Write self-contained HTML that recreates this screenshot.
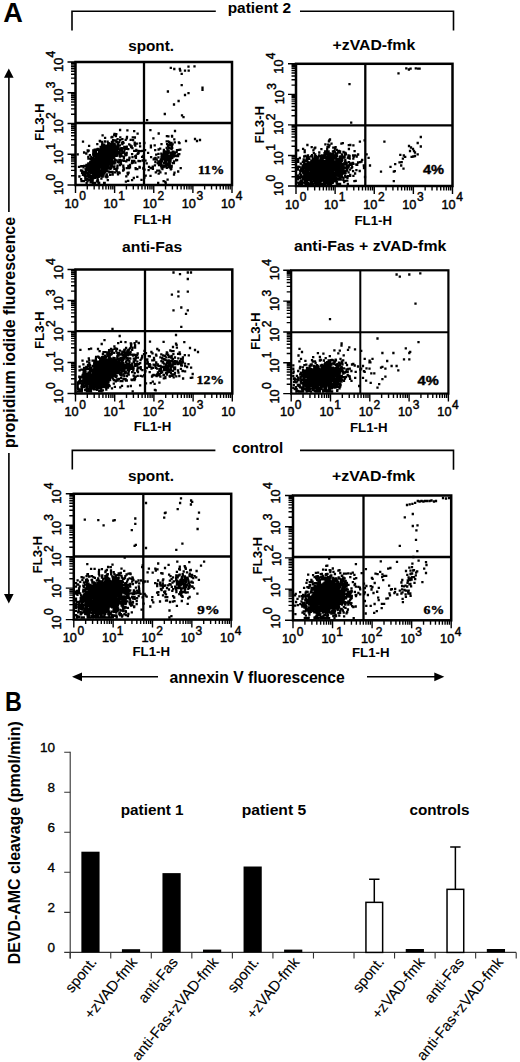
<!DOCTYPE html>
<html><head><meta charset="utf-8"><style>
html,body{margin:0;padding:0;background:#fff;}
svg{display:block;}
</style></head><body>
<svg width="520" height="1062" viewBox="0 0 520 1062">
<rect width="520" height="1062" fill="#fff"/>
<path d="M75.50 185.00v8 M75.50 185.00h-8 M87.28 185.00v4.5 M75.50 175.74h-4.5 M94.17 185.00v4.5 M75.50 170.33h-4.5 M99.06 185.00v4.5 M75.50 166.49h-4.5 M102.85 185.00v4.5 M75.50 163.51h-4.5 M105.95 185.00v4.5 M75.50 161.07h-4.5 M108.56 185.00v4.5 M75.50 159.01h-4.5 M110.83 185.00v4.5 M75.50 157.23h-4.5 M112.83 185.00v4.5 M75.50 155.66h-4.5 M114.62 185.00v8 M75.50 154.25h-8 M126.40 185.00v4.5 M75.50 144.99h-4.5 M133.29 185.00v4.5 M75.50 139.58h-4.5 M138.18 185.00v4.5 M75.50 135.74h-4.5 M141.97 185.00v4.5 M75.50 132.76h-4.5 M145.07 185.00v4.5 M75.50 130.32h-4.5 M147.69 185.00v4.5 M75.50 128.26h-4.5 M149.96 185.00v4.5 M75.50 126.48h-4.5 M151.96 185.00v4.5 M75.50 124.91h-4.5 M153.75 185.00v8 M75.50 123.50h-8 M165.53 185.00v4.5 M75.50 114.24h-4.5 M172.42 185.00v4.5 M75.50 108.83h-4.5 M177.31 185.00v4.5 M75.50 104.99h-4.5 M181.10 185.00v4.5 M75.50 102.01h-4.5 M184.20 185.00v4.5 M75.50 99.57h-4.5 M186.81 185.00v4.5 M75.50 97.51h-4.5 M189.08 185.00v4.5 M75.50 95.73h-4.5 M191.08 185.00v4.5 M75.50 94.16h-4.5 M192.88 185.00v8 M75.50 92.75h-8 M204.65 185.00v4.5 M75.50 83.49h-4.5 M211.54 185.00v4.5 M75.50 78.08h-4.5 M216.43 185.00v4.5 M75.50 74.24h-4.5 M220.22 185.00v4.5 M75.50 71.26h-4.5 M223.32 185.00v4.5 M75.50 68.82h-4.5 M225.94 185.00v4.5 M75.50 66.76h-4.5 M228.21 185.00v4.5 M75.50 64.98h-4.5 M230.21 185.00v4.5 M75.50 63.41h-4.5 M232.00 185.00v8 M75.50 62.00h-8" stroke="#000" stroke-width="1.4" fill="none"/>
<path d="M92.7 174.5h0M104.3 173.5h0M108.2 168.1h0M106.4 151.8h0M94.3 154.6h0M110.6 167.4h0M107.6 167.5h0M107.6 156.8h0M108.0 145.4h0M110.8 165.8h0M119.9 145.4h0M97.1 158.6h0M102.4 159.3h0M116.0 152.3h0M91.3 156.9h0M104.6 150.2h0M96.5 164.6h0M101.8 161.5h0M105.8 147.5h0M86.6 182.8h0M94.1 174.7h0M90.8 172.5h0M100.2 166.8h0M96.5 149.8h0M114.1 153.4h0M97.2 168.1h0M115.7 152.5h0M98.8 165.6h0M104.2 163.8h0M102.3 171.8h0M102.1 168.8h0M93.0 163.3h0M104.7 167.0h0M105.1 155.7h0M103.9 161.2h0M107.0 160.1h0M95.4 165.4h0M99.6 161.3h0M96.7 166.6h0M88.4 172.7h0M104.9 141.5h0M96.9 163.7h0M101.4 155.7h0M120.0 159.9h0M102.9 155.1h0M110.6 158.6h0M112.0 155.3h0M116.5 155.2h0M97.8 148.9h0M116.4 148.7h0M100.9 154.6h0M92.7 177.6h0M94.6 171.4h0M110.9 153.2h0M108.1 156.1h0M112.3 153.3h0M94.6 162.2h0M99.3 155.9h0M92.4 158.0h0M86.2 179.8h0M101.9 153.7h0M114.7 155.5h0M110.9 161.0h0M95.8 169.1h0M111.3 154.2h0M97.4 168.2h0M104.5 154.9h0M108.6 149.3h0M98.7 169.6h0M94.9 170.2h0M107.2 165.6h0M100.6 161.9h0M97.6 149.9h0M107.1 154.1h0M100.3 157.1h0M105.1 166.2h0M94.3 160.1h0M107.8 163.8h0M94.4 167.8h0M98.9 165.2h0M87.0 173.1h0M111.3 159.2h0M102.7 152.8h0M105.7 167.2h0M88.4 158.6h0M98.8 157.9h0M111.6 159.9h0M89.4 163.6h0M104.8 171.8h0M110.4 148.4h0M102.9 165.2h0M93.3 173.3h0M102.3 163.6h0M104.7 165.9h0M112.5 148.9h0M103.3 150.3h0M96.5 171.3h0M106.6 162.9h0M102.0 160.0h0M110.6 153.5h0M112.7 155.2h0M103.4 166.8h0M103.9 157.5h0M110.0 158.2h0M97.8 172.8h0M97.9 162.7h0M106.1 162.9h0M101.3 157.4h0M102.4 161.5h0M98.8 161.6h0M99.5 171.5h0M108.9 154.0h0M117.7 142.4h0M91.0 170.5h0M114.1 149.3h0M107.9 167.0h0M111.6 157.7h0M103.4 157.2h0M96.1 157.2h0M100.4 162.5h0M94.6 164.6h0M88.6 169.2h0M101.4 162.3h0M104.1 182.8h0M99.8 157.1h0M103.5 161.7h0M89.6 175.6h0M110.4 164.3h0M100.7 161.1h0M102.3 163.2h0M107.7 155.6h0M97.5 179.1h0M122.8 142.9h0M112.0 156.6h0M111.9 149.2h0M103.2 165.7h0M96.3 160.1h0M106.0 169.9h0M96.2 161.1h0M103.9 159.2h0M103.9 159.4h0M111.9 156.8h0M105.5 154.3h0M103.2 147.5h0M113.1 140.1h0M101.1 160.0h0M97.7 171.8h0M97.9 171.7h0M113.7 156.6h0M102.3 168.1h0M97.4 164.2h0M86.3 170.7h0M93.7 170.6h0M104.5 169.4h0M106.7 168.2h0M115.3 155.4h0M96.4 155.3h0M106.0 154.2h0M112.4 137.0h0M83.7 181.2h0M120.5 148.4h0M92.9 176.9h0M109.5 154.9h0M105.3 163.8h0M111.7 154.3h0M107.2 147.2h0M104.4 162.8h0M101.0 163.3h0M95.8 166.9h0M106.7 169.8h0M86.6 164.9h0M100.5 151.2h0M108.2 163.7h0M92.8 176.1h0M108.7 161.3h0M109.8 156.8h0M100.8 163.9h0M106.4 159.3h0M107.1 155.7h0M100.0 171.4h0M118.5 146.3h0M114.2 143.7h0M110.1 156.0h0M113.2 148.6h0M112.5 147.7h0M91.0 172.8h0M122.4 139.1h0M90.4 162.0h0M103.7 155.7h0M93.1 160.8h0M107.1 154.7h0M105.6 156.2h0M104.0 150.7h0M79.0 166.9h0M108.5 171.4h0M85.6 169.3h0M114.1 156.6h0M95.9 166.1h0M97.7 162.0h0M99.1 175.0h0M94.8 163.8h0M92.8 170.4h0M108.5 160.4h0M96.0 173.1h0M97.3 165.9h0M95.0 153.1h0M119.3 159.9h0M103.5 162.1h0M114.2 148.2h0M96.8 158.1h0M93.2 165.8h0M98.0 160.5h0M100.4 166.6h0M99.2 170.6h0M103.2 161.6h0M98.4 162.3h0M93.1 165.3h0M107.9 155.0h0M99.5 165.1h0M106.0 159.8h0M105.2 158.8h0M92.8 182.8h0M90.6 171.1h0M92.1 166.2h0M104.2 166.7h0M97.8 170.0h0M94.2 167.0h0M91.1 175.8h0M111.9 158.9h0M98.4 154.3h0M103.6 151.0h0M101.1 154.8h0M105.1 153.5h0M102.7 149.1h0M112.2 149.6h0M106.4 157.6h0M91.6 167.3h0M100.7 160.5h0M101.0 162.8h0M91.6 166.4h0M88.1 164.5h0M100.5 152.2h0M104.4 158.7h0M92.0 171.3h0M116.5 146.5h0M106.9 153.4h0M97.7 169.4h0M118.0 162.1h0M89.4 179.5h0M93.5 162.5h0M93.0 161.6h0M111.0 152.6h0M95.6 166.2h0M107.5 159.3h0M103.6 146.5h0M96.9 173.1h0M102.7 166.4h0M92.1 164.2h0M108.4 160.1h0M93.7 161.7h0M94.6 165.2h0M107.1 167.6h0M97.8 154.2h0M116.7 147.0h0M112.8 150.0h0M88.5 167.5h0M103.0 162.1h0M119.0 162.1h0M97.3 157.5h0M96.7 169.8h0M100.2 159.3h0M100.0 164.9h0M97.5 159.6h0M94.9 163.5h0M114.0 145.3h0M103.0 155.7h0M93.3 150.4h0M90.6 166.2h0M99.1 156.3h0M91.8 165.5h0M91.4 161.8h0M110.6 162.4h0M97.3 162.9h0M103.3 168.8h0M97.2 156.7h0M116.3 141.7h0M101.5 155.1h0M96.9 158.8h0M92.7 179.8h0M106.9 152.6h0M100.4 167.3h0M105.1 162.8h0M88.9 180.1h0M98.7 161.7h0M102.6 151.4h0M106.0 150.1h0M103.9 170.4h0M99.6 167.4h0M112.0 165.2h0M101.6 172.9h0M85.2 175.2h0M91.6 168.2h0M101.4 166.0h0M91.1 166.4h0M92.1 167.8h0M104.7 164.9h0M103.9 147.7h0M104.8 146.4h0M107.5 165.9h0M102.3 165.2h0M95.5 162.5h0M112.1 150.7h0M110.2 155.5h0M115.7 140.4h0M105.8 152.7h0M103.2 167.4h0M104.1 166.9h0M104.9 170.9h0M87.7 174.2h0M101.3 170.3h0M99.7 152.4h0M105.5 148.7h0M105.1 137.9h0M100.0 152.0h0M99.1 149.5h0M91.9 172.4h0M104.8 164.2h0M98.8 153.0h0M99.7 150.6h0M111.2 161.7h0M111.0 164.2h0M100.0 153.4h0M116.1 153.2h0M108.3 167.0h0M102.9 162.5h0M95.2 176.8h0M95.2 166.2h0M109.8 157.4h0M86.5 168.7h0M115.9 136.1h0M107.7 153.3h0M99.3 155.5h0M115.1 159.7h0M103.9 149.4h0M91.9 166.8h0M96.5 165.0h0M93.1 171.2h0M117.5 165.6h0M102.6 164.3h0M100.2 163.9h0M108.1 158.4h0M106.3 165.2h0M96.1 153.9h0M85.8 172.2h0M109.0 150.7h0M99.5 163.7h0M108.7 143.2h0M101.7 175.0h0M96.5 165.4h0M113.5 145.9h0M96.5 170.6h0M105.5 165.4h0M82.4 170.7h0M95.1 165.2h0M109.3 145.8h0M86.3 173.4h0M97.7 171.6h0M113.3 162.2h0M110.7 156.7h0M98.8 162.0h0M110.6 150.7h0M111.0 154.3h0M100.3 158.1h0M83.9 181.2h0M116.3 154.3h0M97.8 165.1h0M112.7 151.0h0M95.9 172.7h0M99.0 164.0h0M103.3 164.1h0M102.2 157.6h0M118.3 152.3h0M88.5 165.3h0M98.1 159.1h0M104.1 170.0h0M98.0 166.2h0M98.0 159.8h0M101.5 163.6h0M108.0 168.5h0M90.8 179.2h0M117.6 144.6h0M99.5 168.0h0M97.3 170.3h0M93.5 163.9h0M94.8 159.6h0M106.1 148.5h0M99.1 163.5h0M87.0 176.3h0M100.8 160.3h0M110.7 143.9h0M115.5 150.0h0M100.6 164.1h0M91.1 163.8h0M97.3 166.8h0M112.2 155.2h0M118.5 152.2h0M100.8 159.0h0M90.1 165.1h0M108.5 158.2h0M109.4 158.8h0M122.0 149.9h0M102.2 163.5h0M125.2 147.5h0M93.5 167.0h0M114.0 148.7h0M111.2 160.2h0M108.8 158.3h0M96.0 162.8h0M101.1 167.6h0M92.6 180.7h0M102.5 154.1h0M104.5 160.9h0M106.8 167.0h0M84.8 172.3h0M102.7 156.6h0M93.7 178.2h0M110.6 161.2h0M97.7 163.5h0M101.8 155.3h0M100.4 165.8h0M92.4 165.4h0M94.9 176.3h0M112.3 159.7h0M82.1 172.9h0M97.9 163.2h0M108.6 150.8h0M108.8 162.1h0M86.2 165.7h0M103.4 156.4h0M104.0 160.5h0M98.8 176.9h0M103.3 157.4h0M106.3 154.7h0M109.7 156.9h0M101.1 164.7h0M95.1 182.8h0M90.6 170.6h0M96.0 158.3h0M96.6 174.4h0M101.7 165.0h0M117.7 153.0h0M106.9 158.7h0M109.5 164.5h0M98.6 167.0h0M93.2 162.2h0M98.9 166.1h0M97.8 175.6h0M118.6 153.2h0M113.8 150.9h0M108.9 153.1h0M101.4 178.6h0M91.7 177.4h0M99.5 157.0h0M97.1 168.9h0M96.0 174.7h0M105.5 165.1h0M118.7 149.4h0M100.7 148.6h0M103.1 159.0h0M104.8 158.3h0M96.9 170.6h0M113.0 152.0h0M106.6 154.2h0M103.1 171.7h0M106.9 164.8h0M98.7 159.2h0M100.6 146.9h0M112.7 141.3h0M110.5 154.2h0M91.0 167.4h0M122.5 153.2h0M106.3 170.9h0M94.9 167.8h0M107.5 159.1h0M107.6 146.9h0M112.4 152.5h0M88.9 176.8h0M112.7 145.4h0M99.9 160.4h0M99.0 151.3h0M102.8 158.2h0M106.4 170.4h0M104.6 153.9h0M99.9 159.2h0M107.8 153.6h0M125.9 147.1h0M100.0 158.6h0M112.8 143.8h0M110.2 174.9h0M92.0 158.8h0M106.9 157.8h0M118.0 147.9h0M93.3 152.5h0M99.2 182.8h0M96.4 161.5h0M113.6 149.9h0M97.1 169.6h0M102.0 145.8h0M105.9 156.7h0M110.5 145.6h0M108.3 151.3h0M94.9 162.0h0M86.3 153.5h0M110.0 151.2h0M102.6 162.0h0M107.2 149.9h0M97.2 165.1h0M102.0 158.7h0M113.1 162.9h0M90.2 167.5h0M89.5 169.7h0M112.6 151.7h0M103.3 171.7h0M94.3 169.1h0M88.8 172.2h0M102.7 165.8h0M103.2 175.3h0M100.6 155.8h0M112.7 163.7h0M94.0 159.1h0M114.2 158.1h0M97.3 173.0h0M114.3 161.4h0M97.0 181.3h0M91.9 158.7h0M106.2 162.2h0M117.1 147.7h0M90.8 166.2h0M102.2 161.0h0M123.5 142.9h0M106.8 150.6h0M98.0 180.5h0M109.4 156.5h0M105.1 146.2h0M101.3 159.8h0M99.9 162.9h0M112.4 152.0h0M103.3 158.2h0M96.0 174.2h0M98.0 159.7h0M104.5 156.1h0M105.6 154.8h0M109.2 151.3h0M92.4 168.5h0M87.5 178.8h0M99.4 163.9h0M104.7 160.4h0M109.8 152.4h0M99.1 152.5h0M110.4 168.8h0M101.7 159.5h0M111.2 148.0h0M107.3 157.8h0M95.6 173.7h0M109.2 159.0h0M82.7 166.2h0M108.8 152.6h0M100.8 155.4h0M95.0 164.4h0M120.3 137.4h0M95.0 177.9h0M96.9 167.1h0M99.5 164.7h0M106.4 162.5h0M105.4 152.7h0M82.9 174.8h0M111.5 166.3h0M110.8 165.4h0M109.6 148.0h0M106.1 154.9h0M89.9 167.1h0M108.2 143.6h0M93.5 166.6h0M107.4 156.2h0M94.1 156.1h0M93.5 165.0h0M106.9 152.1h0M110.4 162.2h0M97.7 170.2h0M102.1 170.3h0M112.8 151.5h0M104.3 161.8h0M87.5 181.3h0M95.3 170.6h0M111.9 153.0h0M113.0 155.1h0M112.6 173.4h0M94.9 169.0h0M107.8 150.0h0M101.0 166.1h0M94.8 171.1h0M117.8 153.3h0M101.4 165.6h0M112.0 160.4h0M103.8 154.1h0M105.4 145.8h0M103.5 159.6h0M120.0 154.5h0M105.0 151.4h0M104.3 167.6h0M103.4 154.1h0M111.6 155.2h0M95.5 166.5h0M89.8 179.6h0M104.1 151.8h0M105.7 152.2h0M92.5 164.4h0M104.2 161.6h0M89.1 179.5h0M84.9 173.1h0M102.0 158.1h0M108.7 163.5h0M91.2 178.6h0M111.5 137.3h0M102.9 164.4h0M105.6 151.0h0M117.6 153.6h0M101.8 162.7h0M100.6 164.3h0M98.6 162.8h0M101.3 167.4h0M90.2 162.5h0M93.4 177.4h0M87.5 176.3h0M108.2 147.8h0M101.1 150.1h0M111.8 166.2h0M98.9 155.7h0M94.4 167.1h0M116.0 155.2h0M79.4 176.5h0M103.2 146.7h0M114.6 152.0h0M102.1 166.1h0M85.4 179.8h0M96.4 162.5h0M94.2 160.7h0M111.9 142.1h0M98.5 159.4h0M107.9 160.8h0M97.8 163.3h0M96.5 172.8h0M99.4 158.6h0M84.9 175.8h0M106.7 156.5h0M84.6 175.6h0M101.5 156.0h0M112.3 155.6h0M102.2 174.6h0M99.5 153.7h0M104.3 165.5h0M105.8 153.6h0M109.1 156.9h0M98.2 161.6h0M93.8 177.4h0M100.8 159.7h0M120.1 161.3h0M108.1 157.4h0M104.5 151.1h0M117.9 152.8h0M102.6 156.0h0M89.7 175.0h0M100.5 156.4h0M97.6 165.7h0M97.4 176.9h0M112.3 157.2h0M106.7 153.5h0M115.0 140.5h0M104.2 158.6h0M93.2 175.6h0M87.9 168.7h0M100.9 162.2h0M114.8 151.6h0M93.0 167.7h0M102.3 143.3h0M88.7 150.7h0M94.6 173.5h0M113.0 150.5h0M96.6 172.7h0M102.7 171.2h0M101.4 158.2h0M111.4 162.3h0M109.6 163.7h0M105.5 161.3h0M95.4 163.2h0M109.6 152.9h0M85.3 177.7h0M110.0 150.5h0M102.1 144.6h0M95.2 154.0h0M105.6 155.6h0M104.3 144.7h0M95.8 167.8h0M109.1 157.9h0M106.2 161.4h0M116.7 160.4h0M110.0 153.6h0M114.8 144.3h0M94.9 163.0h0M104.8 152.5h0M110.4 163.4h0M108.8 156.0h0M93.7 173.8h0M94.4 170.3h0M111.5 147.2h0M107.8 156.5h0M127.0 136.9h0M95.9 152.1h0M89.1 169.8h0M92.7 159.7h0M104.6 170.0h0M104.6 156.4h0M99.9 158.0h0M96.1 163.9h0M104.5 151.3h0M98.1 164.4h0M109.7 159.3h0M97.3 155.2h0M111.8 148.5h0M111.8 159.8h0M115.1 146.6h0M94.7 165.3h0M110.1 149.6h0M113.4 147.1h0M94.8 152.7h0M101.1 171.1h0M107.1 158.9h0M88.7 168.7h0M97.2 174.6h0M117.2 141.8h0M110.8 157.1h0M112.7 174.7h0M91.6 161.1h0M123.8 156.6h0M85.8 171.6h0M88.3 156.9h0M132.8 137.3h0M117.6 139.1h0M122.4 144.0h0M102.0 165.0h0M91.0 176.6h0M104.7 152.2h0M127.3 159.9h0M134.2 131.2h0M101.5 157.0h0M117.3 167.7h0M97.1 165.9h0M100.2 160.9h0M102.0 162.8h0M88.4 163.4h0M90.5 177.0h0M145.1 150.2h0M92.2 161.1h0M134.3 160.9h0M98.5 174.2h0M84.3 172.2h0M139.9 143.4h0M117.0 150.6h0M120.1 140.2h0M86.4 167.4h0M130.4 145.4h0M103.8 151.6h0M107.5 145.7h0M84.1 152.5h0M102.9 148.2h0M126.7 153.0h0M98.9 169.1h0M96.8 149.5h0M124.7 149.4h0M91.1 159.0h0M125.7 139.9h0M107.6 141.7h0M134.2 150.8h0M135.4 162.7h0M112.2 152.4h0M91.2 180.2h0M122.5 142.8h0M120.0 150.2h0M106.1 171.3h0M119.8 149.6h0M108.7 152.0h0M80.9 166.4h0M116.7 168.9h0M105.3 163.6h0M100.2 141.4h0M135.3 145.6h0M89.5 171.9h0M105.2 167.3h0M137.6 133.7h0M102.0 172.4h0M93.2 154.5h0M110.3 171.8h0M114.5 133.9h0M114.4 163.5h0M99.1 162.5h0M104.7 182.8h0M103.7 159.1h0M120.1 130.0h0M158.7 133.5h0M112.6 172.0h0M111.9 165.7h0M92.0 165.2h0M123.9 158.3h0M98.3 182.5h0M137.3 176.8h0M100.6 157.3h0M134.9 137.5h0M102.0 141.9h0M122.9 142.1h0M105.8 160.9h0M133.3 137.3h0M140.1 146.3h0M107.8 180.1h0M111.2 168.0h0M116.3 134.2h0M120.0 165.2h0M103.8 162.1h0M106.4 156.2h0M100.7 174.6h0M128.3 149.1h0M102.1 163.8h0M106.7 177.3h0M106.8 174.3h0M105.9 145.8h0M98.6 155.3h0M107.6 158.3h0M144.4 143.0h0M96.8 162.5h0M95.7 172.7h0M120.8 161.9h0M84.2 173.3h0M113.8 167.0h0M94.2 150.8h0M90.7 159.0h0M81.5 181.0h0M117.9 144.5h0M87.9 151.3h0M100.7 148.1h0M99.7 174.0h0M136.3 149.8h0M121.0 154.1h0M130.7 139.8h0M87.7 150.5h0M114.4 168.9h0M127.4 130.4h0M119.2 142.4h0M84.2 165.9h0M94.7 149.6h0M120.8 149.8h0M81.1 179.2h0M114.2 135.2h0M116.3 155.9h0M101.3 176.2h0M87.7 169.8h0M111.6 148.0h0M81.0 170.5h0M90.6 182.4h0M123.4 167.1h0M124.1 151.6h0M97.7 159.1h0M128.2 167.7h0M77.7 154.3h0M88.7 166.4h0M102.6 135.3h0M119.8 152.0h0M102.7 176.7h0M103.4 165.7h0M97.6 178.7h0M126.8 146.6h0M93.6 158.0h0M81.7 166.2h0M112.7 157.6h0M117.4 155.5h0M110.5 163.0h0M115.3 162.6h0M99.4 175.4h0M89.9 155.2h0M117.9 144.1h0M128.9 160.1h0M90.0 166.2h0M106.3 168.5h0M93.5 151.9h0M108.9 153.6h0M83.5 167.3h0M118.9 172.4h0M123.3 165.6h0M117.7 172.7h0M115.0 172.4h0M120.0 156.7h0M140.1 161.2h0M125.5 155.4h0M129.2 144.4h0M121.0 164.0h0M122.2 143.0h0M126.3 176.3h0M109.4 172.4h0M116.1 169.3h0M137.6 153.9h0M132.1 161.0h0M119.6 173.0h0M131.7 146.3h0M123.0 152.2h0M130.0 167.4h0M123.4 152.6h0M129.1 168.2h0M134.7 144.4h0M129.4 158.3h0M122.2 151.8h0M135.8 150.8h0M135.9 157.9h0M128.4 166.0h0M135.8 169.2h0M136.0 155.7h0M133.1 140.1h0M114.4 166.3h0M127.8 174.3h0M132.9 162.7h0M125.9 181.6h0M118.0 174.3h0M129.5 157.6h0M117.4 168.0h0M119.3 162.5h0M132.4 148.2h0M132.5 157.1h0M123.7 168.3h0M126.0 148.9h0M139.8 167.6h0M109.8 147.1h0M128.6 172.7h0M131.9 163.2h0M135.2 156.4h0M127.2 160.1h0M122.8 148.4h0M139.5 167.0h0M123.9 169.7h0M126.7 148.0h0M142.7 160.5h0M124.2 160.9h0M121.7 148.1h0M133.8 178.0h0M107.5 176.7h0M121.5 156.0h0M126.3 161.3h0M128.2 180.8h0M107.7 165.4h0M122.1 160.5h0M130.0 165.0h0M116.7 170.8h0M118.4 161.7h0M111.4 165.3h0M137.3 169.1h0M138.3 152.4h0M138.3 150.9h0M119.8 162.1h0M126.8 138.3h0M131.2 147.1h0M138.5 161.0h0M89.1 145.9h0M105.7 176.5h0M127.6 172.9h0M124.3 147.0h0M132.1 154.1h0M142.4 150.8h0M125.2 153.8h0M128.2 173.2h0M142.1 156.9h0M123.1 170.5h0M83.0 141.7h0M134.7 142.7h0M99.2 156.0h0M97.3 144.1h0M105.2 149.7h0M136.8 143.6h0M124.0 152.4h0M140.6 151.2h0M126.5 154.9h0M107.0 146.0h0M99.8 140.8h0M141.5 179.8h0M97.9 164.2h0M126.8 168.1h0M174.5 155.2h0M169.6 158.4h0M172.4 156.6h0M161.7 166.8h0M171.9 146.8h0M166.8 167.9h0M174.3 152.3h0M164.5 152.4h0M169.4 163.4h0M170.2 143.4h0M177.7 154.4h0M170.5 143.1h0M163.0 165.8h0M169.0 152.7h0M178.2 171.5h0M163.8 151.8h0M159.4 170.6h0M164.4 157.2h0M172.5 154.4h0M158.4 157.3h0M161.9 155.4h0M180.3 149.6h0M166.1 166.5h0M166.4 162.2h0M168.9 160.6h0M168.7 150.4h0M164.0 159.4h0M166.1 162.1h0M158.5 153.9h0M170.3 160.8h0M168.6 164.6h0M179.3 154.1h0M163.7 159.4h0M164.8 161.5h0M163.8 154.2h0M165.9 164.4h0M171.1 167.3h0M173.3 154.1h0M165.4 159.7h0M166.9 155.0h0M163.8 156.2h0M172.8 151.9h0M161.8 154.6h0M163.3 165.3h0M167.0 155.6h0M168.0 156.2h0M160.3 160.9h0M166.1 163.9h0M170.5 161.3h0M163.7 167.2h0M163.9 150.0h0M177.8 154.3h0M172.8 163.2h0M178.9 142.3h0M177.0 150.1h0M171.1 148.4h0M172.9 155.4h0M157.8 163.4h0M160.8 161.2h0M165.8 155.4h0M172.3 158.1h0M168.2 151.2h0M164.1 165.5h0M160.8 159.7h0M174.8 142.3h0M161.4 158.8h0M168.3 159.4h0M167.9 141.4h0M165.7 173.3h0M168.2 153.0h0M168.7 145.2h0M176.1 160.4h0M162.4 169.1h0M161.8 161.3h0M174.9 153.1h0M171.6 166.8h0M169.0 161.3h0M168.3 146.1h0M166.5 164.4h0M169.8 163.8h0M172.6 144.3h0M171.8 145.5h0M167.9 165.0h0M167.5 153.5h0M155.1 159.2h0M174.0 161.3h0M165.4 156.2h0M164.7 151.4h0M170.7 159.4h0M167.6 156.1h0M166.0 158.4h0M167.2 158.0h0M171.5 143.0h0M168.2 156.9h0M167.2 156.8h0M161.6 161.4h0M173.3 156.6h0M161.5 161.2h0M163.8 159.1h0M170.2 160.8h0M165.6 158.6h0M169.9 165.8h0M161.5 156.9h0M167.0 154.3h0M171.7 165.9h0M174.5 156.2h0M166.1 156.9h0M169.1 147.9h0M170.2 158.4h0M179.5 143.1h0M162.5 155.0h0M176.7 151.8h0M163.0 166.6h0M169.6 162.0h0M173.9 156.3h0M161.0 163.5h0M171.0 154.7h0M159.0 165.2h0M171.4 155.3h0M168.8 160.0h0M178.1 156.2h0M169.7 143.0h0M170.9 145.3h0M166.7 141.4h0M174.3 139.4h0M164.7 155.2h0M162.7 157.8h0M167.8 163.6h0M171.3 168.9h0M171.1 152.7h0M167.6 164.9h0M159.8 164.2h0M160.2 148.7h0M167.4 150.0h0M171.6 149.1h0M176.3 155.9h0M173.9 163.1h0M172.2 147.9h0M166.3 153.7h0M166.8 159.9h0M164.8 153.4h0M165.2 165.4h0M171.7 158.2h0M165.5 165.6h0M166.0 151.8h0M168.6 166.9h0M148.6 170.2h0M167.6 179.6h0M165.3 181.8h0M168.0 146.0h0M168.4 136.4h0M166.9 136.2h0M156.2 154.6h0M178.8 149.9h0M143.3 155.9h0M173.4 151.7h0M161.9 160.1h0M156.7 159.6h0M149.0 166.8h0M154.7 145.4h0M154.5 158.4h0M135.6 168.2h0M163.6 181.1h0M143.3 168.6h0M151.1 157.2h0M143.5 167.8h0M180.7 168.1h0M160.1 162.1h0M165.1 157.4h0M161.3 153.6h0M161.5 144.1h0M150.9 145.7h0M177.1 160.1h0M166.7 147.9h0M148.1 152.9h0M163.8 162.9h0M152.9 168.9h0M146.7 163.4h0M144.0 159.5h0M155.4 162.1h0M144.4 177.7h0M150.9 147.3h0M158.2 182.8h0M145.7 175.7h0M155.6 159.5h0M150.5 175.9h0M176.1 159.8h0M158.3 161.5h0M174.0 174.7h0M170.8 169.3h0M169.2 141.9h0M153.7 159.3h0M157.3 170.7h0M172.1 136.5h0M169.6 155.7h0M150.4 130.2h0M132.1 180.1h0M160.6 161.5h0M152.8 166.7h0M169.7 167.5h0M167.1 144.1h0M155.8 172.4h0M138.6 153.0h0M165.7 182.8h0M155.2 150.2h0M161.1 166.0h0M160.4 172.4h0M158.6 149.5h0M162.6 159.4h0M154.9 165.3h0M158.7 173.6h0M161.6 167.6h0M150.6 168.0h0M153.4 138.3h0M145.5 160.6h0M174.5 172.7h0M155.6 157.8h0M177.1 156.0h0M144.5 169.7h0M169.5 157.1h0M171.9 157.2h0M170.8 67.8h0M174.3 69.0h0M179.8 69.0h0M180.3 70.7h0M185.0 70.7h0M188.5 66.6h0M188.7 70.7h0M194.5 66.4h0M181.7 73.8h0M181.7 85.1h0M167.9 91.5h0M202.5 87.7h0M202.5 89.8h0M188.5 93.2h0M185.0 95.0h0M178.6 101.0h0M174.0 104.5h0M164.8 114.0h0M182.0 115.4h0M183.5 117.1h0M147.1 120.2h0M172.0 136.0h0M186.0 141.0h0M195.0 139.0h0M197.0 141.0h0M200.0 140.0h0M175.0 131.0h0" stroke="#000" stroke-width="2.3" stroke-linecap="square" fill="none"/>
<rect x="75.50" y="62.00" width="156.50" height="123.00" fill="none" stroke="#000" stroke-width="2.5"/>
<line x1="144.00" y1="62.00" x2="144.00" y2="185.00" stroke="#000" stroke-width="2.3"/>
<line x1="75.50" y1="123.00" x2="232.00" y2="123.00" stroke="#000" stroke-width="2.3"/>
<text x="71.50" y="207.80" font-size="13" font-weight="normal" font-family="'Liberation Sans', sans-serif" text-anchor="middle" textLength="14.2" lengthAdjust="spacingAndGlyphs" stroke="#000" stroke-width="0.45">10</text>
<text x="82.50" y="200.30" font-size="12" font-weight="normal" font-family="'Liberation Sans', sans-serif" text-anchor="middle" stroke="#000" stroke-width="0.45">0</text>
<text x="110.62" y="207.80" font-size="13" font-weight="normal" font-family="'Liberation Sans', sans-serif" text-anchor="middle" textLength="14.2" lengthAdjust="spacingAndGlyphs" stroke="#000" stroke-width="0.45">10</text>
<text x="121.62" y="200.30" font-size="12" font-weight="normal" font-family="'Liberation Sans', sans-serif" text-anchor="middle" stroke="#000" stroke-width="0.45">1</text>
<text x="149.75" y="207.80" font-size="13" font-weight="normal" font-family="'Liberation Sans', sans-serif" text-anchor="middle" textLength="14.2" lengthAdjust="spacingAndGlyphs" stroke="#000" stroke-width="0.45">10</text>
<text x="160.75" y="200.30" font-size="12" font-weight="normal" font-family="'Liberation Sans', sans-serif" text-anchor="middle" stroke="#000" stroke-width="0.45">2</text>
<text x="188.88" y="207.80" font-size="13" font-weight="normal" font-family="'Liberation Sans', sans-serif" text-anchor="middle" textLength="14.2" lengthAdjust="spacingAndGlyphs" stroke="#000" stroke-width="0.45">10</text>
<text x="199.88" y="200.30" font-size="12" font-weight="normal" font-family="'Liberation Sans', sans-serif" text-anchor="middle" stroke="#000" stroke-width="0.45">3</text>
<text x="228.00" y="207.80" font-size="13" font-weight="normal" font-family="'Liberation Sans', sans-serif" text-anchor="middle" textLength="14.2" lengthAdjust="spacingAndGlyphs" stroke="#000" stroke-width="0.45">10</text>
<text x="239.00" y="200.30" font-size="12" font-weight="normal" font-family="'Liberation Sans', sans-serif" text-anchor="middle" stroke="#000" stroke-width="0.45">4</text>
<text x="63.00" y="194.90" font-size="13" font-weight="normal" font-family="'Liberation Sans', sans-serif" textLength="14.2" lengthAdjust="spacingAndGlyphs" transform="rotate(-90 63.00 194.90)" stroke="#000" stroke-width="0.45">10</text>
<text x="55.00" y="180.40" font-size="12" font-weight="normal" font-family="'Liberation Sans', sans-serif" transform="rotate(-90 55.00 180.40)" stroke="#000" stroke-width="0.45">0</text>
<text x="63.00" y="164.15" font-size="13" font-weight="normal" font-family="'Liberation Sans', sans-serif" textLength="14.2" lengthAdjust="spacingAndGlyphs" transform="rotate(-90 63.00 164.15)" stroke="#000" stroke-width="0.45">10</text>
<text x="55.00" y="149.65" font-size="12" font-weight="normal" font-family="'Liberation Sans', sans-serif" transform="rotate(-90 55.00 149.65)" stroke="#000" stroke-width="0.45">1</text>
<text x="63.00" y="133.40" font-size="13" font-weight="normal" font-family="'Liberation Sans', sans-serif" textLength="14.2" lengthAdjust="spacingAndGlyphs" transform="rotate(-90 63.00 133.40)" stroke="#000" stroke-width="0.45">10</text>
<text x="55.00" y="118.90" font-size="12" font-weight="normal" font-family="'Liberation Sans', sans-serif" transform="rotate(-90 55.00 118.90)" stroke="#000" stroke-width="0.45">2</text>
<text x="63.00" y="102.65" font-size="13" font-weight="normal" font-family="'Liberation Sans', sans-serif" textLength="14.2" lengthAdjust="spacingAndGlyphs" transform="rotate(-90 63.00 102.65)" stroke="#000" stroke-width="0.45">10</text>
<text x="55.00" y="88.15" font-size="12" font-weight="normal" font-family="'Liberation Sans', sans-serif" transform="rotate(-90 55.00 88.15)" stroke="#000" stroke-width="0.45">3</text>
<text x="63.00" y="71.90" font-size="13" font-weight="normal" font-family="'Liberation Sans', sans-serif" textLength="14.2" lengthAdjust="spacingAndGlyphs" transform="rotate(-90 63.00 71.90)" stroke="#000" stroke-width="0.45">10</text>
<text x="55.00" y="57.40" font-size="12" font-weight="normal" font-family="'Liberation Sans', sans-serif" transform="rotate(-90 55.00 57.40)" stroke="#000" stroke-width="0.45">4</text>
<text x="133.80" y="223.70" font-size="13.5" font-weight="bold" font-family="'Liberation Sans', sans-serif" textLength="37.5" lengthAdjust="spacingAndGlyphs" >FL1-H</text>
<text x="44.00" y="141.00" font-size="13.5" font-weight="bold" font-family="'Liberation Sans', sans-serif" textLength="37.5" lengthAdjust="spacingAndGlyphs" transform="rotate(-90 44.00 141.00)" >FL3-H</text>
<text x="128.20" y="51.30" font-size="15.5" font-weight="bold" font-family="'Liberation Sans', sans-serif" textLength="45.8" lengthAdjust="spacingAndGlyphs" >spont.</text>
<text x="198.00" y="173.90" font-size="13.5" font-weight="bold" font-family="'Liberation Serif', serif" textLength="26.4" lengthAdjust="spacingAndGlyphs" stroke="#000" stroke-width="0.4">11%</text>
<path d="M296.00 186.00v8 M296.00 186.00h-8 M307.78 186.00v4.5 M296.00 176.80h-4.5 M314.67 186.00v4.5 M296.00 171.42h-4.5 M319.56 186.00v4.5 M296.00 167.61h-4.5 M323.35 186.00v4.5 M296.00 164.65h-4.5 M326.45 186.00v4.5 M296.00 162.23h-4.5 M329.06 186.00v4.5 M296.00 160.18h-4.5 M331.33 186.00v4.5 M296.00 158.41h-4.5 M333.33 186.00v4.5 M296.00 156.85h-4.5 M335.12 186.00v8 M296.00 155.45h-8 M346.90 186.00v4.5 M296.00 146.25h-4.5 M353.79 186.00v4.5 M296.00 140.87h-4.5 M358.68 186.00v4.5 M296.00 137.06h-4.5 M362.47 186.00v4.5 M296.00 134.10h-4.5 M365.57 186.00v4.5 M296.00 131.68h-4.5 M368.19 186.00v4.5 M296.00 129.63h-4.5 M370.46 186.00v4.5 M296.00 127.86h-4.5 M372.46 186.00v4.5 M296.00 126.30h-4.5 M374.25 186.00v8 M296.00 124.90h-8 M386.03 186.00v4.5 M296.00 115.70h-4.5 M392.92 186.00v4.5 M296.00 110.32h-4.5 M397.81 186.00v4.5 M296.00 106.51h-4.5 M401.60 186.00v4.5 M296.00 103.55h-4.5 M404.70 186.00v4.5 M296.00 101.13h-4.5 M407.31 186.00v4.5 M296.00 99.08h-4.5 M409.58 186.00v4.5 M296.00 97.31h-4.5 M411.58 186.00v4.5 M296.00 95.75h-4.5 M413.38 186.00v8 M296.00 94.35h-8 M425.15 186.00v4.5 M296.00 85.15h-4.5 M432.04 186.00v4.5 M296.00 79.77h-4.5 M436.93 186.00v4.5 M296.00 75.96h-4.5 M440.72 186.00v4.5 M296.00 73.00h-4.5 M443.82 186.00v4.5 M296.00 70.58h-4.5 M446.44 186.00v4.5 M296.00 68.53h-4.5 M448.71 186.00v4.5 M296.00 66.76h-4.5 M450.71 186.00v4.5 M296.00 65.20h-4.5 M452.50 186.00v8 M296.00 63.80h-8" stroke="#000" stroke-width="1.4" fill="none"/>
<path d="M314.5 148.4h0M299.6 166.8h0M331.2 178.0h0M332.9 164.4h0M320.3 177.8h0M328.4 178.1h0M344.5 152.6h0M336.7 164.1h0M332.5 167.2h0M332.3 180.3h0M313.6 183.8h0M335.6 161.8h0M304.2 178.8h0M320.0 173.3h0M318.8 161.7h0M303.3 182.6h0M322.7 183.8h0M343.7 157.7h0M319.9 175.9h0M309.5 166.7h0M322.9 178.8h0M334.2 177.1h0M326.3 166.5h0M324.0 168.3h0M307.1 183.8h0M330.0 167.1h0M329.8 177.5h0M340.1 152.5h0M341.9 154.4h0M332.3 177.0h0M304.3 175.1h0M306.8 170.2h0M310.8 162.7h0M327.5 170.6h0M314.6 160.0h0M339.7 165.2h0M326.9 174.2h0M328.4 166.1h0M333.0 154.6h0M328.1 154.6h0M307.1 168.3h0M353.4 145.3h0M341.6 172.4h0M342.3 159.9h0M315.0 165.3h0M301.8 169.9h0M305.9 165.7h0M311.4 182.1h0M334.6 161.5h0M334.8 156.9h0M341.5 174.6h0M349.7 158.5h0M330.3 180.1h0M328.3 174.2h0M319.6 166.2h0M320.0 170.5h0M310.1 163.0h0M330.1 158.6h0M327.8 177.6h0M319.1 167.0h0M314.3 169.4h0M329.5 164.2h0M339.7 167.5h0M325.0 166.7h0M327.4 169.2h0M317.4 171.0h0M321.0 180.9h0M320.2 166.2h0M320.6 169.4h0M316.8 171.9h0M328.8 161.1h0M339.6 171.0h0M312.6 170.8h0M340.8 162.0h0M319.2 164.2h0M319.6 169.8h0M298.1 176.1h0M332.8 174.1h0M310.9 169.5h0M333.7 179.0h0M324.6 170.6h0M327.0 178.3h0M340.0 164.4h0M323.1 179.3h0M303.1 167.8h0M335.7 164.6h0M348.0 167.7h0M322.8 156.8h0M315.6 173.4h0M307.3 156.9h0M330.6 170.4h0M302.4 167.1h0M309.1 162.6h0M325.6 165.1h0M325.2 180.2h0M320.9 183.8h0M336.8 164.8h0M309.1 183.8h0M309.7 175.1h0M319.0 183.8h0M324.8 170.8h0M319.9 176.9h0M347.9 157.7h0M316.8 181.8h0M331.6 176.0h0M317.0 181.3h0M327.8 182.9h0M318.7 168.9h0M319.3 175.1h0M343.5 151.9h0M320.0 164.0h0M344.6 156.9h0M315.1 178.9h0M318.4 176.4h0M337.3 171.6h0M324.2 178.0h0M329.7 165.6h0M330.9 183.8h0M320.1 183.8h0M306.7 181.3h0M334.0 150.8h0M329.4 162.5h0M310.3 177.3h0M325.0 168.1h0M345.9 153.7h0M325.5 171.8h0M309.6 167.5h0M318.8 174.2h0M319.5 174.1h0M328.1 182.5h0M335.0 161.7h0M312.6 182.0h0M316.0 164.6h0M336.4 177.5h0M333.0 173.6h0M340.5 171.6h0M306.2 175.4h0M312.3 167.4h0M336.2 172.1h0M312.4 177.5h0M327.9 180.3h0M323.3 174.1h0M314.8 176.3h0M341.8 158.6h0M323.8 156.4h0M317.8 173.1h0M327.0 168.8h0M304.7 166.2h0M313.4 150.4h0M308.3 177.9h0M298.3 166.6h0M335.9 162.8h0M341.5 169.3h0M338.5 173.0h0M302.3 183.8h0M328.8 179.6h0M332.2 174.5h0M317.0 171.2h0M333.9 158.4h0M310.3 170.4h0M310.8 180.4h0M313.8 153.2h0M315.1 170.9h0M311.6 183.8h0M335.7 175.6h0M310.9 170.1h0M318.3 168.2h0M316.2 176.7h0M350.8 163.3h0M313.0 176.6h0M329.7 183.3h0M346.1 163.9h0M313.8 180.7h0M307.8 166.2h0M338.8 150.8h0M318.2 183.8h0M336.7 183.7h0M330.4 167.9h0M324.2 174.4h0M335.6 170.1h0M320.3 175.0h0M336.7 182.3h0M308.1 177.3h0M314.9 171.3h0M338.6 170.9h0M298.6 176.6h0M329.7 175.8h0M319.0 169.6h0M317.4 166.6h0M339.5 174.4h0M305.5 181.3h0M329.7 170.1h0M318.8 170.2h0M322.9 174.2h0M332.5 161.1h0M316.8 164.3h0M305.7 165.4h0M327.4 175.3h0M313.8 159.4h0M319.0 172.0h0M324.6 169.5h0M332.8 181.6h0M345.8 163.6h0M325.4 177.3h0M333.8 175.1h0M327.4 182.3h0M303.7 159.5h0M316.8 175.6h0M309.1 170.4h0M332.4 166.2h0M339.3 179.0h0M328.3 165.3h0M311.6 167.3h0M312.4 156.3h0M327.0 181.4h0M309.6 164.4h0M307.1 167.4h0M324.2 175.6h0M316.1 174.8h0M329.2 170.9h0M329.9 169.8h0M316.6 181.5h0M339.0 173.6h0M336.2 154.0h0M321.4 149.1h0M326.9 151.1h0M329.6 170.4h0M320.7 166.2h0M337.1 163.0h0M317.9 164.2h0M300.9 183.8h0M322.7 161.7h0M334.0 174.6h0M331.2 171.1h0M325.3 171.2h0M325.5 156.0h0M316.1 183.8h0M309.4 183.8h0M322.9 177.3h0M298.1 159.2h0M318.8 161.9h0M312.2 169.4h0M322.9 171.4h0M314.2 167.9h0M324.7 174.2h0M321.3 160.4h0M339.6 161.7h0M319.9 163.2h0M321.1 167.9h0M324.3 155.4h0M341.2 160.2h0M330.2 171.7h0M325.0 161.9h0M337.0 174.8h0M321.8 177.2h0M321.0 178.3h0M320.4 163.1h0M302.7 165.5h0M335.3 163.7h0M321.7 165.1h0M322.9 168.9h0M320.0 171.7h0M316.4 169.9h0M298.1 169.6h0M325.8 178.5h0M350.2 175.0h0M335.9 174.3h0M312.9 175.1h0M324.3 183.2h0M328.5 163.8h0M322.6 159.1h0M334.0 166.1h0M336.8 164.4h0M325.9 166.8h0M317.4 168.6h0M320.6 172.6h0M328.2 162.8h0M333.1 159.3h0M324.9 168.6h0M331.0 172.6h0M352.8 163.0h0M304.3 162.3h0M299.9 173.6h0M325.1 164.8h0M312.4 175.8h0M325.4 165.6h0M304.7 172.9h0M339.7 168.3h0M337.3 166.9h0M320.3 163.9h0M334.6 172.8h0M345.9 154.4h0M312.6 166.7h0M313.8 163.3h0M311.7 161.7h0M336.6 173.7h0M303.8 173.3h0M335.6 147.2h0M316.5 164.1h0M309.3 173.2h0M333.3 172.5h0M329.7 154.3h0M343.4 164.5h0M321.0 165.5h0M336.6 171.9h0M315.1 170.0h0M322.3 183.6h0M347.4 167.6h0M333.4 172.2h0M317.7 180.1h0M334.3 176.7h0M310.0 163.8h0M306.1 166.8h0M312.7 175.5h0M341.0 165.7h0M326.0 162.1h0M312.8 173.5h0M319.7 176.9h0M329.4 169.1h0M338.2 163.8h0M304.4 177.0h0M340.0 165.5h0M335.2 165.6h0M315.6 175.3h0M319.2 182.9h0M329.9 180.6h0M320.6 172.8h0M325.6 167.8h0M311.3 173.1h0M302.1 176.8h0M353.1 171.1h0M326.0 168.5h0M326.7 169.7h0M330.1 172.2h0M340.0 159.2h0M335.1 168.2h0M311.7 175.0h0M322.6 177.2h0M324.8 172.6h0M333.1 163.8h0M316.8 161.2h0M328.6 162.5h0M326.7 157.9h0M340.6 157.3h0M325.0 164.7h0M328.1 173.4h0M332.1 166.0h0M323.9 168.0h0M314.1 172.5h0M332.0 161.2h0M328.4 157.8h0M313.9 165.7h0M307.7 163.5h0M330.7 180.9h0M331.8 167.6h0M342.2 169.5h0M326.5 181.9h0M326.7 181.5h0M325.5 178.5h0M340.6 173.4h0M340.8 176.9h0M325.0 160.8h0M332.9 151.3h0M324.5 163.1h0M318.0 174.8h0M333.2 160.6h0M322.9 166.4h0M313.8 171.7h0M306.0 172.5h0M335.9 158.7h0M312.4 170.1h0M310.7 179.8h0M320.8 175.5h0M332.9 168.3h0M303.3 171.9h0M331.6 180.6h0M328.7 182.9h0M309.4 164.2h0M310.3 167.1h0M321.9 166.0h0M347.2 170.7h0M321.0 170.3h0M335.3 181.4h0M305.0 177.1h0M324.0 162.9h0M335.8 167.9h0M318.0 169.9h0M338.7 179.7h0M311.1 156.4h0M306.4 172.6h0M318.7 172.3h0M331.9 178.6h0M319.4 170.7h0M335.1 174.3h0M305.5 179.7h0M317.1 156.8h0M340.5 162.1h0M327.8 169.7h0M313.4 160.7h0M315.1 174.4h0M320.1 167.4h0M306.4 174.3h0M335.2 148.7h0M338.7 169.1h0M326.0 157.3h0M312.7 169.3h0M331.8 172.3h0M308.0 183.8h0M313.0 165.8h0M349.3 165.1h0M337.0 159.9h0M329.4 172.5h0M320.6 164.4h0M331.1 168.6h0M314.3 170.6h0M320.1 166.4h0M325.2 165.4h0M342.1 160.0h0M315.7 177.7h0M336.8 166.5h0M324.0 157.6h0M303.0 176.4h0M300.9 177.3h0M315.7 181.2h0M337.0 181.3h0M346.0 177.0h0M326.3 171.5h0M341.2 171.5h0M327.2 165.3h0M313.2 171.4h0M332.7 165.2h0M315.2 154.5h0M315.1 158.5h0M319.5 172.7h0M327.2 148.9h0M334.4 168.9h0M331.5 154.0h0M349.3 157.6h0M300.6 171.4h0M322.0 172.9h0M355.3 155.3h0M320.4 169.2h0M309.0 180.4h0M318.3 170.1h0M345.1 175.4h0M307.4 179.1h0M315.9 181.2h0M341.3 165.8h0M327.8 167.1h0M328.2 144.6h0M319.7 160.8h0M335.6 158.5h0M312.0 179.0h0M335.8 163.5h0M325.8 160.4h0M322.0 167.5h0M317.8 164.3h0M335.7 157.9h0M319.6 177.9h0M325.7 181.3h0M311.7 170.4h0M339.7 168.9h0M341.0 173.4h0M338.0 163.2h0M327.8 171.1h0M330.5 157.5h0M308.0 155.5h0M320.0 163.3h0M321.4 178.6h0M322.8 168.3h0M332.0 157.0h0M319.1 173.4h0M315.5 180.6h0M338.9 158.9h0M320.6 174.7h0M316.7 183.8h0M300.1 170.6h0M307.9 173.2h0M321.6 163.8h0M327.6 156.8h0M302.9 161.8h0M324.1 177.2h0M328.2 172.7h0M318.2 168.8h0M324.9 183.8h0M341.2 163.6h0M315.3 172.3h0M303.9 179.7h0M319.7 165.1h0M313.6 163.2h0M323.6 165.4h0M332.6 159.2h0M334.9 168.9h0M341.0 161.7h0M328.6 151.3h0M336.5 162.6h0M328.4 157.7h0M327.5 165.0h0M324.2 181.9h0M317.3 181.9h0M320.6 159.0h0M325.0 170.6h0M338.0 162.4h0M321.1 171.8h0M331.6 183.0h0M309.3 178.0h0M320.7 173.9h0M339.5 163.6h0M328.3 163.6h0M302.4 171.4h0M323.8 175.2h0M321.2 183.7h0M309.9 177.6h0M303.0 172.5h0M312.7 171.7h0M311.3 178.8h0M332.7 182.9h0M337.1 156.2h0M298.1 182.6h0M320.8 178.0h0M328.2 178.4h0M314.6 178.9h0M326.2 161.1h0M323.5 180.9h0M338.9 166.7h0M328.9 168.2h0M326.7 160.4h0M314.7 179.7h0M325.6 175.3h0M334.0 157.2h0M329.8 162.8h0M311.4 181.3h0M306.0 172.1h0M332.6 170.0h0M326.5 172.4h0M327.7 165.8h0M313.9 180.8h0M332.9 181.9h0M313.3 178.2h0M353.8 156.7h0M332.8 172.0h0M345.0 161.9h0M331.4 166.0h0M327.3 183.0h0M327.2 152.5h0M319.7 176.4h0M333.3 159.3h0M315.8 172.8h0M325.2 173.7h0M363.8 165.5h0M330.7 155.8h0M319.0 171.2h0M337.5 172.4h0M329.9 183.8h0M321.6 173.0h0M311.3 162.0h0M322.7 163.4h0M319.4 162.9h0M325.3 180.3h0M329.3 175.7h0M328.2 155.5h0M313.4 167.1h0M330.9 179.9h0M329.6 161.5h0M307.0 177.4h0M328.6 166.3h0M323.6 171.8h0M329.1 165.0h0M311.4 160.6h0M320.6 162.3h0M321.5 173.9h0M330.5 167.1h0M329.0 173.4h0M312.2 162.8h0M307.5 164.5h0M298.1 178.3h0M314.9 164.8h0M329.0 153.5h0M341.8 161.2h0M338.5 162.1h0M340.3 170.3h0M340.3 163.3h0M350.5 164.0h0M326.9 176.6h0M336.1 171.5h0M332.5 164.2h0M326.6 173.2h0M325.4 183.6h0M329.4 163.4h0M318.4 172.0h0M315.7 167.8h0M318.4 161.2h0M330.3 169.9h0M342.7 171.5h0M309.1 168.6h0M338.4 165.7h0M347.9 176.1h0M313.4 170.6h0M325.5 165.9h0M305.0 180.7h0M307.5 177.5h0M324.6 166.0h0M319.2 168.4h0M331.9 164.0h0M328.4 170.1h0M347.3 180.6h0M306.5 178.7h0M316.6 182.0h0M315.9 156.2h0M318.0 172.2h0M353.3 158.6h0M306.3 171.7h0M315.2 162.6h0M336.3 154.4h0M303.9 177.7h0M350.0 169.6h0M329.2 183.8h0M314.4 177.0h0M329.8 165.7h0M316.0 166.8h0M305.8 176.6h0M334.4 156.5h0M337.4 153.3h0M303.1 179.6h0M312.0 175.2h0M337.2 178.8h0M340.3 169.0h0M318.9 167.7h0M308.7 170.6h0M331.1 172.9h0M317.9 169.7h0M329.3 167.3h0M337.2 174.6h0M331.7 160.2h0M311.3 174.3h0M308.5 174.9h0M305.1 182.9h0M333.4 171.6h0M338.2 174.6h0M312.0 166.3h0M322.0 168.7h0M313.0 171.1h0M339.5 176.9h0M335.2 172.7h0M337.9 168.6h0M316.0 183.1h0M329.4 168.5h0M314.0 175.4h0M335.7 161.5h0M308.2 183.2h0M318.1 176.9h0M308.5 173.9h0M307.4 165.9h0M323.2 176.8h0M323.8 165.6h0M303.9 164.5h0M350.1 175.8h0M342.0 167.0h0M311.4 175.4h0M327.9 176.0h0M324.7 181.9h0M314.7 163.4h0M306.4 159.7h0M320.4 168.1h0M337.7 169.9h0M324.6 177.0h0M309.9 183.8h0M314.0 166.2h0M322.4 166.7h0M334.8 151.6h0M308.0 175.7h0M325.9 169.9h0M339.1 168.1h0M340.5 158.3h0M315.9 158.6h0M322.1 162.3h0M316.2 177.0h0M329.2 160.3h0M329.6 172.8h0M358.1 154.5h0M316.6 161.8h0M306.5 177.6h0M314.2 177.5h0M319.8 165.3h0M322.7 171.8h0M315.7 164.0h0M334.7 174.0h0M304.7 152.2h0M323.5 172.4h0M340.3 156.4h0M306.5 166.0h0M307.8 171.6h0M329.9 169.5h0M324.3 163.7h0M305.4 182.8h0M337.8 166.1h0M326.6 163.2h0M319.3 170.9h0M319.3 178.5h0M324.7 157.9h0M327.5 178.8h0M327.6 172.4h0M309.9 173.2h0M343.3 180.2h0M316.9 161.3h0M344.9 154.6h0M325.4 173.6h0M327.0 167.6h0M312.8 176.0h0M323.4 177.1h0M309.7 162.5h0M320.8 172.9h0M337.6 173.1h0M333.1 166.9h0M324.1 170.4h0M324.4 177.8h0M310.8 182.6h0M317.6 158.2h0M324.9 180.6h0M320.0 178.2h0M323.1 180.3h0M311.4 176.2h0M335.8 179.3h0M311.2 181.1h0M298.9 183.8h0M337.2 169.9h0M325.3 152.8h0M304.4 174.2h0M320.6 170.6h0M334.2 178.6h0M326.6 179.4h0M310.0 179.9h0M359.9 141.6h0M329.3 181.7h0M327.5 147.1h0M327.4 166.8h0M307.6 183.8h0M327.6 167.6h0M313.0 164.7h0M322.4 162.4h0M331.3 177.6h0M319.0 177.2h0M355.7 180.9h0M319.0 179.6h0M318.7 165.7h0M328.8 156.1h0M329.2 165.9h0M335.3 155.4h0M305.4 183.8h0M316.3 180.4h0M336.8 149.8h0M305.5 164.1h0M312.9 172.9h0M334.1 175.3h0M299.8 158.0h0M322.2 170.8h0M324.0 177.4h0M318.0 157.5h0M318.5 171.4h0M341.0 175.6h0M301.7 169.0h0M345.0 172.9h0M298.1 167.5h0M307.8 168.1h0M332.3 165.4h0M340.3 165.0h0M314.4 162.6h0M329.5 155.5h0M312.0 155.1h0M330.4 164.0h0M333.9 169.1h0M321.8 174.2h0M324.2 172.7h0M351.4 164.6h0M336.5 169.0h0M338.0 173.3h0M314.6 174.6h0M311.3 171.1h0M341.0 169.9h0M338.2 164.7h0M339.5 164.2h0M343.6 177.7h0M309.3 158.9h0M303.4 169.3h0M335.7 162.6h0M335.0 173.4h0M325.5 160.9h0M332.4 170.6h0M314.2 174.8h0M311.1 178.1h0M322.2 177.7h0M331.0 164.1h0M322.1 170.6h0M330.8 156.1h0M338.3 176.4h0M317.6 169.2h0M344.1 163.3h0M326.0 165.2h0M346.7 164.4h0M353.4 175.8h0M343.2 169.9h0M318.4 165.9h0M302.1 182.1h0M311.4 166.6h0M317.4 162.6h0M326.5 164.9h0M324.6 174.9h0M339.5 183.8h0M330.8 173.9h0M331.1 175.0h0M317.4 168.2h0M300.4 177.0h0M319.0 156.3h0M304.7 170.6h0M342.3 168.6h0M315.8 179.0h0M322.8 175.5h0M317.2 176.2h0M320.1 167.9h0M339.9 166.5h0M307.3 174.1h0M343.9 164.1h0M331.1 162.5h0M326.9 169.9h0M319.2 160.4h0M341.7 176.9h0M310.4 183.8h0M312.2 182.3h0M324.4 164.4h0M341.7 165.7h0M333.1 175.0h0M326.1 164.7h0M302.7 171.2h0M324.5 173.7h0M329.1 168.5h0M311.2 168.7h0M308.8 174.9h0M322.9 163.1h0M316.6 173.9h0M342.8 156.6h0M343.3 178.5h0M345.6 168.0h0M329.5 161.2h0M331.9 165.3h0M333.3 164.3h0M307.2 159.8h0M308.6 163.9h0M329.6 179.0h0M315.1 163.1h0M357.2 164.9h0M318.4 178.3h0M335.2 164.2h0M312.1 174.4h0M349.9 163.4h0M346.6 162.6h0M305.8 181.1h0M328.2 166.3h0M325.0 153.1h0M342.6 157.5h0M334.4 161.9h0M319.3 180.5h0M315.5 156.7h0M305.4 167.8h0M327.5 168.7h0M320.4 167.0h0M305.2 167.3h0M324.5 175.4h0M314.2 161.3h0M326.2 163.7h0M331.7 165.5h0M336.1 153.7h0M327.2 168.2h0M310.6 173.0h0M320.3 172.0h0M318.3 178.9h0M314.3 177.6h0M341.4 168.0h0M322.5 165.2h0M331.0 159.3h0M317.5 178.5h0M337.9 152.4h0M315.7 176.5h0M342.9 166.5h0M328.2 176.9h0M330.0 155.0h0M313.3 173.1h0M340.1 170.5h0M304.3 178.6h0M335.6 164.9h0M315.3 174.2h0M320.2 169.3h0M310.6 173.6h0M319.9 182.5h0M312.0 168.6h0M328.7 160.3h0M320.4 182.9h0M313.7 178.4h0M312.8 158.7h0M305.9 169.4h0M309.4 175.3h0M325.5 174.3h0M300.9 180.3h0M323.7 163.0h0M332.7 167.8h0M315.1 157.0h0M304.5 168.2h0M310.6 170.0h0M315.5 179.5h0M308.7 157.1h0M315.8 171.6h0M307.7 161.8h0M343.4 171.9h0M314.8 166.9h0M341.0 167.2h0M303.2 178.0h0M310.7 171.2h0M339.9 157.1h0M319.2 163.1h0M348.5 155.5h0M332.6 160.4h0M339.6 161.1h0M303.9 177.0h0M325.1 151.4h0M342.3 164.1h0M317.4 170.4h0M322.9 163.6h0M312.9 167.1h0M302.6 169.5h0M329.9 161.2h0M318.1 179.0h0M310.5 171.3h0M321.5 165.5h0M315.9 165.9h0M324.1 173.4h0M315.6 180.2h0M328.8 159.9h0M308.0 165.5h0M317.0 162.0h0M338.0 170.1h0M313.2 175.6h0M300.4 181.9h0M320.3 171.1h0M309.5 168.7h0M307.8 176.3h0M328.7 147.1h0M301.2 168.5h0M324.6 162.2h0M317.5 183.8h0M324.1 161.6h0M325.0 166.9h0M335.7 156.5h0M332.0 178.9h0M331.7 159.2h0M338.8 168.7h0M329.6 165.8h0M337.9 173.8h0M340.4 176.4h0M317.2 174.8h0M324.8 171.5h0M316.8 170.7h0M324.1 173.8h0M313.5 173.3h0M328.0 170.4h0M341.8 175.4h0M326.9 168.3h0M313.5 176.9h0M334.4 174.9h0M307.0 166.4h0M320.4 155.8h0M346.1 167.3h0M336.5 167.4h0M339.6 175.4h0M321.5 163.3h0M325.3 183.1h0M317.9 182.0h0M314.3 171.7h0M322.1 175.3h0M301.7 181.8h0M311.8 177.3h0M314.6 166.7h0M317.4 159.6h0M325.2 169.5h0M312.2 172.2h0M341.6 158.3h0M320.4 163.4h0M328.9 158.5h0M312.5 170.5h0M298.2 161.1h0M328.7 176.2h0M332.6 166.5h0M334.9 169.5h0M313.1 160.2h0M304.0 182.7h0M324.0 169.5h0M329.2 157.9h0M333.4 167.0h0M334.9 164.9h0M332.8 179.9h0M332.4 162.2h0M326.3 173.6h0M316.5 174.5h0M325.9 173.1h0M339.9 165.9h0M347.1 166.0h0M332.3 176.6h0M300.2 177.9h0M337.5 183.8h0M314.1 170.9h0M324.1 164.1h0M320.5 176.5h0M325.0 154.3h0M345.1 180.9h0M340.1 183.8h0M331.1 174.3h0M341.5 172.8h0M345.4 161.0h0M322.0 174.7h0M338.8 169.7h0M340.2 173.2h0M336.6 159.9h0M341.2 171.0h0M326.6 167.9h0M327.8 164.5h0M329.3 170.9h0M328.2 173.1h0M303.1 148.9h0M340.8 179.6h0M331.0 163.6h0M327.7 183.8h0M337.0 167.5h0M344.5 172.9h0M316.2 160.0h0M317.8 165.6h0M332.5 181.3h0M333.6 170.1h0M305.9 160.8h0M322.3 174.3h0M312.6 176.5h0M306.9 182.4h0M326.9 159.3h0M311.8 163.3h0M318.6 171.1h0M327.9 161.4h0M320.0 161.5h0M340.6 163.8h0M327.9 174.0h0M311.3 165.3h0M328.8 167.0h0M337.9 183.8h0M322.8 160.3h0M329.7 175.2h0M320.2 181.1h0M332.2 175.3h0M321.0 166.2h0M338.8 166.8h0M314.3 180.9h0M330.6 165.6h0M313.1 174.7h0M325.3 156.7h0M336.4 170.3h0M312.0 169.0h0M322.0 155.5h0M306.4 171.9h0M328.9 141.4h0M318.6 164.2h0M345.9 164.7h0M315.1 181.8h0M316.5 170.6h0M344.2 182.0h0M328.6 160.0h0M343.4 169.3h0M348.6 172.3h0M341.8 157.3h0M311.3 167.9h0M316.4 167.5h0M365.0 177.0h0M333.5 165.3h0M368.6 157.8h0M332.5 162.3h0M330.0 139.5h0M338.1 160.1h0M352.2 167.1h0M330.6 160.5h0M326.9 162.6h0M326.5 166.8h0M325.2 174.7h0M336.6 166.4h0M353.5 163.8h0M321.2 156.6h0M326.5 154.4h0M319.1 155.3h0M307.8 157.0h0M342.8 168.9h0M332.9 155.7h0M323.3 164.0h0M329.0 174.7h0M329.4 183.8h0M331.5 143.7h0M345.3 159.6h0M342.6 168.0h0M298.4 175.5h0M334.2 156.1h0M364.6 140.3h0M335.9 156.4h0M323.3 157.0h0M304.7 150.4h0M349.0 162.2h0M341.4 143.6h0M298.1 161.9h0M325.9 161.5h0M338.2 158.8h0M339.7 162.0h0M307.2 180.4h0M340.7 177.7h0M332.2 161.9h0M308.0 158.1h0M325.7 152.5h0M340.1 151.3h0M345.3 152.9h0M327.2 170.8h0M351.7 164.9h0M330.1 153.3h0M335.9 155.7h0M342.8 173.6h0M315.3 147.6h0M331.4 167.4h0M312.0 176.4h0M306.1 161.3h0M338.4 151.3h0M328.8 162.7h0M319.3 152.5h0M333.6 153.0h0M314.9 177.8h0M329.5 159.4h0M348.8 145.2h0M328.1 171.4h0M298.1 179.3h0M343.7 168.7h0M340.8 165.9h0M329.3 140.3h0M347.2 169.2h0M336.7 155.5h0M339.1 161.1h0M316.3 173.3h0M348.8 166.7h0M360.2 162.1h0M355.1 173.5h0M333.5 180.8h0M336.4 159.1h0M349.6 155.8h0M345.6 172.8h0M319.6 166.8h0M353.1 155.5h0M351.5 168.1h0M354.4 181.1h0M339.5 159.1h0M313.3 175.0h0M330.6 182.6h0M364.0 168.0h0M337.9 167.5h0M348.5 157.8h0M340.9 157.0h0M322.2 164.4h0M337.5 172.2h0M327.7 168.2h0M346.1 167.8h0M319.2 170.3h0M313.4 177.7h0M331.2 183.3h0M323.8 175.9h0M324.5 153.1h0M333.3 147.6h0M326.2 172.0h0M344.9 153.9h0M333.6 154.7h0M345.4 171.1h0M339.5 164.7h0M319.1 166.4h0M346.5 170.7h0M334.7 167.9h0M358.1 162.5h0M331.3 155.9h0M327.5 154.0h0M315.1 183.4h0M300.8 163.6h0M315.4 163.7h0M356.7 156.5h0M304.2 156.5h0M354.6 151.1h0M343.7 166.8h0M298.1 150.3h0M348.9 149.0h0M350.3 145.0h0M342.8 143.1h0M336.1 164.5h0M347.8 183.8h0M301.1 174.6h0M318.7 164.4h0M304.7 176.0h0M325.9 168.9h0M356.3 164.5h0M306.9 158.2h0M362.2 159.9h0M340.6 159.7h0M311.7 147.2h0M329.5 180.3h0M361.5 161.6h0M329.5 145.3h0M323.5 175.0h0M307.4 145.0h0M325.4 144.3h0M356.4 170.1h0M347.5 177.8h0M304.0 160.6h0M305.5 155.8h0M340.3 171.2h0M359.7 171.0h0M384.4 141.7h0M420.8 137.0h0M417.7 143.0h0M420.8 146.5h0M409.0 146.0h0M411.0 147.5h0M413.0 149.0h0M414.0 151.0h0M410.0 151.0h0M415.0 152.5h0M417.7 154.3h0M411.6 156.9h0M413.3 156.5h0M415.0 156.0h0M400.3 154.8h0M403.8 155.5h0M405.2 156.9h0M402.9 158.6h0M401.7 162.1h0M399.5 162.4h0M395.2 164.2h0M401.2 165.5h0M403.5 168.7h0M390.5 166.9h0M394.8 171.1h0M393.8 171.6h0M381.0 171.6h0M370.0 165.5h0M393.8 181.1h0M366.6 154.3h0M349.5 84.2h0M351.2 122.7h0M398.5 73.3h0M406.3 68.3h0M408.9 69.5h0M410.6 68.7h0M415.8 68.3h0M418.2 68.7h0M419.6 68.7h0" stroke="#000" stroke-width="2.3" stroke-linecap="square" fill="none"/>
<rect x="296.00" y="63.80" width="156.50" height="122.20" fill="none" stroke="#000" stroke-width="2.5"/>
<line x1="365.30" y1="63.80" x2="365.30" y2="186.00" stroke="#000" stroke-width="2.3"/>
<line x1="296.00" y1="125.40" x2="452.50" y2="125.40" stroke="#000" stroke-width="2.3"/>
<text x="292.00" y="208.80" font-size="13" font-weight="normal" font-family="'Liberation Sans', sans-serif" text-anchor="middle" textLength="14.2" lengthAdjust="spacingAndGlyphs" stroke="#000" stroke-width="0.45">10</text>
<text x="303.00" y="201.30" font-size="12" font-weight="normal" font-family="'Liberation Sans', sans-serif" text-anchor="middle" stroke="#000" stroke-width="0.45">0</text>
<text x="331.12" y="208.80" font-size="13" font-weight="normal" font-family="'Liberation Sans', sans-serif" text-anchor="middle" textLength="14.2" lengthAdjust="spacingAndGlyphs" stroke="#000" stroke-width="0.45">10</text>
<text x="342.12" y="201.30" font-size="12" font-weight="normal" font-family="'Liberation Sans', sans-serif" text-anchor="middle" stroke="#000" stroke-width="0.45">1</text>
<text x="370.25" y="208.80" font-size="13" font-weight="normal" font-family="'Liberation Sans', sans-serif" text-anchor="middle" textLength="14.2" lengthAdjust="spacingAndGlyphs" stroke="#000" stroke-width="0.45">10</text>
<text x="381.25" y="201.30" font-size="12" font-weight="normal" font-family="'Liberation Sans', sans-serif" text-anchor="middle" stroke="#000" stroke-width="0.45">2</text>
<text x="409.38" y="208.80" font-size="13" font-weight="normal" font-family="'Liberation Sans', sans-serif" text-anchor="middle" textLength="14.2" lengthAdjust="spacingAndGlyphs" stroke="#000" stroke-width="0.45">10</text>
<text x="420.38" y="201.30" font-size="12" font-weight="normal" font-family="'Liberation Sans', sans-serif" text-anchor="middle" stroke="#000" stroke-width="0.45">3</text>
<text x="448.50" y="208.80" font-size="13" font-weight="normal" font-family="'Liberation Sans', sans-serif" text-anchor="middle" textLength="14.2" lengthAdjust="spacingAndGlyphs" stroke="#000" stroke-width="0.45">10</text>
<text x="459.50" y="201.30" font-size="12" font-weight="normal" font-family="'Liberation Sans', sans-serif" text-anchor="middle" stroke="#000" stroke-width="0.45">4</text>
<text x="283.50" y="195.90" font-size="13" font-weight="normal" font-family="'Liberation Sans', sans-serif" textLength="14.2" lengthAdjust="spacingAndGlyphs" transform="rotate(-90 283.50 195.90)" stroke="#000" stroke-width="0.45">10</text>
<text x="275.50" y="181.40" font-size="12" font-weight="normal" font-family="'Liberation Sans', sans-serif" transform="rotate(-90 275.50 181.40)" stroke="#000" stroke-width="0.45">0</text>
<text x="283.50" y="165.35" font-size="13" font-weight="normal" font-family="'Liberation Sans', sans-serif" textLength="14.2" lengthAdjust="spacingAndGlyphs" transform="rotate(-90 283.50 165.35)" stroke="#000" stroke-width="0.45">10</text>
<text x="275.50" y="150.85" font-size="12" font-weight="normal" font-family="'Liberation Sans', sans-serif" transform="rotate(-90 275.50 150.85)" stroke="#000" stroke-width="0.45">1</text>
<text x="283.50" y="134.80" font-size="13" font-weight="normal" font-family="'Liberation Sans', sans-serif" textLength="14.2" lengthAdjust="spacingAndGlyphs" transform="rotate(-90 283.50 134.80)" stroke="#000" stroke-width="0.45">10</text>
<text x="275.50" y="120.30" font-size="12" font-weight="normal" font-family="'Liberation Sans', sans-serif" transform="rotate(-90 275.50 120.30)" stroke="#000" stroke-width="0.45">2</text>
<text x="283.50" y="104.25" font-size="13" font-weight="normal" font-family="'Liberation Sans', sans-serif" textLength="14.2" lengthAdjust="spacingAndGlyphs" transform="rotate(-90 283.50 104.25)" stroke="#000" stroke-width="0.45">10</text>
<text x="275.50" y="89.75" font-size="12" font-weight="normal" font-family="'Liberation Sans', sans-serif" transform="rotate(-90 275.50 89.75)" stroke="#000" stroke-width="0.45">3</text>
<text x="283.50" y="73.70" font-size="13" font-weight="normal" font-family="'Liberation Sans', sans-serif" textLength="14.2" lengthAdjust="spacingAndGlyphs" transform="rotate(-90 283.50 73.70)" stroke="#000" stroke-width="0.45">10</text>
<text x="275.50" y="59.20" font-size="12" font-weight="normal" font-family="'Liberation Sans', sans-serif" transform="rotate(-90 275.50 59.20)" stroke="#000" stroke-width="0.45">4</text>
<text x="354.50" y="224.50" font-size="13.5" font-weight="bold" font-family="'Liberation Sans', sans-serif" textLength="37.5" lengthAdjust="spacingAndGlyphs" >FL1-H</text>
<text x="264.30" y="143.40" font-size="13.5" font-weight="bold" font-family="'Liberation Sans', sans-serif" textLength="37.5" lengthAdjust="spacingAndGlyphs" transform="rotate(-90 264.30 143.40)" >FL3-H</text>
<text x="332.50" y="50.40" font-size="15.5" font-weight="bold" font-family="'Liberation Sans', sans-serif" textLength="82.7" lengthAdjust="spacingAndGlyphs" >+zVAD-fmk</text>
<text x="422.90" y="174.20" font-size="13" font-weight="bold" font-family="'Liberation Sans', sans-serif" textLength="21.1" lengthAdjust="spacingAndGlyphs" stroke="#000" stroke-width="0.4">4%</text>
<path d="M75.50 393.50v8 M75.50 393.50h-8 M87.30 393.50v4.5 M75.50 384.17h-4.5 M94.20 393.50v4.5 M75.50 378.71h-4.5 M99.10 393.50v4.5 M75.50 374.84h-4.5 M102.90 393.50v4.5 M75.50 371.83h-4.5 M106.00 393.50v4.5 M75.50 369.38h-4.5 M108.63 393.50v4.5 M75.50 367.30h-4.5 M110.90 393.50v4.5 M75.50 365.50h-4.5 M112.91 393.50v4.5 M75.50 363.92h-4.5 M114.70 393.50v8 M75.50 362.50h-8 M126.50 393.50v4.5 M75.50 353.17h-4.5 M133.40 393.50v4.5 M75.50 347.71h-4.5 M138.30 393.50v4.5 M75.50 343.84h-4.5 M142.10 393.50v4.5 M75.50 340.83h-4.5 M145.20 393.50v4.5 M75.50 338.38h-4.5 M147.83 393.50v4.5 M75.50 336.30h-4.5 M150.10 393.50v4.5 M75.50 334.50h-4.5 M152.11 393.50v4.5 M75.50 332.92h-4.5 M153.90 393.50v8 M75.50 331.50h-8 M165.70 393.50v4.5 M75.50 322.17h-4.5 M172.60 393.50v4.5 M75.50 316.71h-4.5 M177.50 393.50v4.5 M75.50 312.84h-4.5 M181.30 393.50v4.5 M75.50 309.83h-4.5 M184.40 393.50v4.5 M75.50 307.38h-4.5 M187.03 393.50v4.5 M75.50 305.30h-4.5 M189.30 393.50v4.5 M75.50 303.50h-4.5 M191.31 393.50v4.5 M75.50 301.92h-4.5 M193.10 393.50v8 M75.50 300.50h-8 M204.90 393.50v4.5 M75.50 291.17h-4.5 M211.80 393.50v4.5 M75.50 285.71h-4.5 M216.70 393.50v4.5 M75.50 281.84h-4.5 M220.50 393.50v4.5 M75.50 278.83h-4.5 M223.60 393.50v4.5 M75.50 276.38h-4.5 M226.23 393.50v4.5 M75.50 274.30h-4.5 M228.50 393.50v4.5 M75.50 272.50h-4.5 M230.51 393.50v4.5 M75.50 270.92h-4.5 M232.30 393.50v8 M75.50 269.50h-8" stroke="#000" stroke-width="1.4" fill="none"/>
<path d="M108.3 369.6h0M123.6 374.4h0M111.6 368.1h0M91.2 377.9h0M96.1 371.3h0M110.6 377.4h0M101.6 381.8h0M113.9 360.3h0M82.6 376.4h0M123.1 355.0h0M120.8 369.5h0M87.5 382.1h0M99.0 379.4h0M96.0 369.7h0M98.3 374.5h0M112.0 367.7h0M97.1 382.7h0M93.1 372.2h0M109.6 351.3h0M116.1 363.7h0M98.1 382.2h0M105.6 382.9h0M88.1 366.2h0M112.8 370.7h0M125.9 365.8h0M108.9 370.8h0M102.2 370.0h0M82.0 386.7h0M99.6 374.0h0M81.8 391.4h0M110.8 364.4h0M121.1 375.2h0M117.1 365.1h0M104.5 368.0h0M107.9 377.0h0M95.8 376.6h0M105.1 377.2h0M105.1 375.2h0M102.6 369.9h0M77.7 385.7h0M105.3 384.6h0M107.2 363.1h0M94.7 379.8h0M106.8 378.6h0M110.7 373.1h0M80.1 391.4h0M111.6 362.6h0M96.8 381.3h0M90.0 387.0h0M103.3 361.6h0M93.4 380.8h0M96.6 373.1h0M91.0 374.8h0M94.4 382.5h0M88.8 382.4h0M95.2 385.6h0M90.1 382.3h0M87.4 369.0h0M112.5 363.7h0M101.8 375.6h0M105.9 376.1h0M119.5 359.9h0M108.5 373.3h0M101.8 368.7h0M90.3 387.4h0M109.9 370.6h0M106.6 373.3h0M112.4 349.9h0M100.4 374.2h0M97.9 376.3h0M80.1 379.4h0M107.5 366.2h0M85.7 386.2h0M96.5 371.5h0M106.6 371.6h0M102.2 359.1h0M100.5 377.6h0M106.1 357.7h0M83.1 369.7h0M101.9 372.7h0M114.4 360.7h0M113.4 357.9h0M85.9 383.3h0M111.2 365.5h0M105.9 379.7h0M91.2 378.8h0M87.3 388.1h0M99.8 367.8h0M115.7 366.9h0M106.3 389.6h0M91.6 381.4h0M102.4 367.2h0M112.2 364.3h0M100.4 371.2h0M96.6 379.2h0M106.1 356.8h0M79.7 390.2h0M105.9 373.2h0M87.2 378.6h0M100.4 379.1h0M105.1 355.6h0M99.9 385.4h0M93.6 378.3h0M97.3 381.7h0M109.8 362.7h0M87.3 383.4h0M92.1 378.2h0M104.6 378.2h0M109.6 360.6h0M101.2 388.1h0M95.9 378.5h0M108.6 380.6h0M97.3 377.0h0M122.6 362.9h0M115.2 366.9h0M120.9 370.1h0M91.5 383.5h0M96.5 370.4h0M98.6 371.4h0M88.5 383.8h0M96.0 368.9h0M111.3 371.6h0M91.0 374.7h0M98.4 381.5h0M117.0 368.7h0M104.7 375.5h0M106.7 369.3h0M101.7 380.8h0M95.0 375.1h0M97.7 385.4h0M104.2 364.5h0M95.5 379.0h0M102.0 370.4h0M96.9 386.2h0M100.6 379.5h0M117.7 370.5h0M107.9 366.3h0M88.1 380.7h0M99.6 367.9h0M120.6 358.4h0M120.4 372.9h0M89.5 372.4h0M106.2 373.6h0M101.7 379.8h0M77.7 391.4h0M104.7 382.9h0M122.3 351.7h0M94.2 384.5h0M98.5 386.6h0M111.5 361.7h0M97.0 375.7h0M97.0 374.2h0M104.5 367.1h0M86.7 386.2h0M106.8 365.5h0M88.0 382.5h0M102.2 376.4h0M110.1 358.4h0M118.8 358.7h0M93.6 375.8h0M104.1 381.1h0M104.2 371.6h0M83.0 384.7h0M100.7 362.4h0M104.1 387.1h0M107.3 371.9h0M122.1 367.6h0M102.9 382.0h0M101.1 377.5h0M100.9 369.8h0M101.6 368.0h0M106.7 381.3h0M118.0 355.0h0M90.9 386.6h0M102.0 386.6h0M77.7 383.8h0M84.5 380.4h0M103.3 378.0h0M79.8 389.8h0M105.0 374.3h0M114.9 386.9h0M92.7 376.6h0M94.2 387.6h0M101.6 391.4h0M96.2 379.3h0M100.9 370.4h0M110.4 367.9h0M104.7 381.8h0M100.8 365.6h0M78.3 388.7h0M94.2 363.5h0M101.9 363.8h0M108.7 360.9h0M94.7 376.4h0M107.7 375.6h0M110.2 376.9h0M95.3 373.8h0M108.9 357.4h0M99.6 351.1h0M90.1 381.1h0M101.0 371.2h0M114.9 362.5h0M105.5 377.6h0M101.7 378.9h0M110.1 380.0h0M108.8 380.0h0M103.5 383.2h0M82.7 384.1h0M77.7 382.4h0M84.8 376.3h0M118.2 363.3h0M108.3 372.2h0M85.3 370.5h0M109.1 367.9h0M86.7 383.6h0M102.9 383.1h0M110.3 366.6h0M99.7 372.1h0M109.0 366.7h0M109.7 377.9h0M83.6 370.6h0M99.8 379.3h0M105.5 362.4h0M95.3 375.0h0M86.6 388.6h0M115.2 364.1h0M102.9 372.8h0M94.4 371.0h0M91.2 368.1h0M99.7 384.4h0M112.2 366.4h0M95.3 378.6h0M105.4 368.9h0M103.4 372.2h0M98.2 376.2h0M101.2 367.1h0M91.0 375.9h0M86.1 384.2h0M107.6 369.2h0M115.1 367.3h0M106.5 367.9h0M92.2 380.9h0M101.0 372.1h0M95.4 362.9h0M86.8 375.1h0M90.6 383.4h0M106.3 366.6h0M89.5 367.1h0M112.2 373.0h0M101.2 390.5h0M112.9 363.4h0M110.9 367.8h0M102.9 371.9h0M102.2 383.1h0M104.2 359.4h0M104.2 378.6h0M108.3 371.1h0M119.6 364.5h0M107.7 369.8h0M117.1 370.8h0M110.9 376.4h0M97.8 366.7h0M106.5 369.8h0M107.9 376.4h0M110.2 360.7h0M97.7 382.7h0M112.3 374.5h0M95.5 377.3h0M99.7 364.8h0M107.9 364.1h0M103.0 369.9h0M92.8 381.6h0M88.6 380.9h0M94.4 382.9h0M122.6 362.5h0M87.1 381.5h0M123.3 363.7h0M84.6 379.5h0M95.4 370.9h0M106.2 368.7h0M101.4 374.4h0M104.4 361.0h0M116.7 362.8h0M124.6 357.0h0M103.5 362.7h0M104.9 378.4h0M98.2 372.2h0M95.9 360.0h0M96.8 383.8h0M103.3 374.9h0M96.1 357.0h0M103.9 375.8h0M90.0 379.0h0M97.3 381.0h0M98.0 371.0h0M95.5 383.1h0M96.2 371.0h0M105.8 371.5h0M87.4 378.5h0M109.5 369.1h0M94.3 375.1h0M99.0 366.7h0M112.8 368.2h0M109.7 365.9h0M82.1 384.6h0M103.8 361.6h0M113.9 371.3h0M90.9 369.0h0M95.8 366.4h0M113.9 361.5h0M87.6 387.0h0M118.0 364.2h0M87.1 379.3h0M93.2 379.2h0M94.9 371.3h0M96.1 375.5h0M108.1 373.5h0M104.6 370.4h0M102.2 363.3h0M102.6 383.3h0M84.3 382.5h0M94.1 365.9h0M111.2 362.2h0M114.4 368.1h0M98.6 367.6h0M90.1 367.4h0M108.2 359.8h0M107.9 369.4h0M93.7 383.7h0M94.7 381.7h0M91.8 380.0h0M94.1 379.9h0M77.7 387.8h0M93.6 377.5h0M113.1 372.9h0M95.3 374.7h0M104.3 376.3h0M108.8 352.7h0M102.1 360.9h0M95.6 380.1h0M95.1 375.3h0M95.0 366.2h0M103.8 383.5h0M96.8 389.9h0M118.5 365.4h0M105.8 364.6h0M86.4 368.3h0M104.2 369.5h0M98.8 368.0h0M96.7 374.3h0M93.4 374.6h0M98.1 370.6h0M133.0 355.7h0M132.1 366.2h0M118.5 355.7h0M91.8 377.7h0M102.6 380.3h0M111.8 370.2h0M97.6 375.2h0M107.2 367.7h0M112.2 360.6h0M116.6 359.6h0M105.5 376.4h0M104.4 368.4h0M98.6 384.5h0M102.3 376.3h0M99.7 381.4h0M108.8 368.8h0M104.1 385.0h0M98.6 372.3h0M115.7 371.3h0M106.9 371.6h0M105.9 367.0h0M95.0 378.9h0M100.7 369.1h0M103.2 380.4h0M95.2 378.0h0M87.6 386.0h0M127.2 358.1h0M94.3 377.4h0M97.5 376.0h0M98.1 371.3h0M100.6 373.5h0M108.8 364.4h0M94.8 380.7h0M104.3 361.6h0M107.4 352.4h0M98.9 375.1h0M111.9 377.6h0M103.4 368.1h0M110.0 366.9h0M90.7 377.0h0M118.7 369.8h0M99.5 365.5h0M91.3 377.6h0M92.5 376.9h0M93.7 388.4h0M104.7 372.0h0M79.1 381.5h0M92.0 371.1h0M112.7 359.4h0M114.2 352.8h0M91.3 368.9h0M103.6 367.4h0M100.0 367.1h0M99.9 374.1h0M104.6 385.2h0M110.5 364.2h0M93.3 379.4h0M93.6 384.2h0M125.1 354.3h0M92.8 373.4h0M114.0 366.3h0M114.7 365.5h0M103.9 372.9h0M99.8 374.9h0M102.0 376.9h0M95.5 372.6h0M103.1 365.8h0M97.6 379.2h0M99.2 367.6h0M111.2 369.8h0M103.0 372.4h0M100.7 371.7h0M121.9 360.5h0M102.6 375.7h0M109.0 371.5h0M94.1 380.3h0M92.4 375.2h0M107.6 370.9h0M112.4 369.3h0M109.5 361.8h0M110.5 375.6h0M103.0 378.8h0M109.0 368.5h0M92.1 386.0h0M106.4 363.9h0M91.4 378.3h0M98.6 361.6h0M88.9 375.7h0M104.9 370.0h0M105.8 376.9h0M113.5 375.2h0M96.3 377.0h0M107.0 372.7h0M95.5 381.3h0M95.6 370.6h0M117.4 379.5h0M116.4 361.0h0M102.8 379.5h0M105.8 368.8h0M87.3 391.4h0M121.7 372.0h0M92.8 388.5h0M90.1 389.3h0M100.3 375.6h0M92.5 369.7h0M105.2 378.9h0M108.5 373.9h0M98.8 364.3h0M96.1 369.9h0M85.3 377.8h0M89.6 373.2h0M121.7 354.5h0M83.9 383.2h0M90.9 381.7h0M93.5 372.0h0M109.4 371.9h0M103.1 364.0h0M116.3 351.2h0M120.8 362.9h0M108.1 365.5h0M107.4 364.4h0M114.3 364.0h0M98.0 380.1h0M85.6 380.8h0M109.8 367.6h0M93.4 385.2h0M104.9 373.1h0M126.0 357.3h0M88.8 374.5h0M97.2 371.4h0M91.9 374.7h0M90.6 376.1h0M109.0 361.4h0M85.9 389.7h0M104.8 385.8h0M102.7 371.7h0M112.3 361.0h0M84.1 385.7h0M89.3 363.1h0M111.5 359.5h0M83.4 379.3h0M103.3 376.3h0M112.8 373.6h0M86.4 381.3h0M90.9 384.1h0M110.2 363.3h0M88.8 375.2h0M109.7 366.9h0M113.1 371.9h0M101.7 372.7h0M100.5 380.8h0M94.6 379.5h0M109.3 375.2h0M108.4 365.0h0M101.2 380.9h0M104.3 371.5h0M87.4 376.4h0M91.7 382.9h0M79.8 382.3h0M95.3 381.8h0M109.7 356.0h0M103.8 372.1h0M96.0 382.2h0M97.2 364.6h0M97.0 387.6h0M111.6 365.5h0M89.5 389.3h0M113.2 364.7h0M106.4 376.7h0M86.4 386.5h0M107.3 373.5h0M108.6 359.6h0M97.3 379.6h0M119.3 353.1h0M103.5 370.5h0M106.5 370.5h0M110.6 376.7h0M95.4 375.8h0M106.6 378.7h0M100.0 388.1h0M91.6 387.7h0M86.2 374.1h0M86.9 386.0h0M99.7 366.9h0M109.5 377.5h0M91.0 377.3h0M105.9 384.0h0M123.5 363.8h0M106.7 372.8h0M107.4 385.3h0M99.8 381.7h0M82.0 389.3h0M97.0 383.3h0M101.9 369.3h0M90.1 370.9h0M103.1 384.9h0M93.9 373.5h0M102.4 364.9h0M103.8 377.3h0M105.3 359.4h0M99.8 374.3h0M117.1 370.4h0M90.3 386.0h0M93.2 384.7h0M102.7 376.1h0M88.1 375.3h0M111.3 373.3h0M99.5 383.7h0M107.9 370.0h0M95.8 384.6h0M97.1 378.2h0M94.9 376.5h0M104.5 371.0h0M99.2 391.2h0M105.7 368.0h0M93.6 377.9h0M105.5 379.4h0M91.3 383.8h0M111.1 368.3h0M102.4 368.9h0M85.1 378.5h0M115.7 360.6h0M95.0 364.8h0M79.5 389.6h0M119.4 362.6h0M95.0 373.0h0M107.9 361.8h0M120.0 360.0h0M117.0 348.9h0M83.9 387.1h0M90.6 371.4h0M99.1 372.4h0M99.3 376.6h0M88.9 377.0h0M107.3 376.2h0M109.1 364.2h0M109.0 373.4h0M99.3 371.7h0M92.1 382.4h0M101.9 375.2h0M77.7 385.2h0M98.2 378.0h0M88.7 376.9h0M88.4 379.8h0M103.1 358.3h0M83.5 383.2h0M90.4 376.7h0M100.8 378.8h0M97.4 375.3h0M113.2 375.0h0M100.8 378.7h0M119.9 350.6h0M108.5 382.2h0M89.7 382.4h0M98.5 378.1h0M115.5 376.6h0M86.9 376.9h0M90.5 378.8h0M81.9 376.6h0M99.1 383.2h0M111.3 375.6h0M98.4 363.1h0M86.9 367.0h0M98.6 388.5h0M108.2 374.5h0M102.6 372.8h0M112.3 367.9h0M94.7 367.4h0M101.0 381.4h0M99.4 372.6h0M96.2 373.1h0M105.1 370.5h0M83.7 377.9h0M85.6 372.3h0M77.7 382.9h0M101.1 375.0h0M108.5 365.3h0M104.9 367.9h0M116.6 373.2h0M102.0 379.8h0M104.3 373.1h0M102.9 390.4h0M102.9 356.7h0M112.0 388.4h0M92.7 383.0h0M93.3 375.1h0M100.7 369.6h0M113.2 360.6h0M93.8 372.1h0M114.6 364.6h0M115.0 375.2h0M95.3 376.5h0M100.7 383.7h0M86.2 376.8h0M103.4 371.4h0M112.6 375.3h0M95.4 368.5h0M100.1 384.4h0M117.8 363.0h0M91.1 383.5h0M113.7 369.2h0M102.1 377.6h0M101.3 361.1h0M84.4 372.4h0M100.2 358.4h0M97.5 374.5h0M107.3 354.4h0M96.7 380.0h0M95.4 367.4h0M110.7 360.3h0M103.8 374.0h0M97.2 386.3h0M103.6 374.1h0M106.8 366.6h0M99.9 383.7h0M101.1 365.8h0M80.1 380.0h0M109.8 373.2h0M114.6 358.7h0M111.8 368.7h0M110.9 359.9h0M81.4 386.6h0M92.6 365.9h0M102.2 373.2h0M102.9 377.1h0M101.0 361.4h0M88.5 375.9h0M94.3 370.4h0M97.4 374.1h0M110.3 373.9h0M122.1 357.8h0M85.4 371.9h0M91.7 376.3h0M110.3 367.3h0M103.3 373.6h0M105.4 378.3h0M101.8 367.4h0M94.3 378.5h0M93.9 377.3h0M110.0 363.1h0M116.6 364.2h0M104.5 381.5h0M101.6 366.2h0M101.8 386.1h0M91.8 371.3h0M94.0 385.0h0M98.9 369.9h0M102.7 377.0h0M88.8 389.6h0M99.0 357.3h0M83.4 373.3h0M113.7 366.0h0M90.8 380.8h0M107.7 374.1h0M101.5 360.2h0M118.2 367.3h0M105.7 374.3h0M109.0 365.5h0M94.6 378.8h0M113.1 378.6h0M104.0 365.3h0M110.6 361.1h0M105.1 367.1h0M112.5 377.0h0M107.7 375.1h0M97.1 388.9h0M117.4 356.2h0M103.1 371.5h0M114.3 359.1h0M102.7 372.7h0M99.7 373.0h0M91.6 382.5h0M94.5 372.4h0M111.5 374.2h0M97.6 377.7h0M110.2 373.9h0M106.5 379.2h0M112.0 375.0h0M105.3 376.0h0M85.2 390.2h0M85.6 384.1h0M101.9 378.9h0M95.9 367.5h0M95.9 362.5h0M108.3 367.9h0M129.0 352.3h0M124.4 366.5h0M93.9 389.3h0M107.2 367.0h0M113.5 363.5h0M94.4 361.9h0M107.4 367.2h0M109.5 364.2h0M87.4 375.5h0M93.4 372.8h0M103.0 378.4h0M106.9 368.3h0M109.2 355.8h0M92.8 383.6h0M115.0 371.4h0M101.5 374.1h0M91.9 383.5h0M80.0 389.3h0M116.4 371.5h0M108.8 384.8h0M90.0 382.0h0M122.1 359.4h0M127.4 354.2h0M105.6 363.3h0M96.7 362.4h0M115.5 375.1h0M106.5 380.3h0M104.9 367.6h0M108.7 374.6h0M114.5 366.0h0M104.5 362.8h0M98.8 368.4h0M109.5 368.7h0M112.4 366.5h0M99.6 378.9h0M90.2 383.4h0M99.2 375.3h0M121.4 372.6h0M115.8 371.1h0M83.1 385.1h0M93.2 378.3h0M102.6 366.6h0M85.6 377.4h0M82.7 374.8h0M98.0 384.5h0M97.1 385.3h0M98.5 382.5h0M104.1 368.9h0M94.5 363.4h0M99.1 383.7h0M99.6 376.8h0M111.0 366.9h0M81.4 380.9h0M105.2 378.0h0M82.3 382.9h0M85.8 386.0h0M103.9 357.4h0M104.1 373.7h0M99.9 376.6h0M101.2 379.3h0M93.1 387.9h0M102.4 370.5h0M113.9 368.0h0M80.1 391.0h0M93.1 380.1h0M97.4 368.4h0M78.1 383.6h0M100.2 377.2h0M114.6 361.5h0M112.8 375.4h0M96.9 373.2h0M89.6 383.5h0M103.5 360.9h0M97.7 365.5h0M105.3 373.9h0M103.8 375.2h0M105.7 369.5h0M118.0 370.0h0M100.3 370.1h0M111.0 374.2h0M112.8 367.5h0M98.8 372.1h0M96.9 380.2h0M110.0 369.3h0M96.7 367.4h0M107.6 360.8h0M93.7 385.5h0M111.1 365.8h0M115.2 364.5h0M105.4 371.0h0M95.7 379.4h0M98.3 382.1h0M99.8 382.7h0M94.6 389.2h0M107.4 361.5h0M99.3 365.9h0M117.8 362.1h0M102.6 373.4h0M98.5 383.1h0M92.6 382.6h0M100.2 370.5h0M100.5 376.0h0M98.6 376.6h0M99.6 378.4h0M89.4 390.0h0M115.7 363.2h0M91.1 388.1h0M127.5 364.2h0M99.7 386.3h0M97.2 369.0h0M103.4 373.1h0M98.5 367.2h0M89.6 374.1h0M97.1 379.1h0M87.8 381.6h0M116.2 370.1h0M92.3 386.9h0M119.2 361.6h0M99.8 366.7h0M84.6 373.6h0M121.0 364.5h0M112.9 372.3h0M98.2 373.9h0M96.4 376.2h0M112.3 351.1h0M88.4 372.6h0M96.7 380.8h0M112.0 372.6h0M121.3 360.1h0M94.4 385.4h0M111.0 373.6h0M106.5 372.4h0M108.3 376.7h0M109.8 355.2h0M94.0 369.3h0M103.2 373.5h0M105.5 385.6h0M110.1 374.5h0M116.5 366.4h0M111.3 372.4h0M91.3 374.3h0M116.2 377.2h0M100.9 376.6h0M105.4 362.1h0M97.0 372.3h0M109.5 371.6h0M98.0 375.6h0M107.3 361.9h0M108.3 379.4h0M111.2 365.1h0M92.2 384.2h0M102.1 373.5h0M90.8 389.2h0M87.4 390.6h0M113.3 372.7h0M101.2 368.7h0M94.2 381.9h0M89.2 381.4h0M96.1 385.9h0M97.2 361.6h0M104.4 364.3h0M111.2 367.7h0M87.5 374.3h0M90.9 385.4h0M104.8 362.5h0M91.9 381.7h0M100.2 379.0h0M106.1 380.2h0M112.0 362.9h0M112.8 362.0h0M112.4 367.1h0M104.2 362.2h0M116.7 380.7h0M107.9 362.8h0M93.5 366.4h0M96.9 374.3h0M107.7 382.7h0M112.9 370.2h0M84.4 374.9h0M113.8 380.1h0M93.9 379.2h0M91.1 382.3h0M84.0 377.1h0M113.5 366.8h0M89.4 384.1h0M104.1 367.6h0M104.1 377.9h0M95.8 386.5h0M109.3 360.2h0M115.3 367.7h0M114.6 367.0h0M86.9 391.4h0M96.3 382.3h0M105.2 381.1h0M108.5 373.0h0M80.3 383.4h0M102.3 382.6h0M109.7 354.2h0M101.4 367.5h0M100.0 373.4h0M115.8 381.3h0M106.2 370.1h0M96.3 372.5h0M109.5 376.1h0M113.7 364.4h0M88.0 378.6h0M94.3 368.2h0M100.0 380.0h0M90.4 389.3h0M114.2 372.8h0M89.1 391.4h0M115.4 372.3h0M92.9 376.4h0M99.2 369.5h0M101.5 363.0h0M91.7 382.0h0M119.9 370.1h0M100.3 377.0h0M118.5 368.4h0M110.8 358.6h0M102.2 366.1h0M107.0 370.1h0M106.9 372.9h0M94.9 380.0h0M101.4 375.7h0M109.5 369.8h0M113.5 375.8h0M101.7 379.4h0M101.1 366.4h0M94.6 362.3h0M90.2 384.7h0M111.8 353.4h0M104.7 375.9h0M114.6 370.3h0M85.6 382.8h0M79.3 390.9h0M103.0 369.7h0M96.5 383.0h0M90.0 373.2h0M108.3 360.3h0M107.6 365.6h0M123.1 359.9h0M102.9 385.3h0M97.3 365.1h0M97.7 371.0h0M92.6 376.2h0M106.1 376.4h0M100.4 376.4h0M102.5 374.8h0M81.8 377.2h0M93.8 383.4h0M125.1 368.2h0M108.0 387.6h0M96.4 387.1h0M137.2 354.9h0M92.6 379.0h0M114.6 348.9h0M142.5 376.4h0M105.4 358.0h0M83.4 364.4h0M101.7 344.0h0M123.5 379.0h0M81.4 369.7h0M149.9 356.3h0M131.3 343.8h0M93.3 376.5h0M105.2 380.0h0M121.7 375.5h0M123.8 356.2h0M109.0 367.6h0M88.0 365.0h0M114.4 346.3h0M121.0 341.8h0M112.9 368.3h0M115.0 380.4h0M134.7 360.7h0M117.7 369.0h0M131.0 346.5h0M134.7 373.2h0M127.4 351.3h0M84.1 367.8h0M125.5 342.2h0M128.9 349.7h0M103.5 387.1h0M144.3 354.2h0M104.6 361.8h0M104.7 373.8h0M104.9 358.5h0M114.6 358.1h0M114.0 367.1h0M122.2 353.7h0M122.1 361.4h0M129.3 363.8h0M126.7 352.5h0M100.2 360.4h0M108.2 355.9h0M80.4 349.8h0M108.1 353.2h0M128.6 367.5h0M106.2 387.6h0M102.6 359.5h0M108.2 372.5h0M102.1 366.4h0M79.6 370.4h0M103.8 382.1h0M137.8 371.6h0M119.7 336.0h0M91.0 391.4h0M144.3 375.1h0M105.3 352.1h0M111.6 354.0h0M129.9 358.4h0M97.2 378.3h0M142.2 357.4h0M133.7 354.7h0M79.3 376.7h0M109.6 386.0h0M125.1 349.6h0M150.0 341.6h0M123.1 368.7h0M81.4 377.3h0M78.1 388.8h0M144.0 354.2h0M82.5 360.7h0M115.5 348.4h0M126.0 362.2h0M103.4 358.7h0M110.4 365.0h0M95.0 376.1h0M83.2 380.6h0M98.1 356.7h0M87.2 361.7h0M127.9 360.3h0M120.2 364.0h0M81.7 388.3h0M126.1 355.0h0M107.4 362.6h0M103.0 376.5h0M118.4 373.2h0M107.9 354.6h0M107.8 375.8h0M95.6 372.0h0M114.7 362.9h0M126.8 380.5h0M120.0 359.6h0M129.4 361.1h0M109.1 350.2h0M106.5 376.2h0M91.2 370.0h0M124.9 355.3h0M122.4 381.1h0M100.2 369.8h0M120.3 387.4h0M99.0 376.0h0M105.5 364.4h0M102.1 381.2h0M94.8 367.2h0M101.2 384.8h0M130.2 354.5h0M102.5 365.9h0M102.8 367.4h0M117.3 357.5h0M116.6 367.9h0M140.8 369.0h0M104.7 366.2h0M83.8 372.0h0M120.5 367.0h0M95.9 358.7h0M89.7 368.8h0M79.4 377.2h0M89.8 371.7h0M111.5 349.6h0M95.7 362.7h0M126.5 360.7h0M130.1 352.4h0M98.0 349.0h0M123.6 358.2h0M147.8 362.4h0M123.2 363.1h0M129.3 369.5h0M85.0 369.7h0M106.1 361.1h0M97.8 369.3h0M102.9 353.8h0M117.5 363.9h0M118.9 379.0h0M131.5 379.6h0M111.6 352.3h0M89.3 360.6h0M102.2 357.1h0M116.4 366.2h0M107.2 384.8h0M133.7 361.3h0M92.8 376.9h0M129.5 362.6h0M90.0 372.3h0M86.3 366.9h0M101.4 366.5h0M110.8 354.5h0M106.5 360.1h0M79.6 366.6h0M138.8 343.0h0M135.0 364.2h0M89.9 364.8h0M119.4 365.5h0M124.9 352.5h0M94.2 360.6h0M128.7 374.5h0M120.7 368.1h0M99.8 363.0h0M121.7 364.7h0M152.5 353.3h0M102.1 358.7h0M123.0 370.5h0M109.5 357.9h0M119.8 354.7h0M88.8 358.3h0M118.2 343.2h0M103.4 357.9h0M94.9 360.6h0M128.0 350.5h0M99.4 357.8h0M140.7 367.2h0M115.6 362.6h0M99.5 379.5h0M117.3 353.0h0M113.2 374.7h0M124.0 352.2h0M95.2 377.0h0M121.8 366.9h0M127.9 386.3h0M134.6 377.9h0M126.7 363.5h0M137.6 368.5h0M104.5 340.1h0M92.5 371.6h0M89.0 349.2h0M134.6 343.1h0M91.1 348.6h0M111.0 348.9h0M117.7 380.7h0M103.5 352.2h0M92.6 360.6h0M140.1 385.4h0M100.5 366.4h0M136.4 341.5h0M134.5 380.0h0M106.8 378.0h0M108.7 364.3h0M137.4 365.7h0M120.8 373.4h0M126.0 380.5h0M121.9 369.1h0M123.9 358.6h0M114.7 374.5h0M133.3 370.5h0M137.9 357.7h0M119.1 371.1h0M137.3 364.1h0M115.6 369.6h0M113.5 361.0h0M137.2 370.6h0M135.2 355.0h0M120.5 381.2h0M130.5 365.2h0M118.9 360.2h0M130.6 367.4h0M141.5 358.6h0M124.6 370.1h0M127.5 370.3h0M134.8 365.8h0M120.7 358.0h0M127.6 358.3h0M133.9 379.1h0M130.8 343.3h0M128.2 365.8h0M136.0 354.9h0M124.3 376.1h0M133.2 368.2h0M122.3 364.6h0M126.1 348.0h0M135.0 378.8h0M138.4 367.8h0M131.7 366.0h0M137.3 361.6h0M124.4 356.2h0M120.4 364.0h0M125.6 373.3h0M130.0 348.3h0M132.2 363.7h0M137.7 353.5h0M125.7 365.0h0M116.6 375.8h0M122.0 385.9h0M135.1 345.4h0M130.6 351.8h0M128.0 373.5h0M127.7 360.0h0M138.0 372.2h0M128.4 353.5h0M134.1 362.2h0M133.6 368.4h0M132.1 380.2h0M125.7 372.1h0M133.8 358.7h0M132.2 354.7h0M135.1 347.7h0M128.0 355.4h0M124.0 370.8h0M135.4 359.9h0M128.8 371.5h0M130.0 369.2h0M136.1 355.8h0M135.8 376.7h0M127.4 367.8h0M127.0 376.1h0M123.3 364.4h0M147.3 359.3h0M137.7 375.9h0M131.6 368.9h0M131.2 344.9h0M121.9 365.4h0M107.5 360.3h0M132.2 349.8h0M125.2 373.3h0M121.1 378.1h0M130.8 367.1h0M124.3 350.0h0M119.7 363.3h0M130.8 386.0h0M124.6 358.7h0M124.5 354.7h0M127.8 368.7h0M113.8 383.7h0M128.9 358.4h0M132.6 347.6h0M132.6 367.5h0M135.8 358.2h0M131.2 368.5h0M129.8 366.6h0M120.1 374.4h0M125.6 379.2h0M113.3 370.6h0M133.6 375.6h0M125.3 379.3h0M122.5 361.4h0M124.5 372.1h0M122.5 357.6h0M123.5 365.3h0M130.3 358.7h0M174.3 369.4h0M168.6 369.3h0M153.6 375.0h0M185.1 371.3h0M157.8 365.0h0M182.0 365.6h0M180.0 354.1h0M192.3 377.7h0M171.2 357.5h0M169.6 375.8h0M185.2 366.1h0M163.0 362.1h0M175.1 367.4h0M162.2 372.4h0M172.2 360.9h0M164.5 367.9h0M183.0 362.4h0M172.6 366.5h0M177.3 361.4h0M170.0 362.0h0M174.4 363.1h0M166.0 367.6h0M164.3 369.0h0M172.6 365.5h0M159.0 375.3h0M173.0 359.2h0M183.1 378.5h0M166.8 352.5h0M178.5 372.7h0M156.7 376.2h0M179.7 363.6h0M180.7 361.9h0M171.0 366.7h0M173.0 347.0h0M165.9 365.7h0M169.1 362.0h0M172.4 375.8h0M170.8 368.6h0M175.0 357.5h0M161.6 371.2h0M188.5 364.1h0M167.8 371.1h0M151.5 368.5h0M175.0 372.8h0M172.8 370.8h0M152.9 367.8h0M164.1 366.9h0M173.1 364.4h0M170.5 364.4h0M174.7 369.2h0M177.8 364.0h0M188.8 355.4h0M167.4 362.0h0M151.6 367.9h0M171.6 370.7h0M185.0 363.7h0M187.1 367.0h0M169.2 362.7h0M175.7 361.5h0M169.3 370.6h0M168.7 360.5h0M181.7 363.0h0M167.2 366.4h0M176.8 362.5h0M163.9 374.8h0M175.1 369.0h0M172.5 359.0h0M166.5 369.5h0M175.3 364.2h0M173.8 367.7h0M165.9 370.2h0M169.5 371.9h0M165.6 360.2h0M166.8 369.4h0M160.5 366.3h0M179.0 362.6h0M167.7 360.7h0M182.7 360.5h0M179.3 376.0h0M179.0 353.8h0M159.3 370.9h0M169.9 363.4h0M161.3 366.8h0M167.3 352.8h0M191.1 367.7h0M170.3 360.8h0M181.0 358.8h0M184.8 355.1h0M173.7 377.4h0M171.7 356.0h0M168.7 370.2h0M182.7 359.6h0M178.3 358.3h0M178.1 362.7h0M160.6 365.8h0M169.9 376.7h0M166.2 365.8h0M166.4 357.4h0M164.1 370.0h0M174.4 361.7h0M181.1 365.3h0M182.9 357.3h0M163.5 375.3h0M173.4 354.1h0M168.3 364.7h0M167.8 366.8h0M170.6 363.7h0M178.1 353.9h0M171.7 356.9h0M166.5 354.3h0M173.4 363.4h0M181.2 364.0h0M152.3 367.7h0M153.6 364.7h0M156.0 354.6h0M168.2 354.9h0M167.4 372.5h0M173.5 351.1h0M158.1 373.8h0M165.8 369.5h0M165.4 378.2h0M173.9 363.4h0M175.2 361.1h0M157.1 368.6h0M151.4 352.0h0M170.3 350.5h0M140.2 363.1h0M163.2 355.5h0M152.3 360.4h0M176.6 344.9h0M163.6 341.8h0M157.0 374.5h0M154.6 364.8h0M175.4 361.9h0M159.6 369.1h0M142.3 356.0h0M145.2 371.5h0M172.8 361.7h0M154.6 383.8h0M150.7 383.1h0M166.8 374.5h0M162.7 362.6h0M161.4 361.2h0M192.7 374.0h0M156.2 362.3h0M148.9 366.2h0M146.0 383.3h0M160.4 357.3h0M164.9 355.9h0M147.3 361.2h0M184.3 342.2h0M144.5 350.9h0M167.9 368.1h0M162.1 358.2h0M155.4 366.4h0M169.3 356.3h0M163.8 378.4h0M132.2 372.2h0M182.8 371.0h0M149.7 364.1h0M154.2 360.2h0M171.8 351.1h0M180.2 361.2h0M159.7 373.8h0M139.0 364.1h0M173.5 363.1h0M156.4 355.6h0M148.8 356.1h0M164.1 363.6h0M179.6 352.3h0M152.7 375.5h0M158.9 350.4h0M152.0 376.5h0M169.5 366.6h0M182.5 370.9h0M148.8 364.2h0M154.9 389.8h0M162.7 366.8h0M140.6 375.8h0M155.2 364.9h0M171.9 375.7h0M145.4 371.2h0M168.1 369.1h0M158.5 365.8h0M176.9 347.6h0M163.9 368.7h0M164.5 358.8h0M152.8 381.7h0M163.9 359.7h0M163.8 366.6h0M178.0 370.5h0M162.3 358.7h0M167.0 362.8h0M166.0 372.8h0M157.7 364.5h0M146.9 363.6h0M161.0 368.9h0M150.3 365.1h0M157.9 372.3h0M170.9 373.1h0M165.4 377.1h0M147.6 362.7h0M169.1 357.0h0M176.0 343.6h0M159.4 382.7h0M140.6 360.2h0M160.9 370.5h0M161.3 354.3h0M142.4 370.1h0M160.4 376.5h0M155.9 375.3h0M165.8 364.4h0M154.0 357.8h0M166.8 373.6h0M156.3 363.3h0M180.9 368.9h0M146.9 368.0h0M146.0 353.1h0M173.4 361.9h0M132.7 391.4h0M172.5 374.4h0M176.3 376.3h0M147.0 359.6h0M155.8 367.8h0M155.7 390.3h0M160.8 372.8h0M150.1 365.8h0M153.2 360.3h0M174.7 374.5h0M149.7 372.2h0M157.3 349.0h0M149.4 366.9h0M135.4 365.8h0M163.0 366.9h0M173.5 272.5h0M180.0 274.1h0M187.8 272.5h0M191.0 272.5h0M187.8 279.0h0M178.4 291.6h0M187.8 291.6h0M171.9 294.7h0M178.4 296.3h0M181.3 307.5h0M173.5 310.4h0M187.8 310.4h0M186.0 313.8h0M181.3 326.8h0M112.5 329.0h0M190.8 377.8h0M195.0 350.0h0M198.0 352.0h0M190.0 348.0h0M176.0 335.0h0" stroke="#000" stroke-width="2.3" stroke-linecap="square" fill="none"/>
<rect x="75.50" y="269.50" width="156.80" height="124.00" fill="none" stroke="#000" stroke-width="2.5"/>
<line x1="145.00" y1="269.50" x2="145.00" y2="393.50" stroke="#000" stroke-width="2.3"/>
<line x1="75.50" y1="331.20" x2="232.30" y2="331.20" stroke="#000" stroke-width="2.3"/>
<text x="71.50" y="416.30" font-size="13" font-weight="normal" font-family="'Liberation Sans', sans-serif" text-anchor="middle" textLength="14.2" lengthAdjust="spacingAndGlyphs" stroke="#000" stroke-width="0.45">10</text>
<text x="82.50" y="408.80" font-size="12" font-weight="normal" font-family="'Liberation Sans', sans-serif" text-anchor="middle" stroke="#000" stroke-width="0.45">0</text>
<text x="110.70" y="416.30" font-size="13" font-weight="normal" font-family="'Liberation Sans', sans-serif" text-anchor="middle" textLength="14.2" lengthAdjust="spacingAndGlyphs" stroke="#000" stroke-width="0.45">10</text>
<text x="121.70" y="408.80" font-size="12" font-weight="normal" font-family="'Liberation Sans', sans-serif" text-anchor="middle" stroke="#000" stroke-width="0.45">1</text>
<text x="149.90" y="416.30" font-size="13" font-weight="normal" font-family="'Liberation Sans', sans-serif" text-anchor="middle" textLength="14.2" lengthAdjust="spacingAndGlyphs" stroke="#000" stroke-width="0.45">10</text>
<text x="160.90" y="408.80" font-size="12" font-weight="normal" font-family="'Liberation Sans', sans-serif" text-anchor="middle" stroke="#000" stroke-width="0.45">2</text>
<text x="189.10" y="416.30" font-size="13" font-weight="normal" font-family="'Liberation Sans', sans-serif" text-anchor="middle" textLength="14.2" lengthAdjust="spacingAndGlyphs" stroke="#000" stroke-width="0.45">10</text>
<text x="200.10" y="408.80" font-size="12" font-weight="normal" font-family="'Liberation Sans', sans-serif" text-anchor="middle" stroke="#000" stroke-width="0.45">3</text>
<text x="228.30" y="416.30" font-size="13" font-weight="normal" font-family="'Liberation Sans', sans-serif" text-anchor="middle" textLength="14.2" lengthAdjust="spacingAndGlyphs" stroke="#000" stroke-width="0.45">10</text>
<text x="63.00" y="403.40" font-size="13" font-weight="normal" font-family="'Liberation Sans', sans-serif" textLength="14.2" lengthAdjust="spacingAndGlyphs" transform="rotate(-90 63.00 403.40)" stroke="#000" stroke-width="0.45">10</text>
<text x="55.00" y="388.90" font-size="12" font-weight="normal" font-family="'Liberation Sans', sans-serif" transform="rotate(-90 55.00 388.90)" stroke="#000" stroke-width="0.45">0</text>
<text x="63.00" y="372.40" font-size="13" font-weight="normal" font-family="'Liberation Sans', sans-serif" textLength="14.2" lengthAdjust="spacingAndGlyphs" transform="rotate(-90 63.00 372.40)" stroke="#000" stroke-width="0.45">10</text>
<text x="55.00" y="357.90" font-size="12" font-weight="normal" font-family="'Liberation Sans', sans-serif" transform="rotate(-90 55.00 357.90)" stroke="#000" stroke-width="0.45">1</text>
<text x="63.00" y="341.40" font-size="13" font-weight="normal" font-family="'Liberation Sans', sans-serif" textLength="14.2" lengthAdjust="spacingAndGlyphs" transform="rotate(-90 63.00 341.40)" stroke="#000" stroke-width="0.45">10</text>
<text x="55.00" y="326.90" font-size="12" font-weight="normal" font-family="'Liberation Sans', sans-serif" transform="rotate(-90 55.00 326.90)" stroke="#000" stroke-width="0.45">2</text>
<text x="63.00" y="310.40" font-size="13" font-weight="normal" font-family="'Liberation Sans', sans-serif" textLength="14.2" lengthAdjust="spacingAndGlyphs" transform="rotate(-90 63.00 310.40)" stroke="#000" stroke-width="0.45">10</text>
<text x="55.00" y="295.90" font-size="12" font-weight="normal" font-family="'Liberation Sans', sans-serif" transform="rotate(-90 55.00 295.90)" stroke="#000" stroke-width="0.45">3</text>
<text x="63.00" y="279.40" font-size="13" font-weight="normal" font-family="'Liberation Sans', sans-serif" textLength="14.2" lengthAdjust="spacingAndGlyphs" transform="rotate(-90 63.00 279.40)" stroke="#000" stroke-width="0.45">10</text>
<text x="55.00" y="264.90" font-size="12" font-weight="normal" font-family="'Liberation Sans', sans-serif" transform="rotate(-90 55.00 264.90)" stroke="#000" stroke-width="0.45">4</text>
<text x="133.80" y="431.00" font-size="13.5" font-weight="bold" font-family="'Liberation Sans', sans-serif" textLength="37.5" lengthAdjust="spacingAndGlyphs" >FL1-H</text>
<text x="44.00" y="349.00" font-size="13.5" font-weight="bold" font-family="'Liberation Sans', sans-serif" textLength="37.5" lengthAdjust="spacingAndGlyphs" transform="rotate(-90 44.00 349.00)" >FL3-H</text>
<text x="122.10" y="251.90" font-size="15.5" font-weight="bold" font-family="'Liberation Sans', sans-serif" textLength="60.2" lengthAdjust="spacingAndGlyphs" >anti-Fas</text>
<text x="196.50" y="384.20" font-size="13.5" font-weight="bold" font-family="'Liberation Serif', serif" textLength="27.7" lengthAdjust="spacingAndGlyphs" stroke="#000" stroke-width="0.4">12%</text>
<path d="M291.20 393.60v8 M291.20 393.60h-8 M303.03 393.60v4.5 M291.20 384.32h-4.5 M309.95 393.60v4.5 M291.20 378.89h-4.5 M314.86 393.60v4.5 M291.20 375.04h-4.5 M318.67 393.60v4.5 M291.20 372.05h-4.5 M321.78 393.60v4.5 M291.20 369.61h-4.5 M324.41 393.60v4.5 M291.20 367.55h-4.5 M326.69 393.60v4.5 M291.20 365.76h-4.5 M328.70 393.60v4.5 M291.20 364.19h-4.5 M330.50 393.60v8 M291.20 362.78h-8 M342.33 393.60v4.5 M291.20 353.50h-4.5 M349.25 393.60v4.5 M291.20 348.07h-4.5 M354.16 393.60v4.5 M291.20 344.22h-4.5 M357.97 393.60v4.5 M291.20 341.23h-4.5 M361.08 393.60v4.5 M291.20 338.79h-4.5 M363.71 393.60v4.5 M291.20 336.72h-4.5 M365.99 393.60v4.5 M291.20 334.94h-4.5 M368.00 393.60v4.5 M291.20 333.36h-4.5 M369.80 393.60v8 M291.20 331.95h-8 M381.63 393.60v4.5 M291.20 322.67h-4.5 M388.55 393.60v4.5 M291.20 317.24h-4.5 M393.46 393.60v4.5 M291.20 313.39h-4.5 M397.27 393.60v4.5 M291.20 310.40h-4.5 M400.38 393.60v4.5 M291.20 307.96h-4.5 M403.01 393.60v4.5 M291.20 305.90h-4.5 M405.29 393.60v4.5 M291.20 304.11h-4.5 M407.30 393.60v4.5 M291.20 302.54h-4.5 M409.10 393.60v8 M291.20 301.12h-8 M420.93 393.60v4.5 M291.20 291.85h-4.5 M427.85 393.60v4.5 M291.20 286.42h-4.5 M432.76 393.60v4.5 M291.20 282.57h-4.5 M436.57 393.60v4.5 M291.20 279.58h-4.5 M439.68 393.60v4.5 M291.20 277.14h-4.5 M442.31 393.60v4.5 M291.20 275.07h-4.5 M444.59 393.60v4.5 M291.20 273.29h-4.5 M446.60 393.60v4.5 M291.20 271.71h-4.5 M448.40 393.60v8 M291.20 270.30h-8" stroke="#000" stroke-width="1.4" fill="none"/>
<path d="M333.1 368.9h0M306.9 381.9h0M328.1 380.8h0M307.8 386.1h0M332.8 378.1h0M303.9 382.3h0M313.2 379.1h0M314.3 370.6h0M297.8 385.0h0M330.4 373.6h0M303.9 382.0h0M306.6 391.5h0M314.8 385.1h0M329.2 379.3h0M312.1 378.0h0M342.9 371.3h0M320.7 369.4h0M317.8 379.6h0M325.9 388.6h0M319.6 381.7h0M309.4 373.7h0M315.0 386.7h0M322.8 371.6h0M338.3 370.2h0M323.9 385.3h0M326.2 382.5h0M296.4 391.5h0M318.1 371.1h0M320.7 381.2h0M340.4 377.7h0M338.5 375.5h0M322.3 378.3h0M326.8 364.3h0M320.2 378.8h0M313.0 372.6h0M321.2 379.5h0M316.8 372.1h0M324.5 383.9h0M328.5 379.5h0M318.8 377.9h0M333.3 376.9h0M308.6 375.2h0M321.1 386.3h0M323.2 381.4h0M300.8 381.7h0M327.9 377.1h0M328.9 377.0h0M339.9 376.9h0M320.5 375.2h0M327.7 367.4h0M328.2 362.8h0M303.0 370.1h0M324.3 384.3h0M305.1 374.7h0M324.2 382.1h0M329.0 387.4h0M324.0 379.4h0M298.4 379.8h0M337.1 375.5h0M324.4 384.9h0M332.0 371.6h0M313.5 384.0h0M344.0 380.9h0M318.9 383.3h0M316.3 382.5h0M316.9 378.0h0M332.0 367.6h0M303.7 387.0h0M317.5 385.6h0M311.2 369.4h0M348.6 376.0h0M333.0 386.6h0M322.1 385.2h0M323.6 384.1h0M318.5 373.9h0M316.2 373.2h0M319.2 379.7h0M340.6 385.0h0M317.8 375.6h0M318.1 391.5h0M324.4 370.8h0M337.4 372.9h0M326.3 387.1h0M309.3 370.4h0M321.7 384.1h0M321.3 383.3h0M306.4 385.2h0M312.8 380.3h0M324.9 377.4h0M316.3 370.6h0M339.6 374.6h0M324.9 374.5h0M316.0 368.8h0M320.2 369.7h0M311.0 385.4h0M313.8 376.3h0M329.6 371.6h0M320.4 377.9h0M299.9 368.4h0M327.6 384.2h0M317.7 377.6h0M333.3 383.8h0M318.7 375.0h0M318.1 373.7h0M316.8 374.8h0M313.6 376.2h0M307.7 381.2h0M322.2 372.5h0M339.3 368.6h0M325.4 383.2h0M338.5 366.5h0M334.9 373.6h0M309.1 389.0h0M322.2 379.2h0M320.4 380.2h0M321.6 374.8h0M335.1 370.3h0M337.1 382.2h0M329.8 375.2h0M335.0 376.0h0M315.1 383.0h0M330.7 369.7h0M310.1 379.5h0M317.9 353.1h0M308.0 389.4h0M335.3 382.9h0M317.1 366.9h0M330.3 377.9h0M307.4 379.8h0M324.5 366.3h0M331.0 372.6h0M323.0 370.7h0M324.1 370.5h0M323.8 373.2h0M321.4 379.9h0M318.0 371.3h0M312.8 373.0h0M333.5 369.2h0M322.2 365.0h0M323.0 376.5h0M308.3 385.6h0M307.1 369.6h0M307.3 380.6h0M341.9 367.7h0M319.1 384.0h0M330.0 362.3h0M301.9 388.7h0M317.8 366.0h0M323.2 380.9h0M315.8 387.5h0M334.3 376.2h0M318.3 388.6h0M321.2 375.9h0M334.6 387.5h0M339.9 371.3h0M325.9 376.9h0M317.2 382.4h0M335.5 370.9h0M310.3 373.5h0M310.9 388.6h0M311.4 380.4h0M333.3 371.3h0M326.6 375.9h0M312.0 385.9h0M313.5 373.6h0M321.6 371.8h0M315.8 382.4h0M310.0 384.5h0M312.3 375.5h0M319.3 377.6h0M314.7 388.1h0M321.1 369.5h0M317.4 371.8h0M313.3 389.8h0M326.2 384.5h0M326.5 390.5h0M299.5 384.6h0M324.2 379.9h0M316.0 383.5h0M310.0 369.5h0M329.5 370.2h0M324.0 383.0h0M327.5 382.7h0M315.2 386.0h0M341.0 380.9h0M326.8 379.5h0M314.4 371.8h0M342.3 379.8h0M311.9 382.2h0M337.9 365.3h0M317.8 385.1h0M314.2 381.9h0M312.9 384.7h0M309.7 374.0h0M310.7 376.5h0M320.0 375.5h0M302.8 379.3h0M323.2 385.1h0M304.4 365.2h0M326.5 379.3h0M315.7 384.1h0M318.4 385.4h0M334.1 381.7h0M298.2 371.0h0M345.6 377.1h0M355.2 377.8h0M333.1 360.4h0M327.3 381.2h0M313.3 376.5h0M333.1 378.4h0M317.8 378.4h0M312.1 383.9h0M336.6 379.5h0M330.5 384.8h0M305.0 384.1h0M319.8 373.1h0M331.3 378.9h0M310.9 369.0h0M320.2 382.8h0M327.3 380.5h0M318.8 385.5h0M307.2 390.8h0M316.0 381.3h0M306.0 375.3h0M336.9 384.0h0M331.3 373.9h0M301.3 380.3h0M308.0 384.7h0M346.0 371.9h0M328.3 374.0h0M317.4 389.5h0M331.3 378.3h0M324.9 381.7h0M329.8 375.7h0M316.7 378.7h0M339.3 372.3h0M307.8 379.4h0M317.4 375.1h0M324.1 385.9h0M322.3 373.2h0M311.6 369.4h0M314.6 379.3h0M339.1 371.5h0M308.2 383.9h0M315.3 391.4h0M325.5 369.6h0M324.4 366.0h0M323.1 390.4h0M338.0 372.1h0M314.7 376.6h0M326.1 379.4h0M322.1 371.9h0M324.1 368.5h0M306.7 374.8h0M307.5 382.0h0M330.3 377.0h0M307.8 373.8h0M333.4 373.8h0M338.1 386.9h0M314.7 386.8h0M324.9 375.0h0M323.1 380.0h0M338.0 375.5h0M344.9 378.5h0M330.2 391.5h0M330.9 373.4h0M335.0 380.1h0M310.5 380.8h0M331.0 376.8h0M315.8 372.6h0M310.7 364.6h0M319.0 370.5h0M322.3 375.2h0M328.6 383.1h0M310.7 385.9h0M325.0 373.3h0M321.9 369.8h0M327.3 365.8h0M308.3 384.4h0M305.5 372.7h0M314.5 371.7h0M303.2 391.5h0M315.1 382.0h0M328.8 374.2h0M314.1 386.2h0M329.6 378.2h0M327.7 365.7h0M319.8 380.4h0M327.6 379.4h0M329.6 386.6h0M304.4 375.1h0M337.5 381.5h0M300.0 386.3h0M322.7 380.6h0M313.0 379.6h0M313.7 379.5h0M322.1 377.2h0M315.6 380.1h0M317.8 383.7h0M319.5 377.8h0M310.2 374.9h0M308.2 377.6h0M326.6 375.3h0M323.6 366.8h0M315.2 381.4h0M337.4 390.2h0M334.7 372.1h0M317.3 367.9h0M303.9 378.7h0M337.4 373.8h0M332.9 376.7h0M340.9 368.6h0M332.4 380.9h0M339.4 373.3h0M354.7 365.5h0M320.7 365.7h0M334.6 379.4h0M314.1 371.9h0M323.3 374.6h0M327.0 382.5h0M330.0 372.0h0M300.7 381.4h0M325.5 380.4h0M318.0 385.3h0M304.2 385.5h0M315.9 375.8h0M331.2 374.1h0M329.2 383.3h0M306.6 387.4h0M316.4 385.6h0M317.3 368.3h0M337.1 364.5h0M319.2 378.9h0M313.5 371.3h0M321.3 374.6h0M294.1 382.1h0M322.4 375.6h0M331.8 377.5h0M325.5 389.1h0M300.9 372.7h0M347.7 375.1h0M327.5 372.0h0M319.5 375.4h0M319.8 370.0h0M330.0 379.7h0M319.4 390.0h0M308.9 368.6h0M329.2 381.2h0M310.4 377.4h0M325.7 375.3h0M332.5 384.7h0M326.7 391.5h0M329.9 368.4h0M316.8 371.4h0M312.3 373.0h0M332.4 380.2h0M319.4 373.6h0M311.6 385.5h0M315.0 361.4h0M313.0 371.8h0M328.9 382.9h0M327.4 385.7h0M336.9 367.1h0M308.7 369.4h0M320.0 374.6h0M298.1 377.6h0M320.2 372.5h0M307.1 374.2h0M346.6 369.5h0M306.1 380.0h0M337.4 379.4h0M324.4 389.6h0M325.6 386.5h0M315.1 380.9h0M310.1 376.2h0M336.9 383.6h0M341.5 381.7h0M311.8 372.4h0M334.3 364.0h0M329.7 379.0h0M318.7 376.9h0M313.4 374.9h0M303.9 373.2h0M301.9 391.5h0M319.6 377.0h0M307.7 371.8h0M302.8 383.2h0M311.8 371.1h0M325.0 387.7h0M330.2 365.4h0M331.5 369.5h0M321.2 365.4h0M328.5 380.2h0M307.0 368.0h0M337.7 364.2h0M321.5 381.3h0M311.5 386.2h0M309.8 374.1h0M308.1 389.1h0M316.5 384.6h0M329.2 362.2h0M311.9 383.5h0M330.0 387.4h0M321.6 378.6h0M301.5 373.8h0M307.6 377.7h0M315.0 380.6h0M339.8 383.5h0M345.9 377.0h0M322.8 380.7h0M323.1 391.5h0M332.1 386.8h0M310.6 371.9h0M314.7 374.9h0M320.8 384.5h0M329.5 387.3h0M323.0 386.6h0M294.7 389.1h0M324.0 380.4h0M315.8 385.2h0M323.7 386.2h0M302.8 367.3h0M322.4 372.0h0M330.4 391.5h0M303.5 380.6h0M334.9 374.6h0M327.2 371.9h0M323.5 379.5h0M311.7 375.4h0M325.0 384.9h0M311.6 365.5h0M313.6 374.0h0M310.8 378.7h0M323.0 373.4h0M323.8 376.2h0M324.0 374.8h0M316.0 370.6h0M320.6 379.2h0M310.9 376.2h0M331.1 371.1h0M310.1 374.3h0M311.2 391.5h0M321.2 378.6h0M300.2 374.3h0M325.5 374.3h0M328.5 372.5h0M326.3 381.4h0M321.3 376.5h0M320.5 372.5h0M308.6 387.4h0M324.7 378.8h0M330.5 376.4h0M341.8 376.0h0M316.8 377.0h0M325.1 381.9h0M326.3 371.4h0M316.3 380.5h0M316.7 368.9h0M318.2 370.7h0M338.5 376.9h0M308.4 379.0h0M305.8 382.7h0M324.6 368.8h0M327.3 373.1h0M331.0 377.4h0M309.9 380.9h0M337.6 370.3h0M322.1 384.1h0M331.5 379.9h0M306.2 385.9h0M330.9 382.8h0M322.7 374.7h0M314.9 373.4h0M304.0 379.5h0M329.8 377.0h0M331.5 364.7h0M331.8 388.4h0M333.5 381.6h0M310.5 370.1h0M329.1 389.6h0M323.4 368.6h0M314.1 366.0h0M323.3 368.1h0M315.8 388.3h0M333.8 377.2h0M320.2 374.2h0M325.9 375.5h0M331.3 383.9h0M342.2 370.4h0M329.4 379.6h0M308.6 379.7h0M324.4 383.3h0M334.4 376.4h0M323.5 381.5h0M306.6 370.4h0M323.6 373.5h0M330.5 379.7h0M315.5 375.8h0M313.9 386.8h0M322.7 381.8h0M317.9 379.9h0M310.3 377.1h0M332.0 379.3h0M321.5 381.1h0M306.3 386.9h0M311.1 379.6h0M333.9 375.0h0M322.1 377.6h0M339.1 379.9h0M326.5 385.5h0M312.1 372.8h0M313.3 386.6h0M313.3 373.2h0M311.6 371.3h0M307.0 371.0h0M329.8 374.4h0M310.0 377.8h0M340.2 379.8h0M332.2 380.3h0M318.0 382.1h0M305.6 383.4h0M317.0 381.3h0M316.9 365.1h0M329.2 378.7h0M316.8 365.4h0M348.3 369.0h0M313.1 375.5h0M314.7 372.3h0M341.4 368.4h0M300.5 378.7h0M315.1 372.2h0M322.7 379.8h0M312.6 377.5h0M324.1 371.3h0M334.6 374.4h0M303.2 371.9h0M312.3 375.2h0M320.6 360.0h0M325.8 375.1h0M341.2 368.1h0M322.2 378.1h0M312.9 383.4h0M312.3 370.8h0M298.3 390.9h0M319.3 372.4h0M330.9 383.4h0M306.5 376.2h0M328.6 375.9h0M340.4 384.4h0M324.7 379.7h0M317.1 368.2h0M308.9 372.2h0M314.5 377.3h0M304.5 383.1h0M335.1 384.6h0M333.0 376.1h0M327.9 380.2h0M306.1 374.2h0M293.3 368.7h0M327.5 375.5h0M327.2 374.8h0M327.8 385.3h0M331.1 378.7h0M329.4 381.7h0M314.2 376.0h0M329.2 373.0h0M339.5 384.7h0M329.4 367.6h0M324.5 375.5h0M324.2 367.9h0M312.8 371.6h0M318.1 382.5h0M331.9 378.5h0M300.6 376.8h0M311.7 378.6h0M330.4 385.3h0M303.4 386.0h0M326.8 376.7h0M328.6 360.3h0M324.9 389.9h0M306.1 376.0h0M351.4 371.0h0M314.1 379.3h0M329.5 377.2h0M329.0 384.8h0M327.0 384.3h0M326.8 382.1h0M326.7 383.3h0M322.3 373.6h0M311.6 376.0h0M328.1 391.5h0M330.5 366.2h0M304.5 377.7h0M326.7 389.8h0M339.8 372.5h0M328.1 373.5h0M317.5 378.5h0M326.0 372.4h0M321.6 385.7h0M318.9 384.8h0M328.5 381.0h0M314.5 374.6h0M342.6 372.4h0M333.7 381.8h0M303.9 377.5h0M321.9 369.3h0M293.9 378.9h0M308.7 377.1h0M327.5 373.3h0M323.0 378.3h0M308.2 380.0h0M303.1 376.4h0M313.5 380.4h0M331.8 375.0h0M333.3 373.4h0M337.1 371.1h0M320.8 359.8h0M313.1 389.1h0M338.7 378.8h0M334.0 385.8h0M328.2 376.4h0M327.5 381.6h0M317.5 375.5h0M336.1 364.6h0M302.6 389.3h0M318.2 383.1h0M329.2 388.1h0M322.9 382.4h0M340.2 386.5h0M327.2 362.2h0M314.9 390.9h0M313.7 377.8h0M298.5 386.0h0M336.3 369.2h0M330.1 389.6h0M309.6 366.9h0M311.4 384.1h0M328.9 380.5h0M322.1 371.6h0M339.7 378.6h0M327.5 371.1h0M325.9 374.3h0M317.9 386.2h0M331.5 376.0h0M325.7 377.2h0M350.1 378.8h0M305.5 374.8h0M320.1 389.9h0M340.0 376.1h0M322.4 365.8h0M309.9 377.3h0M319.8 379.6h0M335.3 380.7h0M332.6 378.5h0M325.4 376.3h0M309.4 371.5h0M319.0 371.8h0M313.7 377.0h0M310.6 383.3h0M333.6 387.3h0M311.8 379.0h0M309.6 365.9h0M318.2 373.8h0M324.8 388.9h0M323.3 372.1h0M309.4 391.2h0M326.8 384.0h0M314.6 391.1h0M311.6 370.8h0M323.4 380.3h0M300.1 391.5h0M309.3 386.1h0M317.0 386.5h0M321.7 388.0h0M318.9 377.0h0M334.9 369.0h0M307.6 374.3h0M315.8 385.4h0M323.8 360.5h0M316.3 391.5h0M304.6 389.0h0M336.5 381.6h0M315.3 382.1h0M296.3 382.3h0M320.3 377.2h0M314.3 370.1h0M316.3 375.4h0M306.1 381.2h0M336.6 378.2h0M318.1 377.8h0M333.0 372.4h0M338.1 373.5h0M307.8 368.5h0M309.4 388.0h0M314.4 380.4h0M329.9 382.7h0M325.7 368.6h0M329.5 375.0h0M324.6 376.8h0M327.4 382.9h0M328.0 372.8h0M324.2 380.9h0M317.0 375.9h0M336.2 381.6h0M319.2 374.6h0M305.4 374.2h0M302.0 376.6h0M328.6 370.7h0M319.0 375.7h0M308.2 377.9h0M325.3 374.1h0M326.6 372.4h0M311.4 377.3h0M321.2 385.5h0M324.5 382.8h0M312.4 379.1h0M309.9 382.7h0M342.5 364.3h0M337.8 368.7h0M321.5 367.6h0M324.3 367.4h0M335.0 385.1h0M334.4 372.5h0M330.5 371.4h0M313.0 388.5h0M321.9 373.1h0M331.0 380.9h0M329.3 378.3h0M339.9 365.7h0M312.8 370.6h0M337.9 375.0h0M301.3 383.4h0M293.3 387.8h0M327.3 368.5h0M333.4 378.6h0M332.1 391.5h0M329.9 373.6h0M321.6 382.3h0M319.9 391.5h0M343.4 371.9h0M313.8 377.4h0M333.9 363.5h0M319.3 374.7h0M310.5 384.1h0M317.7 388.0h0M312.8 380.2h0M302.3 383.2h0M308.3 373.4h0M299.1 391.5h0M328.4 382.0h0M307.5 385.8h0M336.4 375.9h0M325.5 377.4h0M328.7 364.6h0M321.5 388.8h0M325.0 375.8h0M327.6 369.7h0M320.8 381.9h0M313.7 388.9h0M307.8 381.4h0M315.1 371.6h0M308.7 372.0h0M319.4 383.2h0M319.6 388.2h0M309.5 380.0h0M332.3 360.4h0M327.7 382.1h0M303.9 372.2h0M335.3 378.8h0M311.4 382.5h0M303.3 384.6h0M320.1 371.2h0M332.4 370.3h0M336.6 377.5h0M314.6 384.4h0M324.3 376.4h0M323.4 372.7h0M336.8 366.0h0M332.1 360.0h0M326.8 370.5h0M325.7 358.2h0M325.5 386.1h0M320.7 384.9h0M315.6 387.2h0M324.8 366.6h0M326.4 376.5h0M316.0 383.2h0M326.4 367.7h0M335.5 384.1h0M301.7 387.5h0M337.1 380.6h0M324.8 385.5h0M311.0 383.1h0M328.3 372.2h0M318.4 367.3h0M326.1 365.1h0M319.5 375.0h0M323.6 369.1h0M318.1 376.8h0M315.7 370.0h0M329.0 382.7h0M330.5 364.1h0M330.7 367.6h0M318.3 379.0h0M323.3 375.1h0M325.0 364.7h0M324.9 378.2h0M322.5 366.5h0M317.4 369.8h0M328.5 366.3h0M311.1 373.3h0M317.5 380.5h0M317.7 370.6h0M332.6 370.8h0M307.6 377.8h0M320.3 371.1h0M327.2 379.1h0M311.2 377.9h0M308.8 371.4h0M314.2 380.2h0M324.8 391.0h0M338.9 383.5h0M339.5 380.8h0M330.0 378.0h0M327.3 368.2h0M320.4 384.2h0M318.5 368.9h0M341.5 367.0h0M327.8 370.6h0M314.8 379.1h0M313.3 385.7h0M318.8 368.6h0M324.7 374.0h0M321.2 371.8h0M319.0 380.5h0M316.3 376.1h0M310.1 388.9h0M325.2 379.1h0M334.3 362.4h0M330.7 378.3h0M309.7 375.9h0M332.7 373.7h0M331.4 360.1h0M315.5 386.4h0M329.1 375.8h0M326.8 380.2h0M315.4 379.2h0M296.9 375.9h0M335.6 385.8h0M293.7 371.6h0M294.8 380.5h0M316.9 377.4h0M315.5 370.3h0M321.6 387.1h0M325.4 373.5h0M327.7 375.0h0M310.5 380.5h0M330.0 388.3h0M311.7 364.4h0M325.3 363.0h0M312.8 369.4h0M323.1 375.1h0M308.3 372.5h0M335.4 382.6h0M316.1 391.5h0M323.7 383.0h0M341.4 377.8h0M349.8 368.6h0M309.5 381.2h0M297.4 380.1h0M304.8 380.8h0M340.5 369.2h0M317.5 384.4h0M316.9 370.7h0M317.3 390.7h0M307.5 374.0h0M313.1 384.1h0M313.8 373.7h0M338.0 383.8h0M315.5 366.7h0M323.1 375.4h0M337.2 390.9h0M328.8 369.5h0M329.8 356.2h0M339.0 377.5h0M320.8 375.1h0M333.3 377.9h0M335.0 387.3h0M300.0 387.4h0M319.7 383.8h0M341.7 361.4h0M312.0 360.2h0M335.4 381.8h0M318.6 379.7h0M305.2 385.0h0M293.8 385.1h0M313.0 385.5h0M306.0 389.5h0M339.9 384.8h0M295.5 378.8h0M330.9 384.1h0M304.4 370.6h0M310.2 380.0h0M328.3 373.2h0M336.4 370.7h0M326.3 377.6h0M320.8 388.9h0M329.7 388.2h0M327.2 362.6h0M296.7 389.2h0M315.4 385.9h0M295.9 387.2h0M347.7 372.2h0M337.3 386.5h0M324.3 372.2h0M338.3 367.1h0M319.8 384.9h0M300.5 391.5h0M301.7 387.8h0M335.7 374.0h0M336.2 387.4h0M324.4 387.3h0M324.5 386.3h0M317.5 386.5h0M309.9 381.8h0M343.6 377.2h0M331.9 374.1h0M347.0 365.0h0M325.8 381.2h0M329.8 380.2h0M324.0 377.4h0M323.8 366.3h0M314.4 375.7h0M327.6 363.5h0M326.8 374.7h0M313.8 370.0h0M318.0 390.9h0M348.1 369.6h0M341.3 370.8h0M318.5 368.4h0M318.8 384.7h0M310.1 369.9h0M329.8 367.2h0M307.2 368.7h0M340.2 369.8h0M328.5 377.5h0M316.6 382.8h0M343.2 360.4h0M341.6 343.5h0M349.7 376.5h0M298.0 391.1h0M334.0 378.6h0M293.3 369.0h0M360.4 369.5h0M335.9 365.0h0M319.6 380.4h0M332.7 368.7h0M293.3 376.2h0M293.3 373.1h0M330.3 387.4h0M319.9 357.0h0M328.9 372.5h0M324.8 364.1h0M338.2 381.2h0M342.2 363.0h0M312.8 361.5h0M338.9 362.6h0M318.8 379.9h0M313.2 357.1h0M309.3 384.1h0M326.4 368.4h0M302.0 375.0h0M332.5 363.4h0M335.9 360.4h0M306.3 364.6h0M325.5 368.2h0M339.5 388.3h0M345.0 372.5h0M317.3 369.6h0M329.2 362.5h0M321.5 371.5h0M340.2 363.4h0M311.7 379.3h0M305.4 360.9h0M327.2 372.5h0M323.5 367.7h0M300.3 366.8h0M341.7 370.0h0M329.4 366.0h0M327.3 378.4h0M359.2 386.0h0M307.0 383.8h0M323.6 374.2h0M323.0 365.6h0M299.4 361.3h0M325.5 365.8h0M345.8 362.9h0M328.2 368.3h0M336.1 372.0h0M307.6 389.4h0M319.7 375.8h0M319.2 391.5h0M369.6 360.6h0M315.6 362.9h0M315.9 371.1h0M328.7 366.1h0M314.3 367.7h0M311.6 375.1h0M337.2 373.4h0M306.6 377.0h0M323.0 371.9h0M335.3 368.2h0M363.9 371.2h0M330.4 377.3h0M344.1 368.3h0M313.6 370.4h0M330.9 376.5h0M309.4 381.9h0M308.1 387.0h0M316.7 390.3h0M301.9 374.6h0M309.4 389.5h0M319.9 376.5h0M330.9 360.1h0M327.8 375.5h0M335.0 361.5h0M338.6 374.7h0M336.5 376.3h0M293.3 365.4h0M329.2 384.3h0M327.6 366.5h0M326.8 363.9h0M294.5 378.4h0M335.7 359.7h0M321.7 369.5h0M329.8 371.4h0M304.8 380.6h0M353.3 364.0h0M328.9 378.1h0M302.4 390.8h0M366.1 380.7h0M330.4 368.8h0M319.9 360.5h0M314.1 382.8h0M332.9 367.6h0M323.4 353.7h0M302.7 375.2h0M330.5 365.3h0M314.3 373.5h0M324.0 372.3h0M348.0 349.8h0M343.4 373.6h0M355.7 371.9h0M358.0 366.5h0M298.5 355.5h0M343.7 355.3h0M352.0 364.5h0M297.3 381.4h0M338.3 353.3h0M349.3 347.3h0M302.0 352.0h0M340.5 358.9h0M339.8 350.7h0M355.0 349.4h0M301.0 358.9h0M334.4 350.3h0M299.5 348.9h0M341.5 345.6h0M351.5 380.9h0M396.6 274.5h0M399.8 276.6h0M409.3 274.5h0M420.3 273.4h0M415.5 303.7h0M330.0 319.2h0M377.5 338.5h0M418.5 342.1h0M405.8 348.3h0M410.2 351.8h0M409.3 353.0h0M382.4 353.0h0M393.4 353.0h0M404.0 359.4h0M409.3 359.4h0M364.7 358.9h0M372.5 358.9h0M369.5 362.4h0M370.4 362.4h0M387.2 361.0h0M363.0 366.0h0M381.0 367.7h0M382.4 366.8h0M385.4 368.6h0M391.6 366.0h0M396.6 366.0h0M398.3 370.4h0M366.5 368.3h0M369.5 368.6h0M364.7 371.8h0M371.3 373.4h0M374.3 373.4h0M385.4 376.6h0M382.4 379.2h0M363.0 377.8h0M370.7 382.8h0M379.2 384.2h0M377.5 387.7h0M361.2 350.9h0M361.2 368.6h0" stroke="#000" stroke-width="2.3" stroke-linecap="square" fill="none"/>
<rect x="291.20" y="270.30" width="157.20" height="123.30" fill="none" stroke="#000" stroke-width="2.2"/>
<line x1="360.30" y1="270.30" x2="360.30" y2="393.60" stroke="#000" stroke-width="2.0"/>
<line x1="291.20" y1="332.30" x2="448.40" y2="332.30" stroke="#000" stroke-width="2.0"/>
<text x="287.20" y="416.40" font-size="13" font-weight="normal" font-family="'Liberation Sans', sans-serif" text-anchor="middle" textLength="14.2" lengthAdjust="spacingAndGlyphs" stroke="#000" stroke-width="0.45">10</text>
<text x="298.20" y="408.90" font-size="12" font-weight="normal" font-family="'Liberation Sans', sans-serif" text-anchor="middle" stroke="#000" stroke-width="0.45">0</text>
<text x="326.50" y="416.40" font-size="13" font-weight="normal" font-family="'Liberation Sans', sans-serif" text-anchor="middle" textLength="14.2" lengthAdjust="spacingAndGlyphs" stroke="#000" stroke-width="0.45">10</text>
<text x="337.50" y="408.90" font-size="12" font-weight="normal" font-family="'Liberation Sans', sans-serif" text-anchor="middle" stroke="#000" stroke-width="0.45">1</text>
<text x="365.80" y="416.40" font-size="13" font-weight="normal" font-family="'Liberation Sans', sans-serif" text-anchor="middle" textLength="14.2" lengthAdjust="spacingAndGlyphs" stroke="#000" stroke-width="0.45">10</text>
<text x="376.80" y="408.90" font-size="12" font-weight="normal" font-family="'Liberation Sans', sans-serif" text-anchor="middle" stroke="#000" stroke-width="0.45">2</text>
<text x="405.10" y="416.40" font-size="13" font-weight="normal" font-family="'Liberation Sans', sans-serif" text-anchor="middle" textLength="14.2" lengthAdjust="spacingAndGlyphs" stroke="#000" stroke-width="0.45">10</text>
<text x="416.10" y="408.90" font-size="12" font-weight="normal" font-family="'Liberation Sans', sans-serif" text-anchor="middle" stroke="#000" stroke-width="0.45">3</text>
<text x="444.40" y="416.40" font-size="13" font-weight="normal" font-family="'Liberation Sans', sans-serif" text-anchor="middle" textLength="14.2" lengthAdjust="spacingAndGlyphs" stroke="#000" stroke-width="0.45">10</text>
<text x="455.40" y="408.90" font-size="12" font-weight="normal" font-family="'Liberation Sans', sans-serif" text-anchor="middle" stroke="#000" stroke-width="0.45">4</text>
<text x="278.70" y="403.50" font-size="13" font-weight="normal" font-family="'Liberation Sans', sans-serif" textLength="14.2" lengthAdjust="spacingAndGlyphs" transform="rotate(-90 278.70 403.50)" stroke="#000" stroke-width="0.45">10</text>
<text x="270.70" y="389.00" font-size="12" font-weight="normal" font-family="'Liberation Sans', sans-serif" transform="rotate(-90 270.70 389.00)" stroke="#000" stroke-width="0.45">0</text>
<text x="278.70" y="372.68" font-size="13" font-weight="normal" font-family="'Liberation Sans', sans-serif" textLength="14.2" lengthAdjust="spacingAndGlyphs" transform="rotate(-90 278.70 372.68)" stroke="#000" stroke-width="0.45">10</text>
<text x="270.70" y="358.18" font-size="12" font-weight="normal" font-family="'Liberation Sans', sans-serif" transform="rotate(-90 270.70 358.18)" stroke="#000" stroke-width="0.45">1</text>
<text x="278.70" y="341.85" font-size="13" font-weight="normal" font-family="'Liberation Sans', sans-serif" textLength="14.2" lengthAdjust="spacingAndGlyphs" transform="rotate(-90 278.70 341.85)" stroke="#000" stroke-width="0.45">10</text>
<text x="270.70" y="327.35" font-size="12" font-weight="normal" font-family="'Liberation Sans', sans-serif" transform="rotate(-90 270.70 327.35)" stroke="#000" stroke-width="0.45">2</text>
<text x="278.70" y="311.03" font-size="13" font-weight="normal" font-family="'Liberation Sans', sans-serif" textLength="14.2" lengthAdjust="spacingAndGlyphs" transform="rotate(-90 278.70 311.03)" stroke="#000" stroke-width="0.45">10</text>
<text x="270.70" y="296.52" font-size="12" font-weight="normal" font-family="'Liberation Sans', sans-serif" transform="rotate(-90 270.70 296.52)" stroke="#000" stroke-width="0.45">3</text>
<text x="278.70" y="280.20" font-size="13" font-weight="normal" font-family="'Liberation Sans', sans-serif" textLength="14.2" lengthAdjust="spacingAndGlyphs" transform="rotate(-90 278.70 280.20)" stroke="#000" stroke-width="0.45">10</text>
<text x="270.70" y="265.70" font-size="12" font-weight="normal" font-family="'Liberation Sans', sans-serif" transform="rotate(-90 270.70 265.70)" stroke="#000" stroke-width="0.45">4</text>
<text x="350.00" y="431.50" font-size="13.5" font-weight="bold" font-family="'Liberation Sans', sans-serif" textLength="37.5" lengthAdjust="spacingAndGlyphs" >FL1-H</text>
<text x="260.00" y="350.00" font-size="13.5" font-weight="bold" font-family="'Liberation Sans', sans-serif" textLength="37.5" lengthAdjust="spacingAndGlyphs" transform="rotate(-90 260.00 350.00)" >FL3-H</text>
<text x="293.90" y="251.30" font-size="15.5" font-weight="bold" font-family="'Liberation Sans', sans-serif" textLength="152.4" lengthAdjust="spacingAndGlyphs" >anti-Fas + zVAD-fmk</text>
<text x="417.50" y="384.50" font-size="13" font-weight="bold" font-family="'Liberation Sans', sans-serif" textLength="21.2" lengthAdjust="spacingAndGlyphs" stroke="#000" stroke-width="0.4">4%</text>
<path d="M73.80 619.60v8 M73.80 619.60h-8 M85.65 619.60v4.5 M73.80 610.13h-4.5 M92.57 619.60v4.5 M73.80 604.59h-4.5 M97.49 619.60v4.5 M73.80 600.67h-4.5 M101.30 619.60v4.5 M73.80 597.62h-4.5 M104.42 619.60v4.5 M73.80 595.13h-4.5 M107.05 619.60v4.5 M73.80 593.02h-4.5 M109.34 619.60v4.5 M73.80 591.20h-4.5 M111.35 619.60v4.5 M73.80 589.59h-4.5 M113.15 619.60v8 M73.80 588.15h-8 M125.00 619.60v4.5 M73.80 578.68h-4.5 M131.92 619.60v4.5 M73.80 573.14h-4.5 M136.84 619.60v4.5 M73.80 569.22h-4.5 M140.65 619.60v4.5 M73.80 566.17h-4.5 M143.77 619.60v4.5 M73.80 563.68h-4.5 M146.40 619.60v4.5 M73.80 561.57h-4.5 M148.69 619.60v4.5 M73.80 559.75h-4.5 M150.70 619.60v4.5 M73.80 558.14h-4.5 M152.50 619.60v8 M73.80 556.70h-8 M164.35 619.60v4.5 M73.80 547.23h-4.5 M171.27 619.60v4.5 M73.80 541.69h-4.5 M176.19 619.60v4.5 M73.80 537.77h-4.5 M180.00 619.60v4.5 M73.80 534.72h-4.5 M183.12 619.60v4.5 M73.80 532.23h-4.5 M185.75 619.60v4.5 M73.80 530.12h-4.5 M188.04 619.60v4.5 M73.80 528.30h-4.5 M190.05 619.60v4.5 M73.80 526.69h-4.5 M191.85 619.60v8 M73.80 525.25h-8 M203.70 619.60v4.5 M73.80 515.78h-4.5 M210.62 619.60v4.5 M73.80 510.24h-4.5 M215.54 619.60v4.5 M73.80 506.32h-4.5 M219.35 619.60v4.5 M73.80 503.27h-4.5 M222.47 619.60v4.5 M73.80 500.78h-4.5 M225.10 619.60v4.5 M73.80 498.67h-4.5 M227.39 619.60v4.5 M73.80 496.85h-4.5 M229.40 619.60v4.5 M73.80 495.24h-4.5 M231.20 619.60v8 M73.80 493.80h-8" stroke="#000" stroke-width="1.4" fill="none"/>
<path d="M112.3 614.8h0M112.3 576.3h0M96.9 593.8h0M104.9 608.3h0M105.0 594.9h0M105.7 591.9h0M133.4 580.0h0M101.3 607.5h0M101.2 589.4h0M99.0 597.2h0M118.5 595.3h0M99.6 582.2h0M103.9 596.8h0M116.4 594.4h0M114.9 598.6h0M92.3 581.6h0M128.6 590.0h0M108.6 587.6h0M117.4 584.7h0M109.3 616.4h0M127.3 598.0h0M100.5 596.6h0M96.9 591.9h0M110.4 583.1h0M123.1 592.5h0M104.9 583.4h0M116.9 591.6h0M125.5 603.4h0M86.7 600.3h0M123.2 607.5h0M120.1 582.6h0M98.9 596.1h0M104.5 615.4h0M99.1 582.8h0M116.0 589.6h0M97.2 611.7h0M113.7 588.2h0M123.4 585.2h0M82.5 596.9h0M110.9 581.4h0M104.3 599.0h0M98.9 573.8h0M111.1 617.5h0M103.6 601.4h0M85.1 584.6h0M97.4 601.6h0M104.9 596.8h0M95.4 600.0h0M87.7 617.5h0M137.4 593.1h0M124.1 591.4h0M122.1 596.7h0M106.6 586.5h0M78.2 592.8h0M101.4 603.4h0M112.1 616.1h0M99.2 597.8h0M97.4 610.4h0M132.9 594.2h0M109.4 592.0h0M107.1 607.5h0M96.1 589.0h0M125.6 590.1h0M110.4 590.3h0M105.6 593.3h0M102.4 602.9h0M98.9 571.9h0M109.8 581.0h0M133.8 597.1h0M108.0 597.7h0M114.3 608.6h0M97.4 585.9h0M111.5 606.4h0M88.8 606.1h0M126.3 593.9h0M100.7 603.9h0M114.2 589.4h0M109.5 591.7h0M126.5 592.0h0M115.6 578.6h0M116.1 595.3h0M86.9 585.3h0M93.4 617.5h0M92.9 605.4h0M95.0 605.8h0M117.8 579.8h0M105.1 607.0h0M106.0 591.2h0M93.7 610.6h0M87.9 580.6h0M119.4 601.0h0M106.8 591.9h0M114.7 596.0h0M108.3 614.0h0M93.4 609.4h0M104.3 604.1h0M77.2 593.9h0M114.4 590.0h0M105.5 595.8h0M108.0 603.7h0M106.5 600.0h0M113.0 580.6h0M102.0 585.2h0M105.4 599.7h0M96.1 614.2h0M101.8 598.3h0M109.2 588.9h0M116.9 598.5h0M100.1 591.7h0M86.7 601.9h0M80.6 614.4h0M101.5 583.2h0M95.3 597.6h0M112.6 599.7h0M126.2 597.7h0M94.7 601.8h0M122.1 599.4h0M120.9 596.5h0M92.4 609.7h0M99.2 588.9h0M114.5 595.2h0M94.5 603.2h0M91.9 607.7h0M115.4 606.9h0M97.4 609.6h0M96.8 580.3h0M113.8 599.2h0M106.9 608.2h0M108.8 592.3h0M124.7 583.4h0M123.1 606.2h0M83.8 586.8h0M118.5 590.6h0M106.5 598.7h0M110.7 593.2h0M117.3 588.2h0M130.3 583.8h0M117.1 607.0h0M105.1 595.4h0M112.3 589.9h0M86.7 586.7h0M113.6 581.0h0M109.3 593.3h0M90.9 600.2h0M87.9 574.1h0M88.8 585.0h0M95.3 596.4h0M113.3 600.1h0M103.7 611.9h0M96.9 603.1h0M102.2 592.7h0M122.1 592.4h0M101.8 585.5h0M95.1 597.4h0M134.1 593.5h0M94.8 583.2h0M111.9 593.1h0M117.1 595.3h0M107.6 597.7h0M102.7 603.5h0M122.1 604.7h0M107.3 576.6h0M113.9 591.3h0M105.1 609.0h0M127.0 596.5h0M94.1 592.9h0M89.6 592.6h0M94.6 591.3h0M104.1 599.8h0M102.4 613.6h0M107.3 617.5h0M97.3 583.1h0M111.8 596.1h0M87.7 595.2h0M89.6 591.3h0M102.1 610.5h0M96.5 591.9h0M95.1 602.5h0M98.0 599.6h0M96.2 593.7h0M109.0 617.5h0M114.6 598.6h0M121.5 610.7h0M107.5 593.8h0M96.6 591.7h0M91.6 605.1h0M91.6 593.0h0M85.2 614.2h0M113.1 602.7h0M127.5 601.3h0M104.2 593.8h0M108.6 602.7h0M77.1 602.1h0M104.6 602.3h0M97.3 589.6h0M106.2 603.5h0M95.0 584.6h0M96.0 609.2h0M94.4 612.8h0M97.2 601.2h0M131.4 603.0h0M114.1 609.4h0M86.9 608.4h0M102.5 600.6h0M100.8 589.2h0M131.8 612.4h0M113.6 591.5h0M116.0 609.5h0M132.9 598.4h0M127.3 585.2h0M103.4 597.2h0M84.9 610.0h0M92.6 614.8h0M96.7 601.7h0M102.8 597.6h0M96.7 601.8h0M88.1 586.4h0M113.5 598.9h0M107.2 591.7h0M100.3 609.2h0M99.2 580.9h0M97.2 591.4h0M92.2 588.4h0M138.0 592.0h0M101.1 617.5h0M97.7 592.5h0M124.9 589.2h0M100.8 599.4h0M109.5 603.5h0M92.4 591.8h0M100.3 613.8h0M81.9 599.8h0M111.7 588.6h0M132.2 581.5h0M108.9 585.0h0M110.3 589.1h0M120.9 602.3h0M120.8 596.9h0M94.3 606.9h0M95.9 598.9h0M101.4 593.0h0M122.1 580.8h0M90.4 593.4h0M98.4 605.2h0M102.6 611.1h0M105.9 586.5h0M108.4 598.2h0M100.8 602.8h0M121.5 575.8h0M95.9 611.1h0M132.3 605.2h0M108.2 610.4h0M109.8 586.3h0M89.5 591.1h0M86.5 610.2h0M115.6 596.5h0M105.3 606.3h0M90.3 587.4h0M78.9 590.2h0M114.7 602.8h0M105.4 604.0h0M115.6 586.5h0M117.6 593.0h0M120.0 582.8h0M76.0 593.5h0M113.6 610.8h0M80.3 605.0h0M119.4 599.7h0M110.0 597.9h0M104.6 604.8h0M103.8 602.3h0M83.9 582.5h0M103.4 578.7h0M102.2 593.1h0M130.3 601.2h0M97.7 598.1h0M113.4 604.3h0M128.0 593.8h0M93.2 585.6h0M94.3 591.0h0M82.6 605.4h0M112.6 598.3h0M124.1 588.2h0M112.2 605.1h0M97.3 608.8h0M96.6 593.3h0M107.9 601.8h0M94.9 613.3h0M102.5 616.5h0M97.8 595.2h0M116.6 604.1h0M113.0 606.6h0M106.8 575.1h0M90.3 588.5h0M98.3 606.6h0M114.7 601.5h0M128.4 593.1h0M98.3 596.0h0M139.1 588.6h0M99.9 581.4h0M99.9 593.0h0M109.6 614.2h0M105.5 610.0h0M106.7 587.3h0M99.3 600.7h0M101.6 602.4h0M112.5 603.1h0M121.5 596.3h0M134.6 591.9h0M107.7 609.8h0M86.4 593.7h0M84.1 608.5h0M106.3 597.4h0M96.2 606.3h0M109.5 598.9h0M101.8 602.8h0M105.2 586.8h0M99.9 603.0h0M125.4 597.7h0M81.0 614.0h0M119.6 595.9h0M120.3 584.0h0M108.7 605.9h0M110.8 567.1h0M99.8 596.0h0M91.3 603.1h0M115.9 579.3h0M115.1 599.1h0M117.4 592.4h0M103.6 611.2h0M119.3 583.2h0M113.7 601.8h0M130.0 604.3h0M105.5 588.2h0M77.6 580.3h0M91.5 590.5h0M110.4 590.8h0M86.9 597.0h0M114.4 574.2h0M95.6 590.8h0M106.8 590.9h0M108.9 601.7h0M93.7 616.8h0M110.2 593.6h0M120.2 594.3h0M97.8 597.9h0M100.6 585.1h0M96.8 617.5h0M113.1 592.2h0M117.7 602.0h0M96.1 617.5h0M115.4 601.5h0M105.3 576.1h0M126.9 598.0h0M103.7 606.1h0M95.8 599.3h0M88.1 596.1h0M81.2 609.1h0M107.6 596.5h0M126.4 584.6h0M83.4 589.6h0M85.6 590.9h0M88.8 593.5h0M101.5 592.3h0M91.5 597.6h0M115.0 584.5h0M117.7 598.5h0M95.2 605.3h0M101.0 615.5h0M94.5 583.9h0M112.9 578.3h0M128.1 590.8h0M91.1 601.3h0M98.3 608.6h0M89.9 590.8h0M110.8 613.5h0M110.6 597.0h0M94.2 600.6h0M101.5 595.9h0M134.1 607.2h0M132.1 596.8h0M93.3 605.7h0M105.1 598.4h0M99.9 586.4h0M110.9 599.0h0M90.4 598.0h0M112.6 588.2h0M118.8 601.1h0M121.8 589.1h0M86.0 610.4h0M129.9 598.9h0M93.3 612.9h0M87.1 588.0h0M121.0 595.2h0M117.6 575.2h0M105.3 613.8h0M118.0 591.1h0M115.2 604.7h0M110.5 603.8h0M91.8 612.5h0M101.4 587.1h0M121.8 577.7h0M126.6 590.6h0M98.2 596.9h0M118.0 578.7h0M97.5 604.6h0M134.1 597.4h0M108.6 614.4h0M108.0 593.3h0M115.1 597.1h0M106.0 602.8h0M94.5 611.1h0M107.6 578.1h0M111.6 602.0h0M103.4 608.4h0M105.7 596.4h0M82.0 604.3h0M96.1 592.0h0M104.5 578.6h0M91.4 603.8h0M112.8 617.4h0M113.4 611.6h0M77.4 584.4h0M98.7 599.7h0M102.2 600.5h0M113.1 593.2h0M114.4 607.1h0M86.4 602.6h0M109.6 599.9h0M94.6 601.5h0M76.0 600.5h0M113.0 590.0h0M96.2 597.0h0M104.7 605.8h0M115.3 607.6h0M119.5 592.2h0M102.9 604.0h0M94.2 596.3h0M98.0 598.8h0M120.5 603.7h0M102.0 599.6h0M129.8 585.0h0M126.8 596.8h0M97.7 596.6h0M130.2 573.5h0M98.9 609.1h0M104.9 600.5h0M105.8 589.9h0M92.9 596.0h0M107.8 608.9h0M114.7 597.5h0M136.6 582.1h0M124.2 590.1h0M99.2 617.5h0M110.5 603.6h0M121.4 584.3h0M104.9 591.9h0M95.7 591.7h0M104.8 597.9h0M107.2 604.0h0M99.3 607.1h0M121.5 589.3h0M102.9 608.8h0M89.7 590.3h0M115.2 602.1h0M93.8 611.3h0M109.5 585.4h0M95.1 595.9h0M82.8 601.9h0M119.5 614.4h0M124.2 585.3h0M99.1 584.8h0M109.4 611.5h0M81.7 596.3h0M115.7 592.2h0M102.4 605.0h0M111.9 586.6h0M100.4 592.5h0M103.8 595.0h0M82.4 609.6h0M109.6 604.8h0M96.9 590.4h0M107.7 594.6h0M125.4 587.9h0M117.3 585.1h0M107.8 600.7h0M115.0 608.6h0M97.8 609.6h0M78.7 607.7h0M95.2 593.5h0M98.2 578.5h0M109.7 602.6h0M109.2 591.3h0M87.1 592.4h0M103.1 601.6h0M103.1 597.9h0M102.5 592.2h0M101.9 593.6h0M115.9 583.0h0M105.1 590.2h0M129.1 593.3h0M105.4 587.3h0M121.0 583.7h0M82.5 598.5h0M106.2 598.5h0M109.0 602.0h0M110.8 597.1h0M109.3 600.7h0M119.5 613.0h0M115.0 610.0h0M100.1 599.3h0M108.6 590.0h0M96.3 584.7h0M86.0 579.9h0M123.1 590.0h0M113.7 592.2h0M113.1 596.9h0M91.0 595.2h0M80.3 581.8h0M98.1 586.3h0M110.8 604.9h0M135.8 593.3h0M99.3 607.4h0M106.9 583.9h0M108.6 608.6h0M115.2 594.2h0M94.4 608.8h0M88.6 594.5h0M115.0 595.7h0M87.0 580.6h0M110.4 587.4h0M104.1 586.7h0M109.9 592.3h0M80.4 601.0h0M132.3 597.3h0M85.6 589.0h0M88.6 603.1h0M110.9 596.1h0M92.1 597.8h0M98.8 601.0h0M101.9 577.7h0M98.7 584.3h0M99.2 599.2h0M97.8 599.8h0M128.6 573.7h0M111.0 602.1h0M88.7 593.2h0M114.2 585.2h0M120.6 588.7h0M84.7 593.7h0M101.1 591.9h0M93.8 607.6h0M124.5 590.3h0M111.0 594.4h0M97.4 604.8h0M86.6 599.7h0M100.8 598.5h0M104.7 598.6h0M111.0 570.3h0M103.2 579.4h0M77.4 615.8h0M92.1 606.1h0M95.4 600.5h0M86.0 609.7h0M119.4 574.5h0M86.4 597.9h0M107.8 606.4h0M106.0 597.7h0M104.0 605.5h0M101.4 586.6h0M90.3 590.5h0M103.5 604.8h0M113.9 588.8h0M88.3 613.3h0M120.4 609.9h0M93.7 584.1h0M114.7 591.9h0M98.9 601.9h0M124.6 602.1h0M124.2 570.8h0M125.0 591.0h0M131.1 605.5h0M99.4 601.8h0M81.7 617.5h0M86.2 607.0h0M114.7 597.0h0M114.9 588.5h0M88.2 603.8h0M110.9 589.8h0M95.0 603.3h0M93.9 587.3h0M104.3 594.8h0M82.7 612.5h0M112.1 588.6h0M109.5 604.6h0M125.4 593.6h0M114.6 583.8h0M107.5 602.9h0M118.6 578.3h0M105.2 581.5h0M87.0 609.0h0M93.9 601.1h0M103.0 593.1h0M117.1 611.0h0M125.0 584.7h0M125.5 598.3h0M98.0 596.3h0M91.8 598.4h0M82.1 607.9h0M116.2 584.2h0M84.7 600.9h0M96.1 589.8h0M118.0 600.8h0M92.2 591.3h0M111.5 603.2h0M91.7 587.2h0M101.8 601.3h0M105.6 606.1h0M86.5 599.1h0M99.9 595.6h0M108.4 592.0h0M110.2 612.8h0M102.2 582.0h0M97.3 611.8h0M105.8 601.7h0M93.3 602.6h0M109.0 595.4h0M104.4 601.7h0M120.9 588.8h0M89.5 606.3h0M107.5 596.2h0M98.2 602.4h0M122.8 600.3h0M89.8 599.2h0M94.0 616.6h0M99.2 604.6h0M99.1 588.6h0M104.5 611.7h0M135.9 587.7h0M101.0 585.2h0M121.5 588.7h0M95.1 600.3h0M95.4 606.1h0M102.1 603.5h0M124.8 589.8h0M107.1 607.0h0M109.2 605.4h0M96.1 604.9h0M101.8 604.8h0M134.8 598.9h0M87.3 611.1h0M76.0 615.1h0M100.2 602.2h0M88.9 602.6h0M84.2 590.9h0M76.0 605.9h0M107.7 602.6h0M98.2 585.0h0M113.9 608.0h0M116.8 586.1h0M104.6 591.6h0M114.6 615.3h0M83.3 585.6h0M107.8 598.6h0M88.7 600.8h0M101.1 613.5h0M122.4 615.5h0M101.8 588.7h0M119.6 596.3h0M113.7 590.2h0M86.8 613.4h0M103.7 607.4h0M109.0 579.1h0M115.1 586.5h0M102.8 605.8h0M83.1 601.0h0M114.9 590.4h0M81.6 577.1h0M92.3 596.4h0M76.0 583.2h0M103.0 589.7h0M113.8 596.9h0M115.6 603.7h0M88.7 592.3h0M109.6 594.9h0M106.2 602.6h0M110.2 599.5h0M115.3 610.2h0M108.5 592.8h0M126.9 594.7h0M88.5 589.4h0M110.1 590.8h0M107.4 593.0h0M87.3 602.2h0M106.7 599.0h0M101.5 614.3h0M90.9 602.9h0M111.4 604.7h0M117.4 586.3h0M99.4 575.5h0M123.2 604.4h0M110.4 602.6h0M109.3 596.8h0M118.5 595.9h0M132.8 578.3h0M107.5 574.3h0M109.1 592.8h0M80.2 593.3h0M125.9 598.4h0M128.1 596.2h0M124.8 600.2h0M106.0 606.0h0M83.5 589.8h0M91.2 587.3h0M106.5 602.6h0M83.9 599.1h0M96.9 607.3h0M82.6 605.1h0M86.1 582.2h0M107.2 604.7h0M93.1 605.0h0M86.9 600.3h0M92.2 595.5h0M94.5 596.4h0M110.3 603.0h0M115.9 596.4h0M114.0 590.8h0M97.6 595.8h0M128.3 584.7h0M105.9 601.0h0M97.1 609.0h0M116.1 607.4h0M90.1 599.6h0M124.8 578.0h0M127.9 595.4h0M114.5 607.5h0M108.5 596.0h0M114.0 595.1h0M109.1 604.7h0M139.1 589.4h0M95.1 589.6h0M98.1 602.1h0M119.7 581.1h0M120.1 585.5h0M105.8 604.3h0M91.1 607.1h0M103.0 583.6h0M99.5 595.7h0M116.8 616.6h0M110.8 583.5h0M81.0 612.5h0M118.8 601.5h0M89.1 576.7h0M132.9 601.8h0M103.9 601.5h0M107.1 610.4h0M113.2 585.5h0M107.3 605.5h0M109.0 605.1h0M97.8 611.3h0M110.0 603.9h0M115.7 588.8h0M109.4 587.2h0M101.0 599.2h0M110.3 604.8h0M126.7 593.1h0M115.3 587.7h0M111.7 596.0h0M90.4 597.6h0M114.5 593.6h0M138.5 580.5h0M106.4 582.9h0M100.6 600.4h0M107.7 597.1h0M114.4 600.3h0M107.4 595.4h0M91.6 580.1h0M101.9 613.5h0M105.5 617.5h0M98.9 598.3h0M92.1 593.6h0M128.8 597.4h0M106.6 596.8h0M116.3 612.7h0M85.9 594.7h0M103.2 606.9h0M101.2 590.8h0M132.8 578.9h0M116.8 592.6h0M113.6 605.0h0M107.6 598.4h0M111.8 591.3h0M83.9 594.7h0M76.0 599.6h0M104.2 617.5h0M105.8 578.7h0M124.6 591.4h0M102.6 601.5h0M98.8 593.8h0M81.5 613.4h0M89.7 593.8h0M95.6 599.0h0M125.8 607.5h0M109.8 605.7h0M102.4 617.5h0M81.1 595.3h0M114.2 601.2h0M98.7 602.9h0M108.3 578.3h0M107.8 593.9h0M111.0 599.5h0M108.8 594.0h0M94.6 568.8h0M102.5 585.7h0M92.2 603.9h0M102.5 610.2h0M109.9 588.1h0M111.0 600.9h0M94.1 590.8h0M125.0 590.5h0M102.7 586.3h0M76.0 591.7h0M123.2 610.0h0M118.0 595.7h0M123.3 588.4h0M104.4 605.6h0M101.2 593.7h0M95.8 606.0h0M114.8 596.1h0M116.8 599.9h0M115.8 586.8h0M116.7 598.9h0M96.3 602.6h0M108.8 606.3h0M104.8 592.3h0M129.7 603.0h0M77.5 594.8h0M111.7 595.4h0M101.9 605.6h0M106.1 594.5h0M106.1 598.8h0M103.2 599.7h0M107.4 600.2h0M104.0 590.9h0M87.1 609.4h0M114.3 583.4h0M113.7 581.5h0M90.1 611.3h0M112.2 594.7h0M105.4 590.4h0M111.0 572.2h0M105.8 607.8h0M94.0 582.3h0M110.5 586.0h0M81.6 612.8h0M125.7 611.1h0M94.2 587.2h0M95.4 598.6h0M114.2 606.3h0M104.6 583.0h0M115.9 608.1h0M130.6 574.0h0M114.8 595.1h0M103.4 596.7h0M91.7 602.5h0M104.0 609.7h0M108.1 581.4h0M95.1 616.2h0M97.6 589.2h0M92.0 579.8h0M113.9 592.8h0M115.5 615.6h0M78.3 584.6h0M121.9 598.6h0M99.6 608.1h0M108.3 585.7h0M111.6 598.4h0M99.9 591.9h0M106.1 579.9h0M108.2 596.6h0M117.6 603.5h0M103.7 599.4h0M102.3 584.5h0M99.1 595.4h0M97.8 587.0h0M87.3 588.9h0M104.4 595.4h0M96.2 594.5h0M109.4 590.9h0M127.9 607.8h0M117.3 587.7h0M99.2 605.0h0M112.0 600.6h0M105.2 602.8h0M113.0 616.3h0M120.8 587.1h0M106.2 596.2h0M92.5 582.6h0M101.5 610.4h0M113.6 593.0h0M115.9 598.2h0M98.6 614.0h0M117.7 587.0h0M115.2 600.1h0M125.7 592.5h0M117.4 582.8h0M86.2 604.3h0M96.3 585.9h0M93.3 587.8h0M86.1 592.3h0M99.1 614.3h0M118.2 593.3h0M96.5 605.0h0M106.1 595.5h0M113.9 605.3h0M93.0 615.6h0M100.2 593.4h0M95.8 586.2h0M84.2 595.3h0M111.9 601.1h0M115.6 602.6h0M93.0 603.9h0M122.3 600.6h0M79.1 588.4h0M107.9 605.6h0M100.6 612.6h0M125.4 589.1h0M99.5 599.6h0M98.6 597.4h0M101.0 601.6h0M131.0 593.4h0M90.5 586.1h0M93.3 600.3h0M109.6 602.0h0M96.7 600.7h0M96.3 585.6h0M102.1 589.2h0M119.0 594.8h0M90.3 591.6h0M91.4 603.5h0M90.5 602.6h0M116.0 597.3h0M110.7 584.1h0M116.6 593.8h0M97.4 594.3h0M92.6 595.0h0M108.0 589.7h0M92.7 602.1h0M127.7 592.7h0M87.0 579.3h0M89.8 596.6h0M115.2 589.7h0M117.5 604.9h0M101.9 591.1h0M108.1 579.5h0M99.4 603.8h0M106.4 584.6h0M114.6 579.9h0M85.6 609.1h0M83.0 599.4h0M107.6 592.0h0M96.7 592.8h0M114.1 611.8h0M145.5 595.5h0M104.2 610.8h0M83.8 617.5h0M113.4 584.9h0M125.3 596.7h0M107.3 600.8h0M106.8 593.7h0M103.7 612.5h0M110.3 591.5h0M110.0 590.5h0M128.4 614.0h0M94.4 603.4h0M102.6 598.2h0M106.7 589.2h0M127.7 586.6h0M102.2 617.5h0M93.1 597.7h0M103.2 600.3h0M78.5 605.2h0M113.9 590.5h0M115.0 580.7h0M126.6 574.5h0M114.4 591.2h0M121.6 583.1h0M107.7 611.2h0M110.6 587.2h0M87.4 574.3h0M90.9 591.5h0M96.0 607.0h0M88.2 599.4h0M96.0 611.6h0M93.3 602.0h0M89.7 607.0h0M103.5 609.0h0M120.0 593.8h0M122.8 581.9h0M125.7 602.4h0M122.8 600.8h0M127.9 616.0h0M108.5 589.5h0M93.8 590.0h0M98.1 592.1h0M93.8 602.8h0M118.5 603.3h0M130.8 603.2h0M126.9 593.4h0M81.8 602.7h0M98.4 584.1h0M116.7 603.2h0M110.5 592.1h0M104.3 584.6h0M104.3 583.3h0M99.6 587.0h0M113.2 596.1h0M105.5 604.7h0M94.4 590.5h0M80.6 607.2h0M108.9 588.2h0M106.6 601.2h0M88.8 616.7h0M106.7 591.6h0M119.4 599.1h0M89.2 617.5h0M125.8 615.0h0M106.7 594.2h0M132.1 593.4h0M106.9 595.4h0M130.3 590.4h0M124.7 602.6h0M109.7 594.4h0M102.5 595.1h0M94.6 586.5h0M110.4 606.7h0M100.4 598.0h0M99.1 609.7h0M119.8 585.2h0M125.4 599.6h0M112.4 592.1h0M105.6 578.4h0M108.2 595.1h0M112.4 600.0h0M94.3 592.6h0M96.6 608.3h0M96.2 600.0h0M112.7 603.9h0M116.8 589.7h0M90.7 592.3h0M88.8 602.8h0M82.5 603.1h0M104.7 593.3h0M114.2 597.6h0M96.6 607.6h0M100.3 598.3h0M107.2 600.9h0M104.7 585.4h0M100.3 597.2h0M101.6 590.3h0M103.2 604.7h0M122.6 601.7h0M105.9 600.3h0M118.7 601.9h0M103.1 602.8h0M118.4 602.6h0M106.3 593.0h0M91.5 585.6h0M85.7 603.2h0M118.1 594.6h0M94.6 595.5h0M104.7 599.7h0M108.9 585.3h0M95.6 606.7h0M127.6 591.9h0M96.9 595.7h0M115.1 611.2h0M139.2 583.4h0M125.0 588.5h0M116.3 595.4h0M91.3 609.1h0M124.0 598.2h0M128.6 594.5h0M101.7 588.9h0M107.0 584.7h0M99.5 611.9h0M106.8 603.7h0M112.2 605.4h0M121.2 602.2h0M114.0 603.1h0M109.3 582.0h0M124.2 596.3h0M94.8 599.7h0M106.3 603.9h0M112.1 593.6h0M118.1 608.3h0M92.2 601.9h0M122.4 588.7h0M89.1 588.6h0M97.1 615.7h0M123.1 579.1h0M126.3 588.6h0M118.0 605.5h0M104.6 607.2h0M112.7 587.5h0M84.4 598.3h0M126.3 587.5h0M100.5 601.2h0M97.5 610.1h0M120.3 595.6h0M115.7 580.4h0M110.6 601.9h0M112.2 607.4h0M107.5 579.0h0M87.8 600.7h0M81.1 601.5h0M118.7 577.7h0M115.3 597.9h0M106.2 612.0h0M127.0 589.9h0M99.5 600.1h0M98.2 602.9h0M116.6 605.4h0M95.0 599.0h0M94.2 585.4h0M105.4 601.1h0M97.4 616.4h0M119.0 600.1h0M97.7 600.9h0M109.1 592.1h0M102.5 598.6h0M109.9 602.9h0M122.3 604.3h0M96.9 613.1h0M115.2 592.9h0M139.4 591.4h0M86.8 595.0h0M95.6 587.1h0M100.4 587.6h0M114.6 591.5h0M102.7 589.4h0M79.1 617.2h0M102.9 605.6h0M133.9 590.5h0M88.0 593.2h0M114.0 583.0h0M122.0 616.6h0M125.9 601.6h0M115.7 597.6h0M104.7 604.7h0M94.9 601.4h0M120.2 615.3h0M117.9 598.5h0M83.2 591.5h0M110.3 588.3h0M98.5 601.7h0M143.6 603.7h0M110.3 589.8h0M99.8 589.7h0M124.0 598.6h0M125.1 607.1h0M76.0 586.6h0M87.5 615.3h0M103.4 588.7h0M127.5 593.5h0M87.5 592.0h0M101.0 597.3h0M99.0 596.4h0M119.3 613.9h0M104.8 590.7h0M92.2 592.9h0M80.7 605.8h0M113.7 595.5h0M127.9 596.4h0M101.1 605.8h0M93.5 589.9h0M121.6 599.6h0M84.5 605.3h0M76.0 610.9h0M114.5 584.9h0M113.2 587.2h0M122.4 592.6h0M97.9 601.6h0M106.1 585.0h0M102.3 575.5h0M107.2 609.9h0M108.7 588.3h0M94.4 604.4h0M112.1 611.7h0M110.7 597.5h0M94.8 598.1h0M106.3 598.0h0M76.0 598.6h0M113.5 582.4h0M95.9 602.4h0M82.4 602.2h0M119.4 591.5h0M90.4 605.0h0M99.1 569.8h0M82.4 579.8h0M94.2 593.9h0M133.0 602.6h0M125.9 583.1h0M93.3 613.6h0M115.0 602.6h0M101.2 584.2h0M118.2 592.5h0M86.3 596.8h0M89.9 612.4h0M115.8 592.6h0M116.8 583.2h0M110.2 614.3h0M99.5 588.8h0M100.0 600.7h0M83.6 577.6h0M117.3 599.7h0M83.6 591.1h0M88.7 616.5h0M107.8 589.9h0M116.4 591.4h0M108.2 590.4h0M93.3 606.7h0M131.8 578.8h0M89.5 598.9h0M124.9 599.3h0M89.6 599.9h0M111.4 584.3h0M108.1 566.9h0M99.6 591.9h0M108.1 592.0h0M90.2 602.9h0M105.4 601.8h0M107.0 611.4h0M91.0 602.3h0M121.3 594.9h0M109.8 604.3h0M111.3 597.4h0M98.8 592.1h0M109.9 606.6h0M94.2 607.8h0M115.9 593.2h0M111.6 597.9h0M93.0 601.4h0M108.4 583.8h0M95.6 602.4h0M95.1 607.9h0M93.4 599.5h0M111.2 574.3h0M113.2 577.1h0M124.4 590.8h0M108.7 612.9h0M97.7 613.7h0M114.5 600.2h0M120.7 590.2h0M104.2 590.5h0M93.0 608.7h0M95.2 609.0h0M89.0 613.4h0M101.7 597.4h0M106.5 592.2h0M90.6 594.4h0M85.9 588.4h0M117.1 593.7h0M117.1 600.6h0M107.7 604.4h0M121.7 580.9h0M111.2 587.5h0M111.9 596.9h0M107.9 606.9h0M90.4 584.9h0M95.5 616.3h0M108.8 596.4h0M78.1 612.4h0M104.2 605.9h0M86.4 612.3h0M89.3 614.5h0M91.3 601.2h0M113.1 585.1h0M102.4 592.6h0M84.4 601.3h0M92.9 610.8h0M102.8 600.1h0M116.3 615.5h0M90.8 601.2h0M104.4 617.5h0M102.6 592.8h0M120.8 573.0h0M120.9 614.1h0M78.7 616.9h0M124.5 614.2h0M120.1 598.7h0M95.1 590.4h0M116.0 599.4h0M98.8 608.4h0M79.2 603.3h0M118.5 593.3h0M80.9 597.8h0M80.9 599.1h0M117.6 583.4h0M102.5 581.4h0M115.4 615.8h0M121.6 605.6h0M120.9 582.3h0M91.7 616.2h0M97.5 612.4h0M103.7 592.8h0M127.0 592.2h0M130.4 604.2h0M85.1 612.0h0M133.7 591.8h0M77.1 590.9h0M84.5 596.1h0M89.7 588.9h0M124.7 585.0h0M91.8 612.9h0M113.6 610.0h0M108.8 603.5h0M99.7 610.9h0M109.8 594.3h0M96.8 599.4h0M102.3 611.7h0M148.9 568.7h0M87.1 603.7h0M112.7 595.1h0M122.3 584.9h0M120.2 591.9h0M92.7 608.8h0M101.4 603.1h0M121.9 585.0h0M91.1 568.8h0M118.0 585.2h0M119.1 582.0h0M116.7 599.9h0M109.7 589.1h0M109.0 582.9h0M88.0 602.3h0M108.1 592.6h0M78.3 601.8h0M86.8 606.4h0M107.0 602.1h0M114.7 581.9h0M88.5 583.6h0M116.6 617.5h0M100.5 613.5h0M87.3 583.0h0M111.0 597.9h0M100.4 605.7h0M104.6 597.5h0M132.9 584.2h0M88.4 595.8h0M99.7 601.1h0M110.0 591.3h0M103.5 586.4h0M117.3 598.8h0M109.3 596.7h0M109.7 587.6h0M93.5 600.9h0M122.2 587.2h0M87.2 596.3h0M91.5 588.5h0M127.4 585.3h0M95.1 601.8h0M119.2 585.9h0M103.8 611.4h0M115.4 594.4h0M100.9 592.8h0M97.4 591.9h0M117.8 579.6h0M110.1 594.0h0M109.3 578.8h0M106.4 599.7h0M137.1 598.1h0M88.4 589.9h0M100.5 595.9h0M96.2 589.7h0M97.5 606.2h0M82.8 605.2h0M107.3 584.0h0M102.9 602.5h0M87.4 601.5h0M105.9 606.3h0M104.8 606.0h0M125.4 600.3h0M116.5 605.1h0M101.7 609.0h0M113.2 581.4h0M111.0 585.1h0M88.5 597.0h0M102.9 603.3h0M98.1 591.7h0M85.3 604.0h0M112.0 595.2h0M120.1 599.3h0M112.1 601.7h0M118.8 587.7h0M91.3 608.7h0M85.8 606.7h0M105.8 592.2h0M117.5 590.3h0M116.0 603.1h0M108.5 600.5h0M92.1 617.4h0M99.3 610.4h0M103.0 590.0h0M103.6 589.1h0M118.1 584.7h0M101.0 581.6h0M102.2 576.1h0M98.2 595.3h0M136.7 604.2h0M109.3 593.2h0M125.4 585.2h0M119.0 595.6h0M105.0 591.3h0M99.5 608.3h0M115.7 594.1h0M118.8 597.2h0M125.3 597.8h0M114.4 595.5h0M97.2 602.3h0M86.8 601.6h0M97.2 614.5h0M112.2 585.3h0M108.5 597.6h0M101.5 600.3h0M97.8 587.9h0M104.1 596.7h0M115.1 609.0h0M108.3 579.0h0M84.0 599.3h0M96.0 592.5h0M116.7 585.5h0M92.9 593.7h0M91.8 608.1h0M80.7 598.2h0M119.6 594.8h0M99.9 596.7h0M115.5 601.2h0M97.2 594.3h0M105.9 594.0h0M127.3 595.2h0M114.4 598.8h0M109.5 601.4h0M90.2 603.5h0M116.6 578.2h0M125.9 612.0h0M138.7 596.2h0M94.9 577.9h0M99.8 609.5h0M100.5 604.4h0M100.7 587.9h0M90.0 589.9h0M95.1 608.3h0M127.8 579.5h0M76.9 617.5h0M93.0 612.5h0M105.6 585.7h0M101.6 585.2h0M124.5 593.4h0M125.6 604.0h0M116.3 597.8h0M92.9 591.5h0M86.7 608.1h0M121.5 568.7h0M117.6 580.2h0M108.2 604.6h0M127.3 585.8h0M86.6 604.5h0M97.8 592.7h0M107.1 599.3h0M110.6 594.3h0M95.2 601.1h0M87.3 599.2h0M125.6 587.5h0M123.8 578.8h0M80.5 612.1h0M106.1 604.9h0M86.4 603.6h0M133.6 598.7h0M88.6 603.8h0M93.7 600.0h0M121.8 589.4h0M78.7 610.5h0M106.6 608.9h0M100.5 597.7h0M101.0 609.6h0M88.1 614.9h0M104.6 602.8h0M93.8 594.6h0M98.7 595.3h0M120.5 593.9h0M109.1 590.2h0M110.1 599.2h0M99.3 583.4h0M116.3 582.6h0M79.7 586.4h0M104.2 599.4h0M98.7 602.3h0M76.6 602.7h0M111.5 591.3h0M106.8 576.2h0M97.8 597.6h0M108.5 591.3h0M110.2 606.2h0M83.4 597.8h0M88.1 593.9h0M109.7 604.0h0M89.8 590.7h0M76.2 603.8h0M104.7 600.4h0M112.6 593.7h0M136.9 590.6h0M118.7 575.0h0M120.2 595.0h0M110.8 605.4h0M91.3 596.2h0M96.0 603.1h0M93.1 615.8h0M104.0 601.8h0M102.8 607.8h0M108.2 595.4h0M114.4 581.7h0M88.8 587.7h0M141.1 580.5h0M119.5 596.9h0M114.2 581.3h0M115.5 575.4h0M117.5 608.2h0M96.0 596.6h0M105.5 591.1h0M114.4 580.3h0M103.5 616.4h0M106.7 592.5h0M101.2 613.9h0M122.6 603.2h0M95.0 610.6h0M81.9 612.6h0M103.9 613.3h0M123.6 597.6h0M91.5 601.4h0M107.5 588.8h0M107.9 588.7h0M120.6 589.7h0M112.7 594.2h0M116.8 609.2h0M100.0 607.4h0M105.8 599.5h0M106.9 606.2h0M102.3 607.9h0M96.2 591.2h0M127.2 601.4h0M104.8 597.4h0M111.1 593.8h0M93.6 604.6h0M94.6 594.8h0M101.2 600.0h0M103.7 601.1h0M104.5 596.8h0M95.3 600.9h0M147.6 572.3h0M91.2 590.4h0M117.6 582.3h0M92.0 576.1h0M86.6 576.2h0M134.3 606.3h0M126.0 583.5h0M135.9 581.6h0M98.3 585.0h0M107.8 574.2h0M97.4 580.5h0M109.6 606.0h0M121.8 591.0h0M110.9 582.6h0M127.7 593.0h0M135.9 582.7h0M101.2 590.4h0M128.1 588.0h0M129.5 590.9h0M118.7 573.5h0M122.7 606.9h0M134.6 596.9h0M90.3 617.5h0M113.4 587.6h0M129.7 598.5h0M112.0 583.0h0M79.1 608.1h0M89.6 576.3h0M98.8 580.7h0M138.8 586.5h0M113.5 596.5h0M105.9 609.0h0M116.1 586.6h0M117.9 610.0h0M87.3 564.1h0M98.8 589.3h0M136.7 601.0h0M106.9 570.0h0M87.0 587.7h0M103.2 606.5h0M90.0 587.3h0M90.7 604.4h0M109.1 600.0h0M87.0 613.9h0M106.3 596.3h0M123.4 578.6h0M93.4 577.1h0M94.6 585.5h0M78.4 607.2h0M85.5 610.9h0M76.8 616.1h0M105.4 572.1h0M99.9 600.8h0M105.0 603.4h0M93.5 597.7h0M120.3 594.5h0M93.6 588.4h0M97.6 600.6h0M134.0 593.8h0M92.4 589.7h0M92.5 597.1h0M83.1 607.2h0M108.1 605.2h0M119.3 589.6h0M89.0 609.2h0M113.1 591.2h0M111.7 600.8h0M128.8 590.8h0M127.9 594.8h0M78.9 591.2h0M140.6 593.9h0M93.0 606.0h0M113.7 572.1h0M76.0 607.9h0M98.8 613.2h0M99.3 581.3h0M87.2 582.5h0M107.1 581.8h0M99.1 614.1h0M97.3 592.8h0M105.5 606.8h0M117.2 592.1h0M108.3 567.2h0M124.8 597.9h0M102.1 581.3h0M107.4 603.8h0M115.8 577.3h0M85.8 600.0h0M112.5 564.6h0M95.2 611.7h0M126.0 603.0h0M127.1 581.6h0M110.0 588.8h0M143.2 582.5h0M87.8 603.0h0M88.1 610.2h0M105.7 611.5h0M137.7 592.5h0M130.2 586.6h0M98.5 590.6h0M144.6 593.8h0M97.6 611.6h0M96.2 587.2h0M105.0 582.4h0M99.8 589.8h0M129.6 578.3h0M86.2 602.8h0M91.5 609.9h0M103.6 606.3h0M105.4 576.9h0M139.5 593.3h0M105.0 609.8h0M108.2 609.6h0M125.4 576.2h0M96.5 603.0h0M123.3 611.0h0M90.3 599.8h0M121.9 584.4h0M116.0 601.9h0M94.1 600.1h0M108.7 598.9h0M101.9 569.2h0M115.2 578.0h0M124.7 557.7h0M123.0 590.5h0M93.7 594.7h0M142.2 567.2h0M119.5 574.8h0M152.7 572.6h0M84.0 611.5h0M119.8 612.3h0M125.7 600.1h0M100.5 582.2h0M89.0 594.0h0M113.3 585.6h0M120.1 590.2h0M132.4 577.3h0M98.4 600.8h0M120.1 580.9h0M98.1 615.3h0M101.6 609.3h0M87.9 611.5h0M102.2 604.6h0M105.7 571.0h0M92.2 587.0h0M121.0 595.7h0M124.5 608.3h0M112.2 603.2h0M124.8 602.1h0M115.1 579.7h0M184.7 580.9h0M175.2 586.7h0M182.1 579.1h0M189.5 575.1h0M185.3 588.8h0M183.6 583.3h0M181.9 577.9h0M185.9 579.6h0M184.9 576.5h0M182.9 575.4h0M185.3 588.7h0M183.7 571.5h0M183.1 592.0h0M181.1 579.6h0M178.8 586.2h0M181.8 577.0h0M178.5 583.8h0M181.2 590.1h0M186.5 585.0h0M179.7 588.2h0M185.9 587.1h0M183.8 579.8h0M176.0 587.7h0M185.1 589.0h0M182.7 574.1h0M196.6 571.0h0M188.7 582.2h0M192.6 586.8h0M184.9 583.5h0M177.4 580.8h0M180.7 585.1h0M189.3 562.1h0M188.9 587.9h0M194.6 576.1h0M179.6 568.6h0M176.1 577.8h0M192.9 582.7h0M187.9 579.3h0M177.8 588.1h0M193.3 578.2h0M186.1 581.8h0M181.9 580.8h0M187.6 577.8h0M185.0 579.0h0M190.1 570.3h0M183.0 583.2h0M191.6 581.7h0M184.1 585.8h0M170.6 584.7h0M189.5 575.7h0M176.9 584.5h0M173.0 577.3h0M191.3 582.3h0M198.9 579.9h0M176.2 579.6h0M182.4 577.0h0M180.8 582.0h0M179.8 566.6h0M182.7 582.2h0M192.2 586.3h0M181.5 593.3h0M185.8 568.4h0M186.8 577.6h0M180.6 583.2h0M179.3 594.1h0M183.7 586.9h0M176.4 576.6h0M187.0 572.3h0M185.8 568.9h0M188.5 580.6h0M179.7 574.6h0M189.6 587.7h0M182.8 584.0h0M178.9 582.8h0M176.9 571.8h0M189.9 585.3h0M192.1 574.8h0M187.3 584.5h0M183.6 583.2h0M191.8 577.1h0M178.7 575.5h0M190.8 570.0h0M188.3 588.8h0M178.4 581.8h0M185.1 592.0h0M185.0 584.6h0M181.7 588.3h0M180.3 580.4h0M182.6 596.9h0M189.0 583.4h0M173.1 596.1h0M175.5 587.7h0M179.3 587.1h0M183.3 584.2h0M157.2 586.0h0M169.1 574.6h0M174.2 597.5h0M158.2 563.5h0M169.4 617.5h0M158.4 592.2h0M171.6 579.1h0M152.2 600.2h0M189.7 576.0h0M173.2 589.2h0M150.3 606.5h0M153.3 602.3h0M158.1 580.5h0M172.3 590.9h0M163.3 579.3h0M179.2 569.2h0M171.8 586.9h0M167.0 600.5h0M176.4 587.6h0M157.3 583.9h0M167.3 597.2h0M180.9 592.0h0M141.6 609.6h0M168.6 564.8h0M146.7 596.6h0M170.5 576.1h0M180.2 587.6h0M157.1 592.6h0M176.4 592.2h0M155.8 570.6h0M165.5 597.1h0M177.3 561.6h0M176.4 591.0h0M197.4 593.7h0M180.2 592.5h0M142.6 597.4h0M162.8 583.5h0M160.5 585.5h0M189.6 597.0h0M176.1 589.0h0M165.3 585.5h0M171.4 616.2h0M187.7 603.8h0M183.6 588.4h0M176.6 581.3h0M176.3 575.3h0M165.3 591.3h0M163.8 585.8h0M183.9 583.9h0M184.7 591.5h0M177.7 577.3h0M176.9 605.8h0M172.8 601.6h0M176.8 587.8h0M180.3 588.0h0M160.9 589.0h0M142.7 565.4h0M184.7 566.2h0M181.1 595.4h0M188.5 586.3h0M169.5 610.5h0M169.0 589.5h0M196.2 577.4h0M169.6 584.1h0M176.4 579.9h0M201.0 565.7h0M185.8 592.6h0M166.0 594.4h0M161.6 585.7h0M179.9 569.7h0M160.2 582.7h0M189.8 573.7h0M185.2 567.4h0M160.0 601.5h0M204.1 561.6h0M160.2 584.1h0M162.9 587.6h0M155.3 568.7h0M161.3 573.2h0M163.0 595.4h0M170.0 602.0h0M128.2 598.0h0M166.0 600.7h0M194.0 588.4h0M174.5 601.1h0M188.2 598.3h0M168.2 585.3h0M169.9 580.6h0M157.5 569.4h0M152.3 597.1h0M161.6 590.0h0M155.2 583.1h0M172.5 582.7h0M182.1 596.2h0M167.0 588.1h0M162.8 580.6h0M165.0 568.0h0M187.7 592.3h0M147.6 581.5h0M164.2 591.8h0M144.8 581.5h0M177.1 582.4h0M173.9 581.3h0M162.5 573.5h0M181.4 584.3h0M181.8 601.0h0M158.3 594.8h0M164.8 593.2h0M84.8 519.6h0M98.3 520.2h0M103.6 525.3h0M113.3 520.6h0M114.7 520.2h0M135.3 518.5h0M135.3 523.9h0M131.8 530.1h0M134.6 545.8h0M135.8 544.9h0M181.0 498.3h0M180.1 503.0h0M191.1 500.5h0M192.2 501.8h0M190.9 504.5h0M177.7 509.2h0M164.9 513.1h0M165.6 512.6h0M164.2 517.6h0M199.0 512.6h0M197.6 518.9h0M197.6 529.0h0M182.4 543.6h0M176.3 549.9h0M146.0 503.0h0M146.0 548.0h0" stroke="#000" stroke-width="2.3" stroke-linecap="square" fill="none"/>
<rect x="73.80" y="493.80" width="157.40" height="125.80" fill="none" stroke="#000" stroke-width="2.5"/>
<line x1="143.30" y1="493.80" x2="143.30" y2="619.60" stroke="#000" stroke-width="2.3"/>
<line x1="73.80" y1="556.50" x2="231.20" y2="556.50" stroke="#000" stroke-width="2.3"/>
<text x="69.80" y="642.40" font-size="13" font-weight="normal" font-family="'Liberation Sans', sans-serif" text-anchor="middle" textLength="14.2" lengthAdjust="spacingAndGlyphs" stroke="#000" stroke-width="0.45">10</text>
<text x="80.80" y="634.90" font-size="12" font-weight="normal" font-family="'Liberation Sans', sans-serif" text-anchor="middle" stroke="#000" stroke-width="0.45">0</text>
<text x="109.15" y="642.40" font-size="13" font-weight="normal" font-family="'Liberation Sans', sans-serif" text-anchor="middle" textLength="14.2" lengthAdjust="spacingAndGlyphs" stroke="#000" stroke-width="0.45">10</text>
<text x="120.15" y="634.90" font-size="12" font-weight="normal" font-family="'Liberation Sans', sans-serif" text-anchor="middle" stroke="#000" stroke-width="0.45">1</text>
<text x="148.50" y="642.40" font-size="13" font-weight="normal" font-family="'Liberation Sans', sans-serif" text-anchor="middle" textLength="14.2" lengthAdjust="spacingAndGlyphs" stroke="#000" stroke-width="0.45">10</text>
<text x="159.50" y="634.90" font-size="12" font-weight="normal" font-family="'Liberation Sans', sans-serif" text-anchor="middle" stroke="#000" stroke-width="0.45">2</text>
<text x="187.85" y="642.40" font-size="13" font-weight="normal" font-family="'Liberation Sans', sans-serif" text-anchor="middle" textLength="14.2" lengthAdjust="spacingAndGlyphs" stroke="#000" stroke-width="0.45">10</text>
<text x="198.85" y="634.90" font-size="12" font-weight="normal" font-family="'Liberation Sans', sans-serif" text-anchor="middle" stroke="#000" stroke-width="0.45">3</text>
<text x="227.20" y="642.40" font-size="13" font-weight="normal" font-family="'Liberation Sans', sans-serif" text-anchor="middle" textLength="14.2" lengthAdjust="spacingAndGlyphs" stroke="#000" stroke-width="0.45">10</text>
<text x="238.20" y="634.90" font-size="12" font-weight="normal" font-family="'Liberation Sans', sans-serif" text-anchor="middle" stroke="#000" stroke-width="0.45">4</text>
<text x="61.30" y="629.50" font-size="13" font-weight="normal" font-family="'Liberation Sans', sans-serif" textLength="14.2" lengthAdjust="spacingAndGlyphs" transform="rotate(-90 61.30 629.50)" stroke="#000" stroke-width="0.45">10</text>
<text x="53.30" y="615.00" font-size="12" font-weight="normal" font-family="'Liberation Sans', sans-serif" transform="rotate(-90 53.30 615.00)" stroke="#000" stroke-width="0.45">0</text>
<text x="61.30" y="598.05" font-size="13" font-weight="normal" font-family="'Liberation Sans', sans-serif" textLength="14.2" lengthAdjust="spacingAndGlyphs" transform="rotate(-90 61.30 598.05)" stroke="#000" stroke-width="0.45">10</text>
<text x="53.30" y="583.55" font-size="12" font-weight="normal" font-family="'Liberation Sans', sans-serif" transform="rotate(-90 53.30 583.55)" stroke="#000" stroke-width="0.45">1</text>
<text x="61.30" y="566.60" font-size="13" font-weight="normal" font-family="'Liberation Sans', sans-serif" textLength="14.2" lengthAdjust="spacingAndGlyphs" transform="rotate(-90 61.30 566.60)" stroke="#000" stroke-width="0.45">10</text>
<text x="53.30" y="552.10" font-size="12" font-weight="normal" font-family="'Liberation Sans', sans-serif" transform="rotate(-90 53.30 552.10)" stroke="#000" stroke-width="0.45">2</text>
<text x="61.30" y="535.15" font-size="13" font-weight="normal" font-family="'Liberation Sans', sans-serif" textLength="14.2" lengthAdjust="spacingAndGlyphs" transform="rotate(-90 61.30 535.15)" stroke="#000" stroke-width="0.45">10</text>
<text x="53.30" y="520.65" font-size="12" font-weight="normal" font-family="'Liberation Sans', sans-serif" transform="rotate(-90 53.30 520.65)" stroke="#000" stroke-width="0.45">3</text>
<text x="61.30" y="503.70" font-size="13" font-weight="normal" font-family="'Liberation Sans', sans-serif" textLength="14.2" lengthAdjust="spacingAndGlyphs" transform="rotate(-90 61.30 503.70)" stroke="#000" stroke-width="0.45">10</text>
<text x="53.30" y="489.20" font-size="12" font-weight="normal" font-family="'Liberation Sans', sans-serif" transform="rotate(-90 53.30 489.20)" stroke="#000" stroke-width="0.45">4</text>
<text x="132.50" y="656.20" font-size="13.5" font-weight="bold" font-family="'Liberation Sans', sans-serif" textLength="37.5" lengthAdjust="spacingAndGlyphs" >FL1-H</text>
<text x="42.00" y="573.50" font-size="13.5" font-weight="bold" font-family="'Liberation Sans', sans-serif" textLength="37.5" lengthAdjust="spacingAndGlyphs" transform="rotate(-90 42.00 573.50)" >FL3-H</text>
<text x="127.90" y="481.20" font-size="15.5" font-weight="bold" font-family="'Liberation Sans', sans-serif" textLength="46.1" lengthAdjust="spacingAndGlyphs" >spont.</text>
<text x="197.20" y="614.30" font-size="13.5" font-weight="bold" font-family="'Liberation Serif', serif" textLength="22.4" lengthAdjust="spacingAndGlyphs" stroke="#000" stroke-width="0.4">9%</text>
<path d="M293.00 620.30v8 M293.00 620.30h-8 M304.91 620.30v4.5 M293.00 610.91h-4.5 M311.87 620.30v4.5 M293.00 605.41h-4.5 M316.81 620.30v4.5 M293.00 601.52h-4.5 M320.64 620.30v4.5 M293.00 598.49h-4.5 M323.78 620.30v4.5 M293.00 596.02h-4.5 M326.42 620.30v4.5 M293.00 593.93h-4.5 M328.72 620.30v4.5 M293.00 592.12h-4.5 M330.74 620.30v4.5 M293.00 590.53h-4.5 M332.55 620.30v8 M293.00 589.10h-8 M344.46 620.30v4.5 M293.00 579.71h-4.5 M351.42 620.30v4.5 M293.00 574.21h-4.5 M356.36 620.30v4.5 M293.00 570.32h-4.5 M360.19 620.30v4.5 M293.00 567.29h-4.5 M363.33 620.30v4.5 M293.00 564.82h-4.5 M365.97 620.30v4.5 M293.00 562.73h-4.5 M368.27 620.30v4.5 M293.00 560.92h-4.5 M370.29 620.30v4.5 M293.00 559.33h-4.5 M372.10 620.30v8 M293.00 557.90h-8 M384.01 620.30v4.5 M293.00 548.51h-4.5 M390.97 620.30v4.5 M293.00 543.01h-4.5 M395.91 620.30v4.5 M293.00 539.12h-4.5 M399.74 620.30v4.5 M293.00 536.09h-4.5 M402.88 620.30v4.5 M293.00 533.62h-4.5 M405.52 620.30v4.5 M293.00 531.53h-4.5 M407.82 620.30v4.5 M293.00 529.72h-4.5 M409.84 620.30v4.5 M293.00 528.13h-4.5 M411.65 620.30v8 M293.00 526.70h-8 M423.56 620.30v4.5 M293.00 517.31h-4.5 M430.52 620.30v4.5 M293.00 511.81h-4.5 M435.46 620.30v4.5 M293.00 507.92h-4.5 M439.29 620.30v4.5 M293.00 504.89h-4.5 M442.43 620.30v4.5 M293.00 502.42h-4.5 M445.07 620.30v4.5 M293.00 500.33h-4.5 M447.37 620.30v4.5 M293.00 498.52h-4.5 M449.39 620.30v4.5 M293.00 496.93h-4.5 M451.20 620.30v8 M293.00 495.50h-8" stroke="#000" stroke-width="1.4" fill="none"/>
<path d="M326.3 586.0h0M340.1 586.5h0M347.9 609.5h0M326.4 593.1h0M324.5 594.6h0M338.2 597.5h0M327.6 594.5h0M335.5 584.9h0M343.8 595.8h0M332.9 592.7h0M338.4 613.1h0M302.5 612.7h0M338.0 589.9h0M325.3 604.3h0M317.2 592.3h0M325.5 603.4h0M314.6 577.2h0M314.7 591.5h0M305.6 604.9h0M320.3 601.3h0M312.7 602.4h0M318.6 602.1h0M335.5 606.9h0M327.6 614.9h0M313.5 595.3h0M331.8 608.3h0M337.5 601.8h0M327.3 593.7h0M327.1 597.8h0M325.8 612.7h0M316.3 600.6h0M337.9 592.3h0M331.8 594.2h0M325.9 593.2h0M326.3 579.6h0M325.2 582.8h0M342.5 591.9h0M323.6 598.6h0M308.7 617.7h0M328.1 598.1h0M336.1 604.4h0M333.7 592.3h0M322.5 596.7h0M309.4 614.6h0M348.5 584.8h0M316.1 599.1h0M328.0 615.2h0M324.8 589.3h0M319.5 583.4h0M321.8 593.4h0M314.5 603.7h0M316.6 601.8h0M320.8 601.6h0M324.8 614.9h0M351.8 591.3h0M315.5 605.9h0M337.9 587.1h0M326.7 590.6h0M321.7 601.1h0M310.9 599.1h0M325.2 597.5h0M314.8 588.7h0M328.7 600.1h0M329.5 603.3h0M313.0 596.6h0M337.9 604.0h0M324.1 609.2h0M326.3 565.9h0M329.1 600.3h0M322.2 607.9h0M337.3 604.8h0M343.6 588.4h0M328.5 584.5h0M336.6 588.3h0M347.0 595.6h0M334.4 605.9h0M324.9 595.7h0M340.0 600.4h0M328.8 602.7h0M325.4 589.2h0M312.1 605.3h0M328.9 600.8h0M318.3 600.2h0M329.9 600.5h0M304.8 596.3h0M314.5 607.9h0M342.5 587.7h0M345.5 604.3h0M330.8 601.7h0M329.7 596.0h0M302.0 596.1h0M331.5 600.5h0M319.2 591.3h0M303.1 595.0h0M315.3 585.7h0M314.6 596.8h0M333.1 602.9h0M328.0 592.0h0M351.5 590.9h0M341.9 584.0h0M327.0 593.3h0M332.1 592.3h0M313.3 610.7h0M335.6 600.7h0M323.0 592.3h0M328.5 603.8h0M330.4 604.9h0M327.4 586.1h0M322.5 601.1h0M334.8 599.8h0M335.2 596.3h0M300.1 592.1h0M320.5 603.2h0M325.0 591.0h0M320.8 598.6h0M328.7 598.7h0M336.1 594.5h0M325.3 599.6h0M331.2 592.1h0M330.5 595.1h0M349.6 595.1h0M339.3 615.7h0M317.0 618.1h0M342.1 581.1h0M320.0 603.2h0M307.9 601.2h0M338.3 608.2h0M308.9 607.3h0M332.1 583.0h0M349.7 591.6h0M333.7 591.3h0M327.4 602.8h0M316.1 617.6h0M323.5 585.4h0M336.1 587.7h0M301.5 601.5h0M314.6 598.1h0M339.3 601.4h0M321.0 602.7h0M337.9 589.3h0M332.6 590.0h0M316.1 607.3h0M340.8 591.6h0M322.2 605.8h0M325.4 600.5h0M331.6 597.5h0M319.8 592.7h0M322.8 593.3h0M331.3 603.5h0M323.8 607.7h0M325.8 602.5h0M333.0 594.9h0M345.7 581.0h0M325.7 596.7h0M320.2 588.2h0M358.4 586.9h0M337.3 608.7h0M306.5 582.9h0M321.8 588.1h0M309.4 602.9h0M335.3 587.1h0M314.6 596.7h0M322.0 607.5h0M345.2 597.9h0M320.3 609.3h0M327.4 602.7h0M331.3 587.9h0M338.3 603.1h0M338.8 590.9h0M343.6 593.5h0M332.2 596.1h0M308.7 587.9h0M327.2 601.2h0M325.0 583.4h0M346.1 573.7h0M330.4 595.3h0M322.9 603.5h0M317.1 598.0h0M321.4 607.3h0M319.2 611.9h0M326.5 582.3h0M320.3 606.8h0M326.8 596.3h0M337.7 602.3h0M314.2 595.7h0M318.2 593.8h0M312.6 581.6h0M348.5 592.3h0M344.6 578.3h0M332.0 589.0h0M327.1 612.1h0M316.3 608.8h0M337.4 596.6h0M327.6 617.1h0M331.1 604.2h0M327.6 597.0h0M295.7 593.9h0M308.7 612.3h0M321.0 610.9h0M315.8 603.0h0M328.5 588.9h0M322.8 601.7h0M314.7 586.1h0M333.5 593.1h0M314.4 604.3h0M312.9 598.7h0M344.8 590.4h0M342.5 593.6h0M329.5 607.4h0M339.4 590.3h0M319.8 591.9h0M324.3 593.2h0M331.3 591.1h0M331.4 599.4h0M333.5 571.8h0M313.2 597.1h0M337.8 590.4h0M315.5 600.6h0M326.8 604.8h0M355.7 594.9h0M338.4 594.2h0M322.2 590.5h0M331.3 600.0h0M319.7 601.0h0M320.4 592.9h0M318.8 596.0h0M324.0 598.5h0M327.8 589.8h0M334.7 584.7h0M351.4 603.1h0M333.1 590.7h0M330.9 592.3h0M315.7 610.9h0M341.9 601.0h0M329.5 597.2h0M345.1 586.4h0M329.2 586.0h0M346.4 590.6h0M322.1 579.3h0M324.3 595.3h0M326.0 598.4h0M331.4 583.5h0M330.0 612.6h0M306.4 591.7h0M315.1 593.0h0M333.1 605.7h0M334.1 590.5h0M333.7 597.8h0M329.0 610.1h0M305.3 600.0h0M348.0 595.1h0M332.6 604.0h0M322.2 592.3h0M331.8 597.5h0M323.3 589.0h0M329.4 594.4h0M319.9 587.0h0M351.5 588.3h0M326.1 599.4h0M333.8 595.8h0M322.1 600.1h0M338.3 592.5h0M345.1 582.9h0M332.3 584.9h0M321.5 603.8h0M332.9 601.0h0M328.5 594.3h0M339.4 594.2h0M333.3 616.0h0M334.0 611.9h0M328.3 598.9h0M327.5 591.4h0M343.5 596.4h0M329.5 594.2h0M335.8 590.6h0M324.4 610.8h0M316.1 606.2h0M326.5 598.1h0M321.2 603.8h0M304.2 605.4h0M317.8 576.1h0M311.2 606.0h0M323.9 604.7h0M322.4 593.8h0M340.2 599.8h0M328.0 589.2h0M320.4 592.0h0M321.9 573.8h0M322.1 618.1h0M321.5 603.7h0M331.6 598.4h0M320.6 589.4h0M329.5 588.0h0M337.3 594.4h0M321.3 602.7h0M326.7 599.1h0M344.6 587.4h0M332.4 607.6h0M323.4 608.5h0M333.4 595.0h0M318.3 607.3h0M336.0 587.0h0M317.1 594.7h0M319.6 585.3h0M325.0 599.3h0M335.3 586.4h0M333.3 610.4h0M320.0 607.3h0M326.3 606.8h0M322.7 606.7h0M335.1 584.8h0M329.7 579.0h0M319.2 595.7h0M335.1 601.5h0M312.6 599.9h0M322.5 604.4h0M306.4 596.1h0M336.2 593.8h0M324.7 577.7h0M332.6 595.2h0M354.6 585.2h0M329.4 612.3h0M328.9 599.8h0M320.8 608.5h0M329.1 580.9h0M321.7 584.6h0M332.2 583.8h0M331.5 591.9h0M329.0 593.3h0M323.8 587.6h0M324.4 598.1h0M325.4 583.4h0M324.2 594.4h0M331.1 598.2h0M318.3 595.2h0M322.8 588.2h0M329.5 601.6h0M343.1 589.2h0M328.7 593.6h0M323.4 597.0h0M322.8 594.7h0M340.8 595.9h0M318.7 581.7h0M319.1 598.0h0M323.4 583.6h0M321.5 616.8h0M329.2 601.9h0M322.8 600.7h0M305.8 607.1h0M329.7 591.1h0M334.3 592.1h0M320.4 593.3h0M345.2 602.2h0M328.4 578.0h0M329.4 602.2h0M312.6 589.7h0M351.3 592.2h0M347.8 589.7h0M339.9 585.0h0M344.5 584.1h0M319.4 582.2h0M320.8 605.1h0M326.9 595.1h0M314.9 596.6h0M328.6 608.2h0M335.5 587.6h0M324.2 587.2h0M342.0 592.2h0M322.2 598.2h0M318.0 601.4h0M315.1 583.2h0M336.0 595.6h0M312.4 609.5h0M333.4 613.0h0M333.4 602.9h0M313.7 588.1h0M333.6 596.8h0M328.3 593.2h0M346.5 613.4h0M332.4 581.8h0M326.3 597.2h0M333.5 612.7h0M341.6 579.3h0M319.2 596.4h0M320.0 583.4h0M336.8 596.7h0M349.4 596.5h0M314.4 595.6h0M344.5 586.3h0M333.5 605.3h0M336.9 580.6h0M324.3 590.2h0M322.4 602.5h0M351.8 595.9h0M315.0 587.4h0M329.6 597.4h0M344.1 581.6h0M327.3 614.2h0M336.3 591.4h0M320.4 604.2h0M334.2 611.2h0M321.9 603.0h0M335.5 588.9h0M324.7 596.2h0M330.7 600.0h0M322.9 605.4h0M343.5 589.8h0M331.1 584.4h0M326.4 615.6h0M325.7 590.4h0M318.6 596.4h0M343.5 601.6h0M319.0 592.5h0M337.2 594.2h0M337.1 597.9h0M326.5 595.3h0M314.0 596.3h0M325.4 598.4h0M321.3 596.8h0M336.7 604.9h0M320.5 605.0h0M321.1 587.0h0M309.0 600.5h0M320.0 602.0h0M339.3 585.2h0M325.4 601.3h0M335.7 593.7h0M296.1 602.0h0M319.6 597.7h0M324.8 596.9h0M311.9 608.9h0M335.7 595.0h0M311.3 602.3h0M329.6 606.0h0M327.3 582.0h0M316.3 600.2h0M327.5 604.0h0M317.6 587.5h0M340.5 600.9h0M322.8 591.8h0M315.6 601.9h0M337.1 590.7h0M344.2 592.3h0M330.2 602.6h0M320.4 614.4h0M309.9 596.9h0M319.2 583.6h0M334.8 598.5h0M332.0 600.9h0M307.1 599.6h0M328.3 601.9h0M308.2 594.7h0M332.3 593.0h0M343.3 600.4h0M323.1 595.8h0M336.6 608.0h0M323.7 587.7h0M334.2 587.2h0M335.6 599.0h0M339.2 583.7h0M295.1 605.6h0M331.6 594.0h0M295.4 614.2h0M324.2 607.2h0M334.2 599.4h0M328.3 597.4h0M318.3 595.6h0M316.7 602.3h0M326.6 575.0h0M333.6 596.0h0M329.8 588.3h0M343.1 599.9h0M321.4 577.0h0M332.4 590.5h0M327.5 589.7h0M335.3 602.9h0M310.7 592.6h0M323.7 604.6h0M347.2 595.1h0M333.7 603.6h0M328.0 607.6h0M338.5 599.7h0M326.0 595.9h0M336.5 594.3h0M323.8 615.5h0M343.8 594.8h0M329.9 595.5h0M326.8 610.6h0M321.0 618.1h0M348.8 602.8h0M351.7 598.2h0M326.8 608.6h0M319.4 578.6h0M339.5 598.8h0M326.5 603.7h0M337.2 606.7h0M326.0 587.4h0M317.4 605.7h0M343.6 578.7h0M329.1 618.1h0M325.5 593.1h0M330.7 577.7h0M339.9 599.0h0M324.5 593.6h0M351.4 597.4h0M345.1 586.0h0M324.1 598.9h0M333.8 588.4h0M316.3 618.1h0M317.1 605.2h0M352.9 582.2h0M330.4 597.5h0M336.8 584.8h0M319.8 590.2h0M332.7 599.5h0M326.5 607.9h0M324.6 596.7h0M338.9 600.5h0M333.6 606.7h0M312.5 608.1h0M319.6 589.1h0M325.3 587.0h0M327.6 603.3h0M326.7 591.8h0M312.4 595.7h0M328.9 587.0h0M323.2 578.4h0M303.5 604.9h0M302.4 598.8h0M310.3 609.8h0M317.1 593.8h0M312.0 601.3h0M315.6 609.5h0M311.6 596.7h0M320.6 597.7h0M331.6 593.1h0M330.8 604.5h0M308.4 595.5h0M335.2 606.1h0M341.1 580.4h0M318.7 592.2h0M345.1 604.5h0M327.1 608.0h0M314.4 604.1h0M342.2 575.6h0M321.5 589.2h0M346.7 589.5h0M342.1 604.5h0M323.6 604.1h0M319.7 603.5h0M326.5 587.9h0M328.9 589.3h0M335.9 592.3h0M300.3 604.1h0M330.5 603.9h0M323.2 604.6h0M328.8 594.0h0M334.1 610.3h0M310.4 601.8h0M312.6 598.4h0M325.0 591.3h0M325.6 600.9h0M330.1 601.1h0M348.1 596.5h0M321.9 603.7h0M328.9 577.5h0M322.6 590.4h0M329.4 588.9h0M330.6 601.4h0M317.7 586.7h0M331.5 601.0h0M330.1 591.8h0M336.0 599.7h0M311.2 591.7h0M334.3 580.5h0M320.5 591.3h0M324.8 608.2h0M322.7 591.0h0M315.1 598.0h0M330.2 600.1h0M346.6 584.9h0M328.1 593.8h0M339.1 603.7h0M317.9 583.7h0M318.7 603.2h0M325.7 604.0h0M320.0 580.2h0M318.3 607.1h0M333.4 582.8h0M331.2 600.3h0M327.3 597.4h0M324.0 606.6h0M321.7 608.6h0M325.4 595.8h0M338.7 577.5h0M337.1 595.1h0M349.3 602.0h0M323.0 595.7h0M341.6 593.3h0M315.6 617.8h0M341.5 591.0h0M335.1 584.7h0M341.3 597.6h0M308.5 607.7h0M344.2 588.4h0M325.7 575.0h0M311.3 606.2h0M319.3 594.0h0M340.2 612.8h0M345.0 582.4h0M333.9 605.0h0M311.3 607.0h0M320.0 604.6h0M338.6 601.6h0M310.8 611.8h0M322.5 604.1h0M333.2 583.6h0M313.0 604.9h0M321.0 584.7h0M304.4 613.8h0M335.6 593.8h0M321.7 591.3h0M322.4 595.6h0M320.2 600.6h0M342.6 599.1h0M325.7 597.4h0M317.1 611.0h0M337.3 582.5h0M332.9 593.7h0M326.1 574.2h0M317.0 600.7h0M326.9 598.3h0M332.1 597.2h0M325.1 606.3h0M336.5 606.5h0M318.1 572.6h0M334.4 590.5h0M322.9 602.6h0M314.1 588.6h0M335.7 583.6h0M334.9 611.0h0M319.0 609.2h0M319.1 614.0h0M339.3 593.1h0M308.7 602.7h0M318.5 594.6h0M331.2 606.5h0M321.7 600.0h0M337.2 596.9h0M323.3 597.8h0M333.3 589.4h0M328.2 582.5h0M331.5 607.4h0M328.0 600.6h0M315.1 604.1h0M340.2 610.9h0M322.7 597.3h0M316.3 609.8h0M343.8 607.2h0M342.9 610.5h0M305.8 615.6h0M331.4 594.8h0M328.0 603.9h0M319.8 581.1h0M339.5 570.1h0M317.2 588.1h0M328.8 598.2h0M322.6 592.3h0M336.6 598.0h0M316.6 612.9h0M329.8 587.1h0M328.9 583.7h0M306.3 606.2h0M359.9 587.7h0M323.8 590.2h0M304.3 604.0h0M321.8 602.6h0M326.6 593.9h0M333.1 581.5h0M328.3 591.2h0M329.1 611.1h0M331.2 605.1h0M331.2 602.5h0M329.2 594.3h0M336.6 584.3h0M311.3 598.1h0M323.3 607.6h0M335.0 593.2h0M326.6 611.8h0M317.8 589.3h0M348.3 601.8h0M342.3 585.0h0M322.8 576.0h0M329.7 584.9h0M348.3 604.5h0M335.7 615.0h0M317.7 611.3h0M328.2 599.6h0M340.8 592.5h0M319.6 612.5h0M341.9 596.9h0M326.0 600.7h0M317.3 607.6h0M305.9 609.1h0M328.1 602.0h0M319.5 610.0h0M328.0 591.7h0M324.4 599.2h0M305.6 593.8h0M325.9 590.0h0M326.2 587.8h0M327.7 585.5h0M317.5 600.5h0M325.6 578.2h0M320.7 592.6h0M326.1 601.2h0M326.9 592.2h0M326.0 605.6h0M346.6 589.0h0M315.3 597.4h0M307.8 608.9h0M331.6 587.2h0M329.1 607.4h0M324.5 603.1h0M321.9 589.8h0M321.2 607.6h0M346.8 593.7h0M339.5 598.1h0M315.9 617.0h0M323.1 593.2h0M339.6 599.7h0M328.2 609.7h0M331.2 591.5h0M335.4 596.6h0M321.4 609.2h0M340.6 584.6h0M348.2 592.4h0M328.6 581.1h0M321.5 600.5h0M335.3 595.5h0M328.5 602.3h0M317.7 606.1h0M317.2 580.1h0M319.6 608.6h0M325.4 591.1h0M346.1 598.4h0M325.9 608.8h0M322.8 612.5h0M328.0 597.7h0M337.8 585.6h0M339.2 597.8h0M316.3 599.4h0M317.2 588.9h0M317.1 583.4h0M325.2 601.4h0M327.4 593.2h0M344.0 573.7h0M342.6 601.7h0M319.0 588.4h0M302.3 606.7h0M311.5 581.5h0M318.1 591.2h0M325.9 569.9h0M332.7 606.7h0M313.8 600.6h0M335.5 591.3h0M336.0 598.0h0M302.0 605.1h0M344.4 581.4h0M326.1 592.0h0M364.9 592.4h0M329.2 592.2h0M302.9 602.8h0M325.2 600.8h0M317.6 610.2h0M342.2 597.4h0M316.8 608.3h0M340.5 590.7h0M330.5 598.9h0M320.7 587.4h0M342.2 597.9h0M334.1 578.9h0M312.3 588.4h0M335.2 581.1h0M325.2 602.5h0M336.7 597.1h0M319.6 596.6h0M338.9 587.2h0M321.8 592.9h0M334.1 615.6h0M320.5 600.1h0M340.8 609.0h0M311.4 603.4h0M336.4 591.8h0M323.1 601.8h0M327.1 594.6h0M319.3 604.6h0M331.3 591.6h0M314.9 604.8h0M297.5 598.8h0M326.3 589.7h0M311.4 580.0h0M338.0 581.7h0M326.7 605.1h0M336.1 616.2h0M318.7 592.7h0M314.5 602.4h0M311.9 603.3h0M338.4 581.9h0M333.2 577.9h0M320.9 593.4h0M324.5 589.1h0M341.2 602.2h0M330.6 587.0h0M329.0 588.2h0M343.0 597.7h0M325.0 592.1h0M310.1 609.7h0M321.0 594.3h0M325.5 597.0h0M330.3 572.0h0M319.6 608.2h0M330.3 583.5h0M335.4 602.3h0M320.9 584.9h0M311.6 591.5h0M338.4 604.8h0M321.1 595.9h0M308.9 594.3h0M331.5 604.8h0M325.2 601.9h0M317.5 603.8h0M310.9 607.6h0M334.6 610.1h0M334.4 589.3h0M334.3 591.5h0M339.5 584.5h0M324.8 582.5h0M330.0 596.7h0M334.5 579.6h0M332.5 595.7h0M325.0 599.8h0M321.8 598.9h0M329.5 600.8h0M339.3 602.2h0M342.3 582.6h0M360.2 594.3h0M304.4 603.2h0M345.5 607.9h0M315.9 572.9h0M327.7 592.2h0M324.9 592.6h0M325.6 618.1h0M344.5 597.5h0M335.9 595.2h0M332.5 604.6h0M325.1 594.8h0M329.7 581.9h0M331.7 604.2h0M326.5 594.8h0M308.8 598.0h0M331.3 585.9h0M327.8 599.8h0M319.0 597.1h0M335.8 585.5h0M354.4 574.9h0M317.9 604.3h0M326.8 609.9h0M329.4 600.6h0M339.7 597.6h0M320.6 594.7h0M317.4 616.0h0M346.7 602.7h0M326.9 588.8h0M334.8 597.7h0M338.0 593.6h0M333.3 600.1h0M317.2 590.4h0M324.5 599.6h0M328.1 585.4h0M334.1 600.0h0M343.1 587.6h0M317.3 599.4h0M331.2 585.5h0M329.1 604.9h0M330.3 591.8h0M306.1 595.8h0M314.3 612.4h0M324.1 595.1h0M317.9 585.8h0M321.8 592.0h0M323.3 593.3h0M332.1 599.9h0M312.3 600.6h0M312.3 605.4h0M315.9 583.2h0M334.1 596.5h0M337.5 581.6h0M333.3 599.7h0M328.0 596.0h0M313.9 592.8h0M326.1 610.9h0M325.5 584.3h0M311.9 608.4h0M318.8 615.1h0M316.6 610.4h0M319.3 588.0h0M327.9 582.1h0M318.8 581.0h0M315.3 606.7h0M343.2 579.3h0M332.0 588.7h0M347.2 612.0h0M328.6 582.1h0M329.9 590.2h0M331.8 596.5h0M325.9 609.9h0M335.6 597.7h0M335.9 588.6h0M305.8 598.7h0M330.6 590.4h0M331.3 596.9h0M321.5 599.1h0M341.9 609.4h0M330.4 588.0h0M340.6 596.6h0M342.4 603.2h0M340.3 573.0h0M325.9 595.7h0M324.0 601.0h0M310.5 608.1h0M332.0 599.6h0M313.9 605.7h0M312.5 604.2h0M329.2 597.0h0M314.6 590.9h0M335.8 591.6h0M334.6 588.9h0M319.9 608.7h0M342.8 596.2h0M318.4 582.0h0M304.8 606.5h0M329.3 598.0h0M334.1 581.5h0M316.1 590.6h0M314.5 618.1h0M332.3 600.0h0M324.0 603.1h0M333.6 599.0h0M331.7 611.4h0M332.8 607.4h0M330.3 580.8h0M321.8 596.5h0M330.5 570.6h0M328.6 609.1h0M330.2 607.3h0M325.6 607.1h0M324.8 585.5h0M322.7 584.7h0M309.7 597.2h0M341.0 602.5h0M310.4 602.7h0M346.0 594.4h0M339.6 591.4h0M331.9 605.9h0M327.2 599.1h0M327.7 606.6h0M321.2 588.9h0M325.0 603.8h0M331.5 604.5h0M308.8 599.3h0M321.5 595.2h0M320.2 614.6h0M314.3 608.4h0M321.2 599.8h0M327.4 607.2h0M317.5 601.5h0M334.8 596.9h0M324.2 594.2h0M319.2 603.6h0M314.9 595.7h0M310.4 598.0h0M344.9 584.5h0M323.1 599.6h0M315.8 600.8h0M327.1 591.0h0M315.8 599.5h0M342.0 590.8h0M335.7 590.1h0M325.0 593.0h0M313.1 575.2h0M342.2 590.5h0M340.6 597.3h0M323.8 578.9h0M335.7 585.3h0M339.1 607.4h0M339.7 599.8h0M325.4 603.2h0M323.4 610.3h0M341.8 603.6h0M322.5 599.0h0M317.4 596.9h0M335.2 588.1h0M315.7 608.0h0M318.9 602.1h0M315.6 603.1h0M340.7 603.8h0M321.4 602.8h0M327.4 616.5h0M330.5 592.7h0M337.8 591.9h0M320.6 617.0h0M337.3 609.2h0M329.8 582.2h0M315.6 586.3h0M315.6 604.4h0M329.7 570.1h0M327.9 595.4h0M324.0 597.0h0M316.5 615.6h0M337.8 599.6h0M344.3 593.3h0M332.4 597.9h0M323.7 600.2h0M334.8 608.4h0M325.9 584.4h0M323.0 590.3h0M327.2 589.7h0M325.5 579.8h0M331.8 590.4h0M317.9 603.9h0M333.2 595.7h0M323.2 593.8h0M316.4 576.4h0M315.1 608.0h0M322.6 611.3h0M343.8 587.0h0M336.5 588.9h0M323.7 596.7h0M345.9 597.9h0M318.9 589.1h0M307.7 596.4h0M352.2 606.2h0M336.6 593.0h0M320.8 602.8h0M336.4 606.0h0M329.6 587.0h0M355.0 583.8h0M342.3 594.6h0M330.9 603.3h0M337.3 588.9h0M330.5 591.4h0M328.8 585.7h0M312.9 584.3h0M333.3 578.0h0M309.9 611.1h0M327.6 590.5h0M335.9 598.7h0M327.1 587.4h0M334.6 612.6h0M340.8 597.0h0M338.2 594.5h0M327.9 595.0h0M337.3 587.8h0M329.7 607.9h0M325.8 594.9h0M319.8 594.0h0M326.9 612.3h0M319.9 602.4h0M313.2 611.0h0M314.8 602.2h0M336.1 578.3h0M329.9 591.2h0M327.3 612.6h0M319.1 592.8h0M331.0 586.8h0M313.2 599.9h0M306.8 603.0h0M327.2 591.4h0M341.5 604.1h0M318.0 613.1h0M319.5 594.3h0M319.4 601.7h0M317.3 601.0h0M331.8 593.4h0M337.1 603.5h0M329.0 606.3h0M338.6 606.0h0M303.7 611.4h0M330.1 604.7h0M324.3 578.9h0M306.8 591.9h0M326.7 596.5h0M338.3 598.9h0M344.1 616.3h0M334.3 604.8h0M328.3 577.1h0M307.6 591.8h0M341.8 575.9h0M326.4 593.4h0M332.4 611.0h0M332.9 603.7h0M307.4 587.2h0M320.8 594.0h0M330.2 597.5h0M320.6 596.4h0M324.4 599.8h0M306.9 610.5h0M319.4 602.4h0M317.8 597.0h0M334.5 596.1h0M338.8 587.8h0M316.1 578.3h0M325.4 592.0h0M340.5 600.3h0M332.7 579.9h0M336.9 593.7h0M345.5 583.2h0M332.1 602.3h0M327.9 592.5h0M332.8 593.9h0M339.1 596.0h0M338.7 588.8h0M316.3 601.2h0M325.4 609.2h0M318.9 601.3h0M323.1 569.6h0M314.0 607.1h0M327.4 581.1h0M319.6 601.8h0M320.4 585.3h0M330.7 593.0h0M317.6 595.3h0M333.0 598.6h0M326.7 604.3h0M320.8 596.5h0M354.3 578.8h0M325.6 598.9h0M320.8 574.1h0M345.8 597.3h0M317.1 604.5h0M327.1 583.9h0M304.1 587.8h0M320.2 597.7h0M336.6 596.0h0M321.7 585.5h0M313.6 607.5h0M316.5 590.4h0M331.9 590.2h0M336.8 597.5h0M327.2 604.2h0M315.8 608.6h0M327.9 590.4h0M338.6 600.2h0M350.6 592.8h0M311.3 600.8h0M326.3 580.5h0M330.1 603.5h0M314.4 596.1h0M350.6 597.9h0M341.0 595.7h0M323.4 601.8h0M318.2 602.9h0M334.4 588.2h0M350.1 600.1h0M342.4 600.0h0M325.8 597.9h0M337.1 591.5h0M331.4 602.2h0M329.9 595.8h0M327.5 592.3h0M325.4 588.6h0M338.8 605.9h0M330.4 575.8h0M340.0 599.7h0M328.9 603.6h0M327.9 579.5h0M309.6 585.2h0M336.7 593.6h0M308.9 608.0h0M331.8 604.1h0M329.7 586.5h0M342.6 596.8h0M315.8 604.9h0M340.0 587.7h0M343.0 601.2h0M337.7 610.2h0M332.9 586.4h0M319.7 600.3h0M316.1 606.8h0M340.2 590.3h0M314.0 608.8h0M338.4 595.2h0M321.7 577.4h0M332.4 588.9h0M318.6 595.9h0M339.4 586.1h0M338.1 589.0h0M322.9 599.9h0M315.8 595.2h0M353.7 618.1h0M319.8 601.3h0M337.7 591.5h0M327.7 577.3h0M316.1 577.9h0M328.6 601.7h0M344.6 597.2h0M328.2 586.2h0M310.8 605.5h0M317.3 598.8h0M324.2 612.1h0M317.3 614.4h0M346.3 594.4h0M338.6 587.1h0M321.2 605.3h0M304.5 607.5h0M323.6 600.9h0M322.6 610.1h0M321.4 593.9h0M317.7 599.9h0M339.7 578.6h0M327.9 607.1h0M324.5 600.9h0M313.3 594.0h0M331.4 596.6h0M326.9 618.1h0M343.5 577.6h0M313.0 595.5h0M324.1 610.1h0M330.7 602.7h0M319.1 577.4h0M311.0 600.3h0M342.2 589.4h0M308.9 603.9h0M318.3 593.0h0M305.2 611.4h0M338.7 598.0h0M308.3 610.3h0M343.3 599.5h0M330.2 591.4h0M316.6 595.3h0M348.9 594.6h0M331.6 601.4h0M334.5 586.8h0M333.0 611.2h0M325.2 608.4h0M328.9 590.3h0M328.4 595.6h0M320.3 608.5h0M314.8 608.3h0M333.6 584.3h0M323.9 618.1h0M315.9 600.7h0M323.2 616.5h0M320.9 597.1h0M341.7 601.9h0M331.2 590.4h0M311.0 608.2h0M327.3 584.1h0M323.3 597.3h0M320.8 591.3h0M334.5 618.1h0M323.9 579.4h0M313.7 604.8h0M318.2 588.8h0M346.6 588.6h0M343.7 587.3h0M344.0 599.4h0M322.6 586.2h0M326.6 603.8h0M345.4 585.4h0M335.5 586.1h0M342.9 578.4h0M315.4 593.1h0M333.7 593.3h0M328.4 618.1h0M329.4 581.1h0M333.0 596.1h0M338.3 583.1h0M320.4 599.3h0M315.2 600.4h0M320.2 595.8h0M355.9 586.6h0M338.6 578.7h0M337.5 594.2h0M338.7 597.0h0M310.0 599.3h0M308.9 609.4h0M327.5 574.0h0M324.1 583.3h0M337.8 582.5h0M344.7 602.6h0M337.3 586.8h0M332.1 602.8h0M308.2 574.6h0M323.2 597.5h0M313.7 587.7h0M328.8 592.9h0M334.7 580.9h0M348.5 601.4h0M295.1 595.4h0M324.1 605.1h0M315.6 605.0h0M338.5 591.4h0M338.1 587.3h0M326.1 582.0h0M350.3 594.6h0M332.8 568.5h0M356.2 578.2h0M337.4 592.3h0M304.8 618.1h0M331.3 575.5h0M329.8 608.6h0M356.0 596.0h0M309.8 582.2h0M326.6 586.7h0M305.3 600.7h0M355.9 564.2h0M321.8 605.5h0M307.2 580.1h0M346.9 582.8h0M331.3 589.0h0M303.9 595.7h0M332.9 600.6h0M309.6 586.2h0M325.3 594.7h0M341.3 597.1h0M308.7 596.2h0M353.3 607.0h0M338.2 593.0h0M354.9 591.9h0M330.2 599.4h0M302.7 597.4h0M311.1 603.5h0M318.3 598.5h0M365.9 569.2h0M313.3 599.4h0M345.5 597.7h0M322.4 588.1h0M323.4 588.6h0M335.3 605.8h0M364.9 601.0h0M318.1 577.9h0M331.1 595.4h0M321.3 604.9h0M350.7 598.9h0M322.6 584.8h0M310.1 585.1h0M377.6 574.2h0M329.2 598.6h0M317.6 596.1h0M329.2 558.5h0M339.8 596.7h0M337.4 593.3h0M338.4 570.6h0M297.8 605.2h0M314.3 602.8h0M334.5 598.9h0M350.9 604.3h0M325.2 604.9h0M327.3 565.7h0M309.3 604.7h0M335.5 589.6h0M318.6 618.1h0M314.7 587.4h0M333.5 610.0h0M342.9 586.8h0M348.7 592.2h0M311.7 605.3h0M309.6 612.6h0M356.3 594.8h0M333.6 600.9h0M318.5 585.2h0M299.4 596.4h0M305.7 592.6h0M321.4 592.4h0M329.8 589.3h0M333.4 578.7h0M323.1 586.8h0M313.3 584.0h0M343.7 612.5h0M352.8 572.7h0M325.0 605.8h0M309.8 597.5h0M348.4 573.4h0M346.6 586.1h0M350.3 577.2h0M325.8 590.8h0M334.8 594.1h0M334.3 611.0h0M312.9 588.1h0M321.0 590.3h0M331.4 613.6h0M323.0 603.1h0M322.0 586.4h0M334.8 594.9h0M334.8 607.1h0M338.0 600.6h0M323.5 592.9h0M366.4 586.0h0M306.2 618.1h0M347.3 596.7h0M331.6 603.0h0M311.1 582.2h0M382.4 574.3h0M337.0 588.9h0M307.3 600.8h0M364.9 588.1h0M342.9 584.2h0M317.6 597.8h0M320.6 605.8h0M319.7 584.0h0M317.0 596.5h0M338.1 609.1h0M314.7 617.3h0M351.0 573.6h0M315.0 590.1h0M337.3 589.8h0M326.6 581.0h0M330.5 585.8h0M311.5 589.3h0M324.0 585.8h0M343.3 593.0h0M342.4 595.6h0M323.5 585.1h0M311.0 591.9h0M334.9 574.0h0M341.2 582.4h0M332.2 583.7h0M328.6 592.6h0M342.6 595.1h0M334.3 601.7h0M327.5 615.3h0M331.2 602.8h0M334.8 589.2h0M308.3 618.1h0M311.5 587.8h0M414.1 577.1h0M405.5 585.6h0M397.3 594.5h0M404.5 590.0h0M408.6 577.5h0M412.1 573.5h0M402.6 598.9h0M414.0 570.2h0M408.4 593.5h0M412.2 577.2h0M409.3 567.6h0M408.2 592.1h0M410.6 595.8h0M407.5 582.8h0M411.1 586.3h0M413.4 557.0h0M418.6 560.7h0M415.2 579.1h0M407.2 586.5h0M402.3 580.0h0M407.8 580.3h0M412.0 567.1h0M405.9 596.9h0M402.1 589.3h0M401.4 593.5h0M402.5 592.4h0M402.9 602.2h0M404.0 586.3h0M405.6 594.3h0M409.5 584.4h0M411.4 577.8h0M414.5 582.8h0M410.4 584.0h0M417.3 551.2h0M417.2 571.4h0M415.8 575.4h0M409.4 578.7h0M410.5 570.7h0M413.2 570.5h0M402.1 586.0h0M408.7 590.7h0M409.1 579.6h0M410.3 593.5h0M410.5 574.1h0M411.6 579.6h0M410.2 580.1h0M416.1 572.7h0M405.8 590.7h0M395.2 588.9h0M410.8 573.6h0M407.9 581.3h0M406.0 571.0h0M407.3 574.9h0M406.3 590.7h0M399.8 590.7h0M382.2 577.2h0M375.5 573.7h0M383.9 575.8h0M371.9 577.8h0M367.9 595.0h0M372.6 578.8h0M366.3 605.8h0M389.5 593.4h0M377.2 591.9h0M373.5 593.0h0M376.8 611.2h0M364.0 583.7h0M378.2 597.6h0M378.8 587.8h0M388.0 598.3h0M374.6 604.0h0M389.1 585.6h0M386.4 598.7h0M358.4 593.0h0M374.7 583.0h0M383.2 580.1h0M370.7 605.9h0M381.9 603.8h0M370.7 586.2h0M386.2 575.9h0M391.0 589.5h0M394.4 593.2h0M372.4 587.0h0M390.0 595.3h0M374.2 612.8h0M388.2 568.7h0M380.2 571.8h0M355.7 606.5h0M365.7 613.5h0M371.5 589.5h0M391.9 589.2h0M381.7 608.1h0M401.4 582.5h0M360.2 589.4h0M361.7 573.1h0M377.1 591.6h0M395.0 591.9h0M364.2 594.0h0M384.1 603.8h0M378.7 600.1h0M407.0 505.0h0M409.7 504.3h0M412.4 503.8h0M415.1 502.8h0M417.8 501.0h0M419.6 501.5h0M421.5 501.0h0M423.4 501.5h0M425.0 501.0h0M427.0 501.0h0M429.5 501.0h0M431.5 500.5h0M434.0 501.5h0M436.0 501.0h0M443.0 498.0h0M446.0 498.5h0M449.0 498.0h0M412.8 514.0h0M404.8 517.3h0M412.8 526.0h0M417.5 525.4h0M416.4 530.3h0M416.0 539.9h0M399.8 545.9h0M380.8 561.3h0M397.0 561.9h0M390.4 568.0h0M412.4 563.7h0M426.0 562.2h0M426.5 565.0h0M424.2 568.6h0M422.4 582.1h0M426.0 573.0h0" stroke="#000" stroke-width="2.3" stroke-linecap="square" fill="none"/>
<rect x="293.00" y="495.50" width="158.20" height="124.80" fill="none" stroke="#000" stroke-width="2.5"/>
<line x1="363.50" y1="495.50" x2="363.50" y2="620.30" stroke="#000" stroke-width="2.3"/>
<line x1="293.00" y1="557.00" x2="451.20" y2="557.00" stroke="#000" stroke-width="2.3"/>
<text x="289.00" y="643.10" font-size="13" font-weight="normal" font-family="'Liberation Sans', sans-serif" text-anchor="middle" textLength="14.2" lengthAdjust="spacingAndGlyphs" stroke="#000" stroke-width="0.45">10</text>
<text x="300.00" y="635.60" font-size="12" font-weight="normal" font-family="'Liberation Sans', sans-serif" text-anchor="middle" stroke="#000" stroke-width="0.45">0</text>
<text x="328.55" y="643.10" font-size="13" font-weight="normal" font-family="'Liberation Sans', sans-serif" text-anchor="middle" textLength="14.2" lengthAdjust="spacingAndGlyphs" stroke="#000" stroke-width="0.45">10</text>
<text x="339.55" y="635.60" font-size="12" font-weight="normal" font-family="'Liberation Sans', sans-serif" text-anchor="middle" stroke="#000" stroke-width="0.45">1</text>
<text x="368.10" y="643.10" font-size="13" font-weight="normal" font-family="'Liberation Sans', sans-serif" text-anchor="middle" textLength="14.2" lengthAdjust="spacingAndGlyphs" stroke="#000" stroke-width="0.45">10</text>
<text x="379.10" y="635.60" font-size="12" font-weight="normal" font-family="'Liberation Sans', sans-serif" text-anchor="middle" stroke="#000" stroke-width="0.45">2</text>
<text x="407.65" y="643.10" font-size="13" font-weight="normal" font-family="'Liberation Sans', sans-serif" text-anchor="middle" textLength="14.2" lengthAdjust="spacingAndGlyphs" stroke="#000" stroke-width="0.45">10</text>
<text x="418.65" y="635.60" font-size="12" font-weight="normal" font-family="'Liberation Sans', sans-serif" text-anchor="middle" stroke="#000" stroke-width="0.45">3</text>
<text x="447.20" y="643.10" font-size="13" font-weight="normal" font-family="'Liberation Sans', sans-serif" text-anchor="middle" textLength="14.2" lengthAdjust="spacingAndGlyphs" stroke="#000" stroke-width="0.45">10</text>
<text x="458.20" y="635.60" font-size="12" font-weight="normal" font-family="'Liberation Sans', sans-serif" text-anchor="middle" stroke="#000" stroke-width="0.45">4</text>
<text x="280.50" y="628.40" font-size="13" font-weight="normal" font-family="'Liberation Sans', sans-serif" textLength="14.2" lengthAdjust="spacingAndGlyphs" transform="rotate(-90 280.50 628.40)" stroke="#000" stroke-width="0.45">10</text>
<text x="272.50" y="613.90" font-size="12" font-weight="normal" font-family="'Liberation Sans', sans-serif" transform="rotate(-90 272.50 613.90)" stroke="#000" stroke-width="0.45">0</text>
<text x="280.50" y="597.20" font-size="13" font-weight="normal" font-family="'Liberation Sans', sans-serif" textLength="14.2" lengthAdjust="spacingAndGlyphs" transform="rotate(-90 280.50 597.20)" stroke="#000" stroke-width="0.45">10</text>
<text x="272.50" y="582.70" font-size="12" font-weight="normal" font-family="'Liberation Sans', sans-serif" transform="rotate(-90 272.50 582.70)" stroke="#000" stroke-width="0.45">1</text>
<text x="280.50" y="566.00" font-size="13" font-weight="normal" font-family="'Liberation Sans', sans-serif" textLength="14.2" lengthAdjust="spacingAndGlyphs" transform="rotate(-90 280.50 566.00)" stroke="#000" stroke-width="0.45">10</text>
<text x="272.50" y="551.50" font-size="12" font-weight="normal" font-family="'Liberation Sans', sans-serif" transform="rotate(-90 272.50 551.50)" stroke="#000" stroke-width="0.45">2</text>
<text x="280.50" y="534.80" font-size="13" font-weight="normal" font-family="'Liberation Sans', sans-serif" textLength="14.2" lengthAdjust="spacingAndGlyphs" transform="rotate(-90 280.50 534.80)" stroke="#000" stroke-width="0.45">10</text>
<text x="272.50" y="520.30" font-size="12" font-weight="normal" font-family="'Liberation Sans', sans-serif" transform="rotate(-90 272.50 520.30)" stroke="#000" stroke-width="0.45">3</text>
<text x="280.50" y="503.60" font-size="13" font-weight="normal" font-family="'Liberation Sans', sans-serif" textLength="14.2" lengthAdjust="spacingAndGlyphs" transform="rotate(-90 280.50 503.60)" stroke="#000" stroke-width="0.45">10</text>
<text x="272.50" y="489.10" font-size="12" font-weight="normal" font-family="'Liberation Sans', sans-serif" transform="rotate(-90 272.50 489.10)" stroke="#000" stroke-width="0.45">4</text>
<text x="352.00" y="656.50" font-size="13.5" font-weight="bold" font-family="'Liberation Sans', sans-serif" textLength="37.5" lengthAdjust="spacingAndGlyphs" >FL1-H</text>
<text x="262.00" y="574.50" font-size="13.5" font-weight="bold" font-family="'Liberation Sans', sans-serif" textLength="37.5" lengthAdjust="spacingAndGlyphs" transform="rotate(-90 262.00 574.50)" >FL3-H</text>
<text x="331.90" y="480.80" font-size="15.5" font-weight="bold" font-family="'Liberation Sans', sans-serif" textLength="83.3" lengthAdjust="spacingAndGlyphs" >+zVAD-fmk</text>
<text x="423.50" y="614.30" font-size="13.5" font-weight="bold" font-family="'Liberation Serif', serif" textLength="20.7" lengthAdjust="spacingAndGlyphs" stroke="#000" stroke-width="0.4">6%</text>
<text x="3.20" y="21.50" font-size="28" font-weight="bold" font-family="'Liberation Sans', sans-serif" textLength="19.6" lengthAdjust="spacingAndGlyphs" >A</text>
<text x="5.00" y="711.20" font-size="28" font-weight="bold" font-family="'Liberation Sans', sans-serif" textLength="16.9" lengthAdjust="spacingAndGlyphs" >B</text>
<path d="M72 30.6V11.2H215.8M300 11.2H453.5V30.6" fill="none" stroke="#000" stroke-width="1.6"/>
<text x="227.70" y="12.70" font-size="15" font-weight="bold" font-family="'Liberation Sans', sans-serif" textLength="63.4" lengthAdjust="spacingAndGlyphs" >patient 2</text>
<path d="M72.3 469.5V450.4H215.4M300 450.4H453.5V469.7" fill="none" stroke="#000" stroke-width="1.6"/>
<text x="232.30" y="452.70" font-size="15" font-weight="bold" font-family="'Liberation Sans', sans-serif" textLength="50.8" lengthAdjust="spacingAndGlyphs" >control</text>
<path d="M8.9 76V212M8.9 453V596" stroke="#000" stroke-width="1.6"/>
<path d="M8.8 68.4L13.6 77.8H4Z M8.8 603.4L13.6 594H4Z" fill="#000"/>
<text x="14.90" y="448.00" font-size="16" font-weight="bold" font-family="'Liberation Sans', sans-serif" textLength="231" lengthAdjust="spacingAndGlyphs" transform="rotate(-90 14.90 448.00)" >propidium iodide fluorescence</text>
<path d="M80 676.8H158M367 676.8H436" stroke="#000" stroke-width="1.6"/>
<path d="M72 676.8L82 672.4V681.2Z M444.3 676.8L434.3 672.4V681.2Z" fill="#000"/>
<text x="169.60" y="683.00" font-size="16" font-weight="bold" font-family="'Liberation Sans', sans-serif" textLength="175" lengthAdjust="spacingAndGlyphs" >annexin V fluorescence</text>
<path d="M70.2 751.7V958.4M70.2 952.4H516.2" stroke="#333" stroke-width="1.1" fill="none"/>
<path d="M64.2 952.40H70.2 M64.2 912.36H70.2 M64.2 872.32H70.2 M64.2 832.28H70.2 M64.2 792.24H70.2 M64.2 752.20H70.2 M70.20 952.4V958.4 M110.75 952.4V958.4 M151.29 952.4V958.4 M191.84 952.4V958.4 M232.38 952.4V958.4 M272.93 952.4V958.4 M313.47 952.4V958.4 M354.02 952.4V958.4 M394.56 952.4V958.4 M435.11 952.4V958.4 M475.65 952.4V958.4 M516.20 952.4V958.4" stroke="#333" stroke-width="1.1" fill="none"/>
<text x="55.00" y="951.90" font-size="13.5" font-weight="normal" font-family="'Liberation Sans', sans-serif" text-anchor="end" stroke="#000" stroke-width="0.35">0</text>
<text x="55.00" y="911.86" font-size="13.5" font-weight="normal" font-family="'Liberation Sans', sans-serif" text-anchor="end" stroke="#000" stroke-width="0.35">2</text>
<text x="55.00" y="871.82" font-size="13.5" font-weight="normal" font-family="'Liberation Sans', sans-serif" text-anchor="end" stroke="#000" stroke-width="0.35">4</text>
<text x="55.00" y="831.78" font-size="13.5" font-weight="normal" font-family="'Liberation Sans', sans-serif" text-anchor="end" stroke="#000" stroke-width="0.35">6</text>
<text x="55.00" y="791.74" font-size="13.5" font-weight="normal" font-family="'Liberation Sans', sans-serif" text-anchor="end" stroke="#000" stroke-width="0.35">8</text>
<text x="55.00" y="751.70" font-size="13.5" font-weight="normal" font-family="'Liberation Sans', sans-serif" text-anchor="end" stroke="#000" stroke-width="0.35">10</text>
<rect x="81.37" y="851.70" width="18.2" height="100.70" fill="#000"/>
<rect x="121.92" y="949.20" width="18.2" height="3.20" fill="#000"/>
<rect x="162.46" y="873.12" width="18.2" height="79.28" fill="#000"/>
<rect x="203.01" y="949.60" width="18.2" height="2.80" fill="#000"/>
<rect x="243.55" y="866.51" width="18.2" height="85.89" fill="#000"/>
<rect x="284.10" y="949.60" width="18.2" height="2.80" fill="#000"/>
<path d="M374.29 902.35V879.33M369.09 879.33H379.49" stroke="#000" stroke-width="1.5"/>
<rect x="365.94" y="902.35" width="16.7" height="50.05" fill="#fff" stroke="#000" stroke-width="1.5"/>
<rect x="405.74" y="949.00" width="18.2" height="3.40" fill="#000"/>
<path d="M455.38 889.34V846.89M450.18 846.89H460.58" stroke="#000" stroke-width="1.5"/>
<rect x="447.03" y="889.34" width="16.7" height="63.06" fill="#fff" stroke="#000" stroke-width="1.5"/>
<rect x="486.83" y="949.00" width="18.2" height="3.40" fill="#000"/>
<text x="120.70" y="814.70" font-size="15.5" font-weight="bold" font-family="'Liberation Sans', sans-serif" textLength="62.9" lengthAdjust="spacingAndGlyphs" >patient 1</text>
<text x="241.80" y="814.70" font-size="15.5" font-weight="bold" font-family="'Liberation Sans', sans-serif" textLength="64.4" lengthAdjust="spacingAndGlyphs" >patient 5</text>
<text x="409.40" y="815.20" font-size="15.5" font-weight="bold" font-family="'Liberation Sans', sans-serif" textLength="60.2" lengthAdjust="spacingAndGlyphs" >controls</text>
<text x="20.20" y="964.20" font-size="16" font-weight="bold" font-family="'Liberation Sans', sans-serif" textLength="243" lengthAdjust="spacingAndGlyphs" transform="rotate(-90 20.20 964.20)" >DEVD-AMC cleavage (pmol/min)</text>
<text x="97.47" y="962.40" font-size="14.8" font-weight="normal" font-family="'Liberation Sans', sans-serif" text-anchor="end" transform="rotate(-51 97.47 962.40)" stroke="#000" stroke-width="0.12">spont.</text>
<text x="138.02" y="962.40" font-size="14.8" font-weight="normal" font-family="'Liberation Sans', sans-serif" text-anchor="end" transform="rotate(-51 138.02 962.40)" stroke="#000" stroke-width="0.12">+zVAD-fmk</text>
<text x="178.56" y="962.40" font-size="14.8" font-weight="normal" font-family="'Liberation Sans', sans-serif" text-anchor="end" transform="rotate(-51 178.56 962.40)" stroke="#000" stroke-width="0.12">anti-Fas</text>
<text x="219.11" y="962.40" font-size="14.8" font-weight="normal" font-family="'Liberation Sans', sans-serif" text-anchor="end" transform="rotate(-51 219.11 962.40)" stroke="#000" stroke-width="0.12">anti-Fas+zVAD-fmk</text>
<text x="259.65" y="962.40" font-size="14.8" font-weight="normal" font-family="'Liberation Sans', sans-serif" text-anchor="end" transform="rotate(-51 259.65 962.40)" stroke="#000" stroke-width="0.12">spont.</text>
<text x="300.20" y="962.40" font-size="14.8" font-weight="normal" font-family="'Liberation Sans', sans-serif" text-anchor="end" transform="rotate(-51 300.20 962.40)" stroke="#000" stroke-width="0.12">+zVAD-fmk</text>
<text x="384.79" y="962.40" font-size="14.8" font-weight="normal" font-family="'Liberation Sans', sans-serif" text-anchor="end" transform="rotate(-51 384.79 962.40)" stroke="#000" stroke-width="0.12">spont.</text>
<text x="425.34" y="962.40" font-size="14.8" font-weight="normal" font-family="'Liberation Sans', sans-serif" text-anchor="end" transform="rotate(-51 425.34 962.40)" stroke="#000" stroke-width="0.12">+zVAD-fmk</text>
<text x="464.88" y="962.40" font-size="14.8" font-weight="normal" font-family="'Liberation Sans', sans-serif" text-anchor="end" transform="rotate(-51 464.88 962.40)" stroke="#000" stroke-width="0.12">anti-Fas</text>
<text x="503.93" y="962.40" font-size="14.8" font-weight="normal" font-family="'Liberation Sans', sans-serif" text-anchor="end" transform="rotate(-51 503.93 962.40)" stroke="#000" stroke-width="0.12">anti-Fas+zVAD-fmk</text>
</svg></body></html>
